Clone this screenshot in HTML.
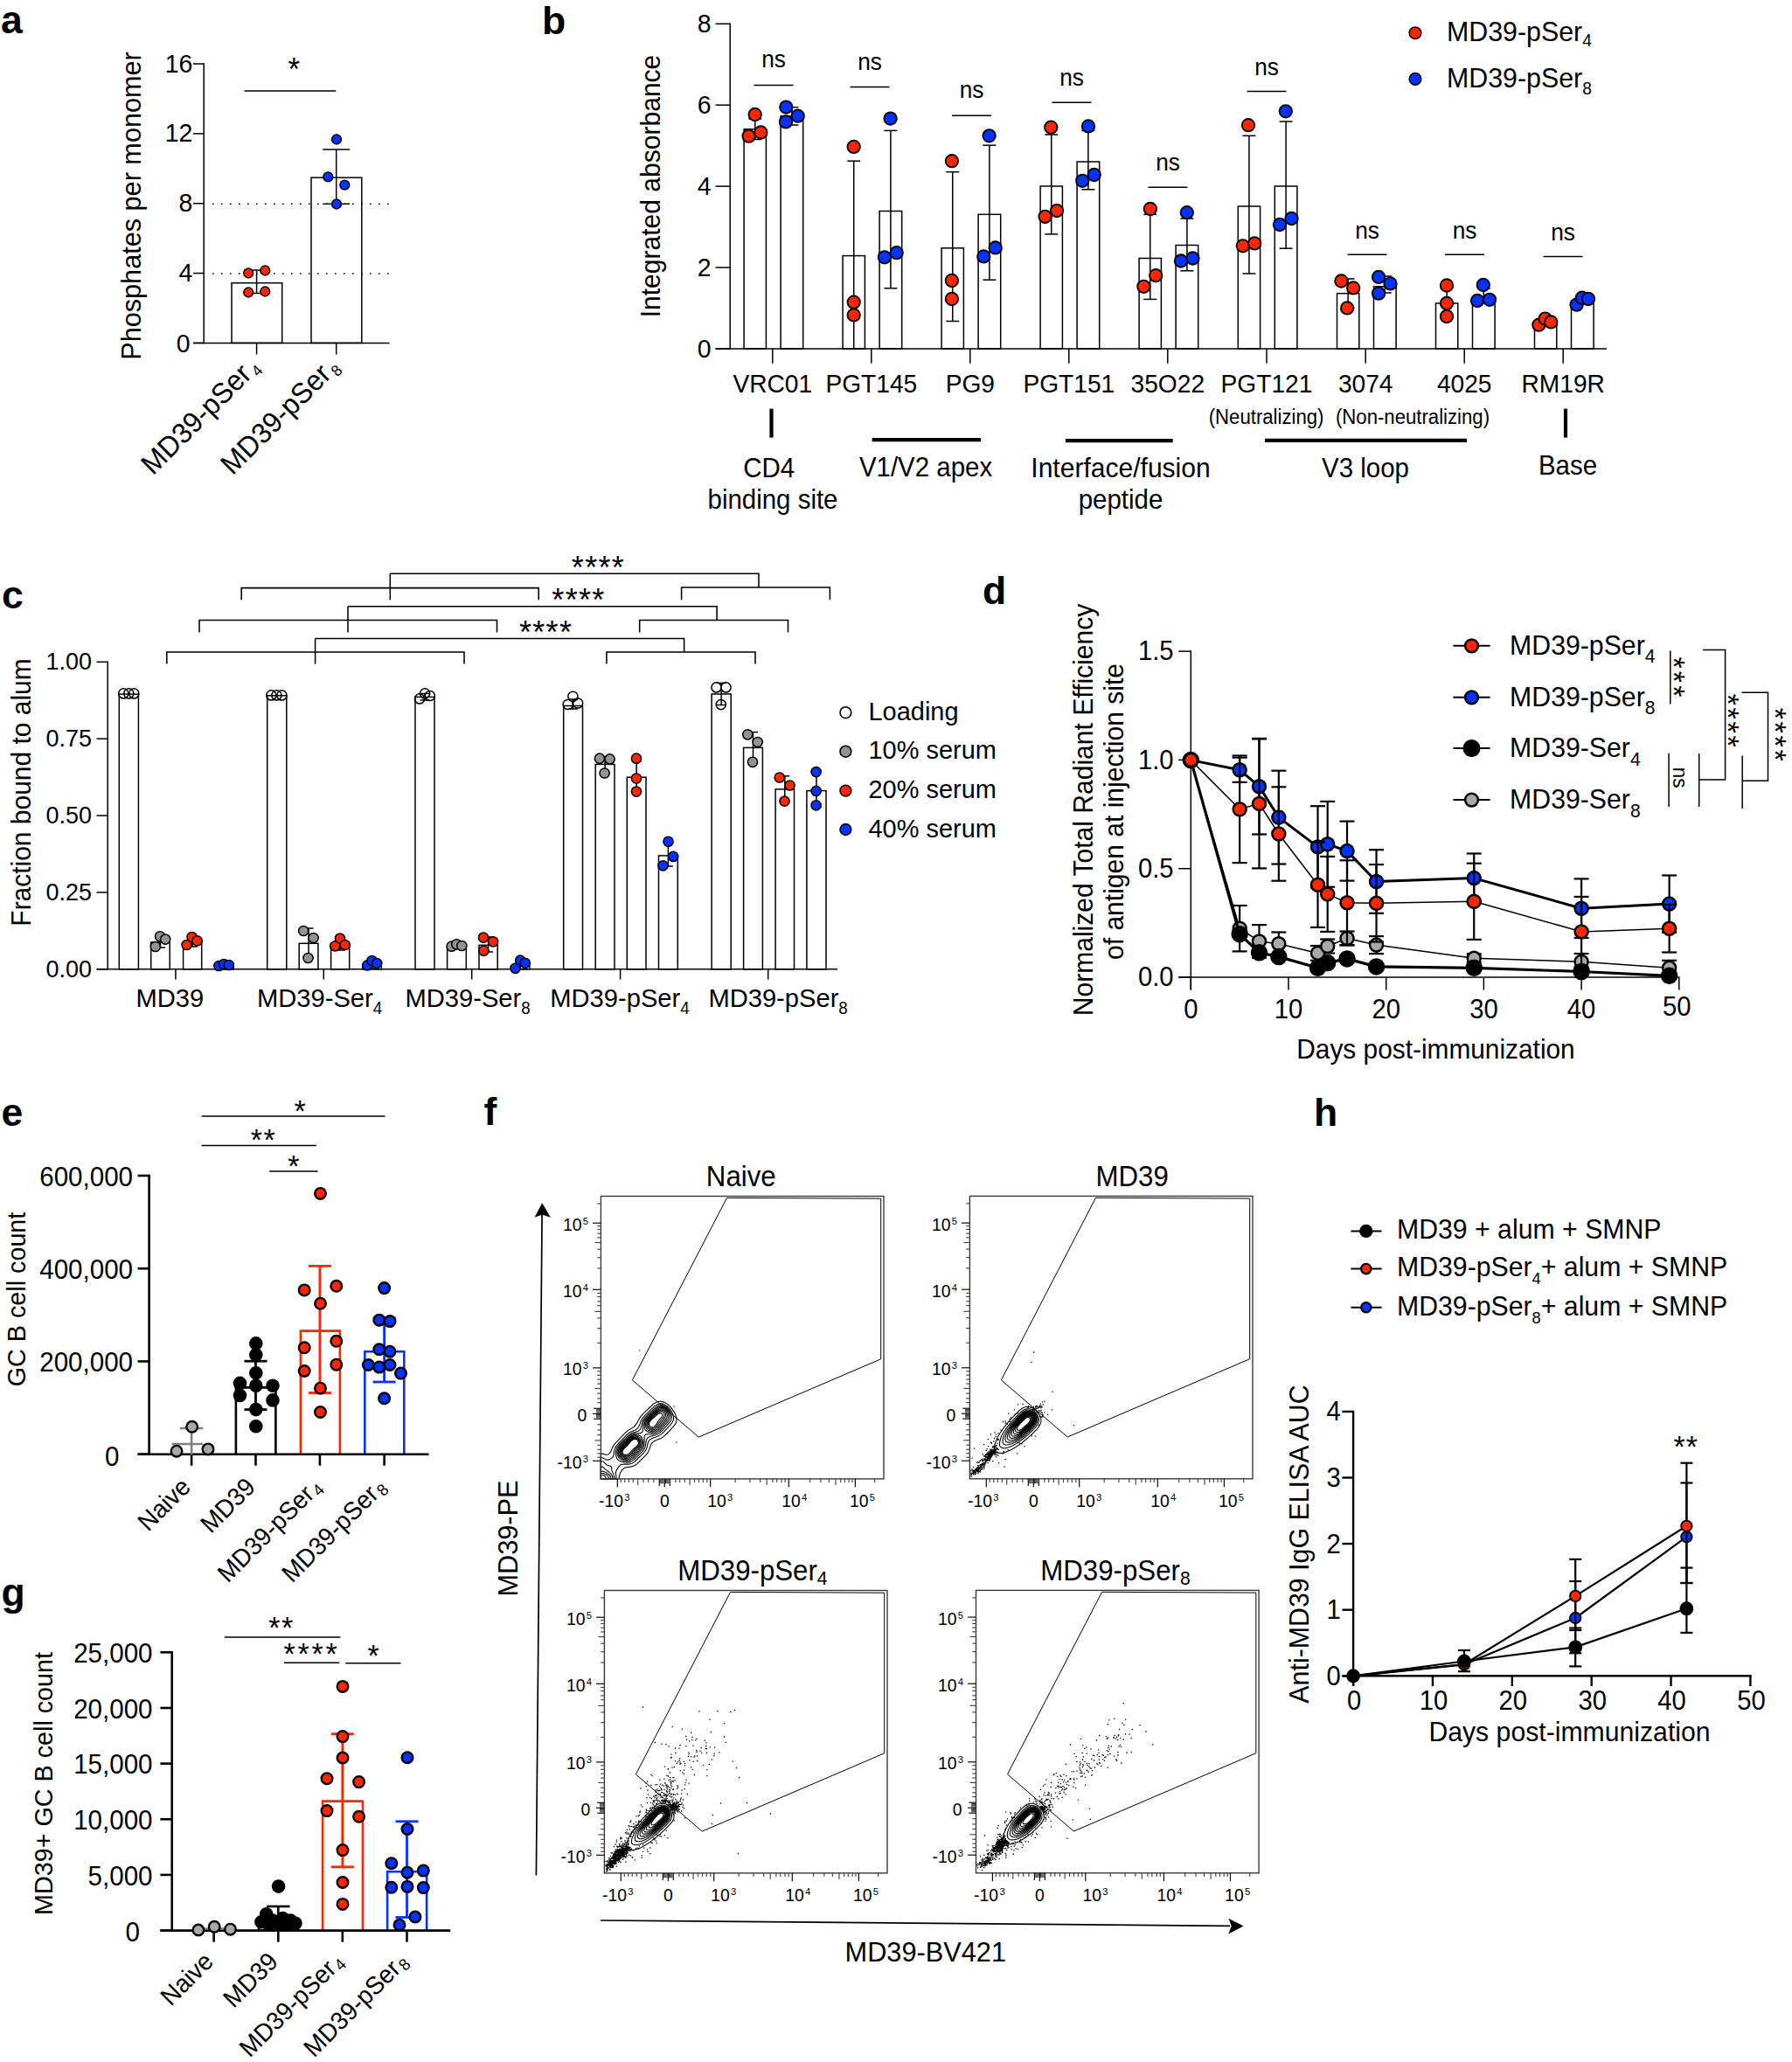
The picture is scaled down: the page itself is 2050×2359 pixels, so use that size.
<!DOCTYPE html>
<html lang="en"><head><meta charset="utf-8"><title>Figure</title>
<style>
html,body{margin:0;padding:0;background:#fff;}
body{width:2050px;height:2359px;overflow:hidden;}
svg{display:block;font-family:'Liberation Sans', Arial, Helvetica, sans-serif;fill:#000;}
svg text{stroke:none;}
</style></head><body>
<svg width="2050" height="2359" viewBox="0 0 2050 2359">
<rect x="0" y="0" width="2050" height="2359" fill="#fff" stroke="none"/>
<text transform="translate(1 38)" font-size="44.5" font-weight="bold">a</text>
<line x1="233.2" y1="72.25" x2="233.2" y2="393.15" stroke="#000" stroke-width="1.5"/>
<line x1="221" y1="392.4" x2="445.5" y2="392.4" stroke="#000" stroke-width="1.5"/>
<line x1="221" y1="392.4" x2="233.2" y2="392.4" stroke="#000" stroke-width="1.5"/>
<text transform="translate(217.6 402.6) scale(0.96 1)" font-size="29.64" text-anchor="end">0</text>
<line x1="221" y1="312.56" x2="233.2" y2="312.56" stroke="#000" stroke-width="1.5"/>
<text transform="translate(220.4 322.16) scale(0.96 1)" font-size="29.64" text-anchor="end">4</text>
<line x1="221" y1="232.72" x2="233.2" y2="232.72" stroke="#000" stroke-width="1.5"/>
<text transform="translate(220.4 242.32) scale(0.96 1)" font-size="29.64" text-anchor="end">8</text>
<line x1="221" y1="152.88" x2="233.2" y2="152.88" stroke="#000" stroke-width="1.5"/>
<text transform="translate(220.4 162.48) scale(0.96 1)" font-size="29.64" text-anchor="end">12</text>
<line x1="221" y1="73.04" x2="233.2" y2="73.04" stroke="#000" stroke-width="1.5"/>
<text transform="translate(220.4 82.64) scale(0.96 1)" font-size="29.64" text-anchor="end">16</text>
<line x1="293.6" y1="392.4" x2="293.6" y2="405.5" stroke="#000" stroke-width="1.5"/>
<line x1="384.7" y1="392.4" x2="384.7" y2="405.5" stroke="#000" stroke-width="1.5"/>
<line x1="243" y1="233.3" x2="448" y2="233.3" stroke="#000" stroke-width="1.6" stroke-dasharray="1.6 8.4"/>
<line x1="243" y1="313" x2="448" y2="313" stroke="#000" stroke-width="1.6" stroke-dasharray="1.6 8.4"/>
<rect x="265" y="323.7" width="57.7" height="68.7" fill="none" stroke="#000" stroke-width="1.5"/>
<rect x="356" y="203.2" width="57.8" height="189.2" fill="none" stroke="#000" stroke-width="1.5"/>
<line x1="293.6" y1="309" x2="293.6" y2="335.5" stroke="#000" stroke-width="1.5"/>
<line x1="279.1" y1="309" x2="308.1" y2="309" stroke="#000" stroke-width="1.5"/>
<line x1="279.1" y1="335.5" x2="308.1" y2="335.5" stroke="#000" stroke-width="1.5"/>
<line x1="384.7" y1="171" x2="384.7" y2="233.3" stroke="#000" stroke-width="1.5"/>
<line x1="369.2" y1="171" x2="400.2" y2="171" stroke="#000" stroke-width="1.5"/>
<line x1="369.2" y1="233.3" x2="400.2" y2="233.3" stroke="#000" stroke-width="1.5"/>
<circle cx="284.2" cy="312.5" r="5.4" fill="#ff2600" stroke="#000" stroke-width="1.5"/>
<circle cx="303.3" cy="309.5" r="5.4" fill="#ff2600" stroke="#000" stroke-width="1.5"/>
<circle cx="284.2" cy="334.5" r="5.4" fill="#ff2600" stroke="#000" stroke-width="1.5"/>
<circle cx="303.3" cy="333.5" r="5.4" fill="#ff2600" stroke="#000" stroke-width="1.5"/>
<circle cx="385" cy="159.5" r="5.4" fill="#0433ff" stroke="#000" stroke-width="1.5"/>
<circle cx="375.3" cy="202.3" r="5.4" fill="#0433ff" stroke="#000" stroke-width="1.5"/>
<circle cx="394.3" cy="211.7" r="5.4" fill="#0433ff" stroke="#000" stroke-width="1.5"/>
<circle cx="385" cy="233.5" r="5.4" fill="#0433ff" stroke="#000" stroke-width="1.5"/>
<line x1="279.5" y1="104" x2="384.3" y2="104" stroke="#000" stroke-width="1.5"/>
<text transform="translate(336.3 91.5) scale(0.96 1)" font-size="36.4" text-anchor="middle">*</text>
<text transform="translate(160.5 235.5) rotate(-90) scale(0.96 1)" font-size="31.93" text-anchor="middle">Phosphates per monomer</text>
<text transform="translate(298.3 421.3) rotate(-45) scale(0.96 1)" font-size="32.97" text-anchor="end">MD39-pSer<tspan dx="3" dy="5" font-size="18">4</tspan></text>
<text transform="translate(389.3 421.3) rotate(-45) scale(0.96 1)" font-size="32.97" text-anchor="end">MD39-pSer<tspan dx="3" dy="5" font-size="18">8</tspan></text>
<text transform="translate(620 39)" font-size="44.5" font-weight="bold">b</text>
<line x1="835.2" y1="26.45" x2="835.2" y2="399.75" stroke="#000" stroke-width="1.5"/>
<line x1="818.5" y1="399" x2="1838" y2="399" stroke="#000" stroke-width="1.5"/>
<line x1="818.5" y1="399" x2="835.2" y2="399" stroke="#000" stroke-width="1.5"/>
<text transform="translate(813.5 408.6) scale(0.96 1)" font-size="29.64" text-anchor="end">0</text>
<line x1="818.5" y1="306.06" x2="835.2" y2="306.06" stroke="#000" stroke-width="1.5"/>
<text transform="translate(813.5 315.66) scale(0.96 1)" font-size="29.64" text-anchor="end">2</text>
<line x1="818.5" y1="213.12" x2="835.2" y2="213.12" stroke="#000" stroke-width="1.5"/>
<text transform="translate(813.5 222.72) scale(0.96 1)" font-size="29.64" text-anchor="end">4</text>
<line x1="818.5" y1="120.18" x2="835.2" y2="120.18" stroke="#000" stroke-width="1.5"/>
<text transform="translate(813.5 129.78) scale(0.96 1)" font-size="29.64" text-anchor="end">6</text>
<line x1="818.5" y1="27.24" x2="835.2" y2="27.24" stroke="#000" stroke-width="1.5"/>
<text transform="translate(813.5 36.84) scale(0.96 1)" font-size="29.64" text-anchor="end">8</text>
<line x1="883.8" y1="399" x2="883.8" y2="415.8" stroke="#000" stroke-width="1.5"/>
<text transform="translate(883.8 448.7) scale(0.96 1)" font-size="29.33" text-anchor="middle">VRC01</text>
<line x1="996.8" y1="399" x2="996.8" y2="415.8" stroke="#000" stroke-width="1.5"/>
<text transform="translate(996.8 448.7) scale(0.96 1)" font-size="29.33" text-anchor="middle">PGT145</text>
<line x1="1109.8" y1="399" x2="1109.8" y2="415.8" stroke="#000" stroke-width="1.5"/>
<text transform="translate(1109.8 448.7) scale(0.96 1)" font-size="29.33" text-anchor="middle">PG9</text>
<line x1="1222.8" y1="399" x2="1222.8" y2="415.8" stroke="#000" stroke-width="1.5"/>
<text transform="translate(1222.8 448.7) scale(0.96 1)" font-size="29.33" text-anchor="middle">PGT151</text>
<line x1="1335.8" y1="399" x2="1335.8" y2="415.8" stroke="#000" stroke-width="1.5"/>
<text transform="translate(1335.8 448.7) scale(0.96 1)" font-size="29.33" text-anchor="middle">35O22</text>
<line x1="1449" y1="399" x2="1449" y2="415.8" stroke="#000" stroke-width="1.5"/>
<text transform="translate(1449 448.7) scale(0.96 1)" font-size="29.33" text-anchor="middle">PGT121</text>
<line x1="1562.2" y1="399" x2="1562.2" y2="415.8" stroke="#000" stroke-width="1.5"/>
<text transform="translate(1562.2 448.7) scale(0.96 1)" font-size="29.33" text-anchor="middle">3074</text>
<line x1="1675.2" y1="399" x2="1675.2" y2="415.8" stroke="#000" stroke-width="1.5"/>
<text transform="translate(1675.2 448.7) scale(0.96 1)" font-size="29.33" text-anchor="middle">4025</text>
<line x1="1788.2" y1="399" x2="1788.2" y2="415.8" stroke="#000" stroke-width="1.5"/>
<text transform="translate(1788.2 448.7) scale(0.96 1)" font-size="29.33" text-anchor="middle">RM19R</text>
<rect x="851.1" y="147.8" width="25.3" height="251.2" fill="none" stroke="#000" stroke-width="1.5"/>
<line x1="863.75" y1="136" x2="863.75" y2="159.5" stroke="#000" stroke-width="1.5"/>
<line x1="856.25" y1="136" x2="871.25" y2="136" stroke="#000" stroke-width="1.5"/>
<line x1="856.25" y1="159.5" x2="871.25" y2="159.5" stroke="#000" stroke-width="1.5"/>
<circle cx="863.7" cy="131" r="7.2" fill="#ff2600" stroke="#000" stroke-width="1.9"/>
<circle cx="856.6" cy="155.7" r="7.2" fill="#ff2600" stroke="#000" stroke-width="1.9"/>
<circle cx="870.4" cy="151.5" r="7.2" fill="#ff2600" stroke="#000" stroke-width="1.9"/>
<rect x="893.1" y="132.9" width="25.6" height="266.1" fill="none" stroke="#000" stroke-width="1.5"/>
<line x1="905.9" y1="122.7" x2="905.9" y2="143" stroke="#000" stroke-width="1.5"/>
<line x1="898.4" y1="122.7" x2="913.4" y2="122.7" stroke="#000" stroke-width="1.5"/>
<line x1="898.4" y1="143" x2="913.4" y2="143" stroke="#000" stroke-width="1.5"/>
<circle cx="899.3" cy="122.6" r="7.2" fill="#0433ff" stroke="#000" stroke-width="1.9"/>
<circle cx="912.7" cy="132.7" r="7.2" fill="#0433ff" stroke="#000" stroke-width="1.9"/>
<circle cx="898.9" cy="139.4" r="7.2" fill="#0433ff" stroke="#000" stroke-width="1.9"/>
<rect x="964.1" y="292.6" width="25.3" height="106.4" fill="none" stroke="#000" stroke-width="1.5"/>
<line x1="976.75" y1="184.2" x2="976.75" y2="399" stroke="#000" stroke-width="1.5"/>
<line x1="969.25" y1="184.2" x2="984.25" y2="184.2" stroke="#000" stroke-width="1.5"/>
<line x1="969.25" y1="399" x2="984.25" y2="399" stroke="#000" stroke-width="1.5"/>
<circle cx="976.7" cy="167.9" r="7.2" fill="#ff2600" stroke="#000" stroke-width="1.9"/>
<circle cx="976.7" cy="345.7" r="7.2" fill="#ff2600" stroke="#000" stroke-width="1.9"/>
<circle cx="976.7" cy="360.4" r="7.2" fill="#ff2600" stroke="#000" stroke-width="1.9"/>
<rect x="1006.1" y="241.5" width="25.6" height="157.5" fill="none" stroke="#000" stroke-width="1.5"/>
<line x1="1018.9" y1="149.4" x2="1018.9" y2="329.8" stroke="#000" stroke-width="1.5"/>
<line x1="1011.4" y1="149.4" x2="1026.4" y2="149.4" stroke="#000" stroke-width="1.5"/>
<line x1="1011.4" y1="329.8" x2="1026.4" y2="329.8" stroke="#000" stroke-width="1.5"/>
<circle cx="1018.6" cy="135.6" r="7.2" fill="#0433ff" stroke="#000" stroke-width="1.9"/>
<circle cx="1011.9" cy="294.3" r="7.2" fill="#0433ff" stroke="#000" stroke-width="1.9"/>
<circle cx="1025.7" cy="289.2" r="7.2" fill="#0433ff" stroke="#000" stroke-width="1.9"/>
<rect x="1077.1" y="283.8" width="25.3" height="115.2" fill="none" stroke="#000" stroke-width="1.5"/>
<line x1="1089.75" y1="196.7" x2="1089.75" y2="367.5" stroke="#000" stroke-width="1.5"/>
<line x1="1082.25" y1="196.7" x2="1097.25" y2="196.7" stroke="#000" stroke-width="1.5"/>
<line x1="1082.25" y1="367.5" x2="1097.25" y2="367.5" stroke="#000" stroke-width="1.5"/>
<circle cx="1088.9" cy="184.2" r="7.2" fill="#ff2600" stroke="#000" stroke-width="1.9"/>
<circle cx="1088.9" cy="321" r="7.2" fill="#ff2600" stroke="#000" stroke-width="1.9"/>
<circle cx="1088.9" cy="342" r="7.2" fill="#ff2600" stroke="#000" stroke-width="1.9"/>
<rect x="1119.1" y="245.3" width="25.6" height="153.7" fill="none" stroke="#000" stroke-width="1.5"/>
<line x1="1131.9" y1="166.2" x2="1131.9" y2="320.2" stroke="#000" stroke-width="1.5"/>
<line x1="1124.4" y1="166.2" x2="1139.4" y2="166.2" stroke="#000" stroke-width="1.5"/>
<line x1="1124.4" y1="320.2" x2="1139.4" y2="320.2" stroke="#000" stroke-width="1.5"/>
<circle cx="1131.6" cy="155.3" r="7.2" fill="#0433ff" stroke="#000" stroke-width="1.9"/>
<circle cx="1125.3" cy="293.4" r="7.2" fill="#0433ff" stroke="#000" stroke-width="1.9"/>
<circle cx="1138.7" cy="283.4" r="7.2" fill="#0433ff" stroke="#000" stroke-width="1.9"/>
<rect x="1190.1" y="213" width="25.3" height="186" fill="none" stroke="#000" stroke-width="1.5"/>
<line x1="1202.75" y1="154" x2="1202.75" y2="267.9" stroke="#000" stroke-width="1.5"/>
<line x1="1195.25" y1="154" x2="1210.25" y2="154" stroke="#000" stroke-width="1.5"/>
<line x1="1195.25" y1="267.9" x2="1210.25" y2="267.9" stroke="#000" stroke-width="1.5"/>
<circle cx="1202.3" cy="145.7" r="7.2" fill="#ff2600" stroke="#000" stroke-width="1.9"/>
<circle cx="1195.6" cy="247.8" r="7.2" fill="#ff2600" stroke="#000" stroke-width="1.9"/>
<circle cx="1209" cy="241.1" r="7.2" fill="#ff2600" stroke="#000" stroke-width="1.9"/>
<rect x="1232.1" y="185" width="25.6" height="214" fill="none" stroke="#000" stroke-width="1.5"/>
<line x1="1244.9" y1="149.4" x2="1244.9" y2="216.8" stroke="#000" stroke-width="1.5"/>
<line x1="1237.4" y1="149.4" x2="1252.4" y2="149.4" stroke="#000" stroke-width="1.5"/>
<line x1="1237.4" y1="216.8" x2="1252.4" y2="216.8" stroke="#000" stroke-width="1.5"/>
<circle cx="1245" cy="144.4" r="7.2" fill="#0433ff" stroke="#000" stroke-width="1.9"/>
<circle cx="1238.3" cy="206.8" r="7.2" fill="#0433ff" stroke="#000" stroke-width="1.9"/>
<circle cx="1251.7" cy="200" r="7.2" fill="#0433ff" stroke="#000" stroke-width="1.9"/>
<rect x="1303.1" y="295.5" width="25.3" height="103.5" fill="none" stroke="#000" stroke-width="1.5"/>
<line x1="1315.75" y1="245.3" x2="1315.75" y2="342.4" stroke="#000" stroke-width="1.5"/>
<line x1="1308.25" y1="245.3" x2="1323.25" y2="245.3" stroke="#000" stroke-width="1.5"/>
<line x1="1308.25" y1="342.4" x2="1323.25" y2="342.4" stroke="#000" stroke-width="1.5"/>
<circle cx="1315.9" cy="239" r="7.2" fill="#ff2600" stroke="#000" stroke-width="1.9"/>
<circle cx="1322.2" cy="315.2" r="7.2" fill="#ff2600" stroke="#000" stroke-width="1.9"/>
<circle cx="1308.4" cy="327.8" r="7.2" fill="#ff2600" stroke="#000" stroke-width="1.9"/>
<rect x="1345.1" y="280.5" width="25.6" height="118.5" fill="none" stroke="#000" stroke-width="1.5"/>
<line x1="1357.9" y1="250" x2="1357.9" y2="309.8" stroke="#000" stroke-width="1.5"/>
<line x1="1350.4" y1="250" x2="1365.4" y2="250" stroke="#000" stroke-width="1.5"/>
<line x1="1350.4" y1="309.8" x2="1365.4" y2="309.8" stroke="#000" stroke-width="1.5"/>
<circle cx="1357.8" cy="243.2" r="7.2" fill="#0433ff" stroke="#000" stroke-width="1.9"/>
<circle cx="1351" cy="298.5" r="7.2" fill="#0433ff" stroke="#000" stroke-width="1.9"/>
<circle cx="1364.5" cy="295.5" r="7.2" fill="#0433ff" stroke="#000" stroke-width="1.9"/>
<rect x="1416.3" y="236" width="25.3" height="163" fill="none" stroke="#000" stroke-width="1.5"/>
<line x1="1428.95" y1="155.3" x2="1428.95" y2="313" stroke="#000" stroke-width="1.5"/>
<line x1="1421.45" y1="155.3" x2="1436.45" y2="155.3" stroke="#000" stroke-width="1.5"/>
<line x1="1421.45" y1="313" x2="1436.45" y2="313" stroke="#000" stroke-width="1.5"/>
<circle cx="1428" cy="143.2" r="7.2" fill="#ff2600" stroke="#000" stroke-width="1.9"/>
<circle cx="1421.8" cy="281.3" r="7.2" fill="#ff2600" stroke="#000" stroke-width="1.9"/>
<circle cx="1435.2" cy="278.4" r="7.2" fill="#ff2600" stroke="#000" stroke-width="1.9"/>
<rect x="1458.3" y="213" width="25.6" height="186" fill="none" stroke="#000" stroke-width="1.5"/>
<line x1="1471.1" y1="139" x2="1471.1" y2="284.2" stroke="#000" stroke-width="1.5"/>
<line x1="1463.6" y1="139" x2="1478.6" y2="139" stroke="#000" stroke-width="1.5"/>
<line x1="1463.6" y1="284.2" x2="1478.6" y2="284.2" stroke="#000" stroke-width="1.5"/>
<circle cx="1470.8" cy="127.3" r="7.2" fill="#0433ff" stroke="#000" stroke-width="1.9"/>
<circle cx="1464" cy="257" r="7.2" fill="#0433ff" stroke="#000" stroke-width="1.9"/>
<circle cx="1477.5" cy="250" r="7.2" fill="#0433ff" stroke="#000" stroke-width="1.9"/>
<rect x="1529.5" y="335.7" width="25.3" height="63.3" fill="none" stroke="#000" stroke-width="1.5"/>
<line x1="1542.15" y1="319" x2="1542.15" y2="352" stroke="#000" stroke-width="1.5"/>
<line x1="1534.65" y1="319" x2="1549.65" y2="319" stroke="#000" stroke-width="1.5"/>
<line x1="1534.65" y1="352" x2="1549.65" y2="352" stroke="#000" stroke-width="1.5"/>
<circle cx="1534.4" cy="321.5" r="7.2" fill="#ff2600" stroke="#000" stroke-width="1.9"/>
<circle cx="1548.2" cy="329.4" r="7.2" fill="#ff2600" stroke="#000" stroke-width="1.9"/>
<circle cx="1541.1" cy="352.4" r="7.2" fill="#ff2600" stroke="#000" stroke-width="1.9"/>
<rect x="1571.5" y="327.8" width="25.6" height="71.2" fill="none" stroke="#000" stroke-width="1.5"/>
<line x1="1584.3" y1="316" x2="1584.3" y2="335" stroke="#000" stroke-width="1.5"/>
<line x1="1576.8" y1="316" x2="1591.8" y2="316" stroke="#000" stroke-width="1.5"/>
<line x1="1576.8" y1="335" x2="1591.8" y2="335" stroke="#000" stroke-width="1.5"/>
<circle cx="1577.1" cy="316.9" r="7.2" fill="#0433ff" stroke="#000" stroke-width="1.9"/>
<circle cx="1590.5" cy="324.4" r="7.2" fill="#0433ff" stroke="#000" stroke-width="1.9"/>
<circle cx="1577.1" cy="335.7" r="7.2" fill="#0433ff" stroke="#000" stroke-width="1.9"/>
<rect x="1642.5" y="347" width="25.3" height="52" fill="none" stroke="#000" stroke-width="1.5"/>
<line x1="1655.15" y1="329" x2="1655.15" y2="364" stroke="#000" stroke-width="1.5"/>
<line x1="1647.65" y1="329" x2="1662.65" y2="329" stroke="#000" stroke-width="1.5"/>
<line x1="1647.65" y1="364" x2="1662.65" y2="364" stroke="#000" stroke-width="1.5"/>
<circle cx="1655" cy="326.5" r="7.2" fill="#ff2600" stroke="#000" stroke-width="1.9"/>
<circle cx="1655" cy="347" r="7.2" fill="#ff2600" stroke="#000" stroke-width="1.9"/>
<circle cx="1655" cy="362" r="7.2" fill="#ff2600" stroke="#000" stroke-width="1.9"/>
<rect x="1684.5" y="342.4" width="25.6" height="56.6" fill="none" stroke="#000" stroke-width="1.5"/>
<line x1="1697.3" y1="330" x2="1697.3" y2="346" stroke="#000" stroke-width="1.5"/>
<line x1="1689.8" y1="330" x2="1704.8" y2="330" stroke="#000" stroke-width="1.5"/>
<line x1="1689.8" y1="346" x2="1704.8" y2="346" stroke="#000" stroke-width="1.5"/>
<circle cx="1696.8" cy="326" r="7.2" fill="#0433ff" stroke="#000" stroke-width="1.9"/>
<circle cx="1690.1" cy="344" r="7.2" fill="#0433ff" stroke="#000" stroke-width="1.9"/>
<circle cx="1704" cy="342.8" r="7.2" fill="#0433ff" stroke="#000" stroke-width="1.9"/>
<rect x="1755.5" y="368.4" width="25.3" height="30.6" fill="none" stroke="#000" stroke-width="1.5"/>
<line x1="1768.15" y1="365" x2="1768.15" y2="372" stroke="#000" stroke-width="1.5"/>
<line x1="1760.65" y1="365" x2="1775.65" y2="365" stroke="#000" stroke-width="1.5"/>
<line x1="1760.65" y1="372" x2="1775.65" y2="372" stroke="#000" stroke-width="1.5"/>
<circle cx="1760.4" cy="371.7" r="7.2" fill="#ff2600" stroke="#000" stroke-width="1.9"/>
<circle cx="1767.6" cy="364.6" r="7.2" fill="#ff2600" stroke="#000" stroke-width="1.9"/>
<circle cx="1774.3" cy="368.4" r="7.2" fill="#ff2600" stroke="#000" stroke-width="1.9"/>
<rect x="1797.5" y="344" width="25.6" height="55" fill="none" stroke="#000" stroke-width="1.5"/>
<line x1="1810.3" y1="340" x2="1810.3" y2="348" stroke="#000" stroke-width="1.5"/>
<line x1="1802.8" y1="340" x2="1817.8" y2="340" stroke="#000" stroke-width="1.5"/>
<line x1="1802.8" y1="348" x2="1817.8" y2="348" stroke="#000" stroke-width="1.5"/>
<circle cx="1803.6" cy="348.7" r="7.2" fill="#0433ff" stroke="#000" stroke-width="1.9"/>
<circle cx="1809.8" cy="340.7" r="7.2" fill="#0433ff" stroke="#000" stroke-width="1.9"/>
<circle cx="1817" cy="342" r="7.2" fill="#0433ff" stroke="#000" stroke-width="1.9"/>
<text transform="translate(885 77.4) scale(0.96 1)" font-size="27.35" text-anchor="middle">ns</text>
<line x1="862.5" y1="97.5" x2="907.5" y2="97.5" stroke="#000" stroke-width="1.5"/>
<text transform="translate(995 79.5) scale(0.96 1)" font-size="27.35" text-anchor="middle">ns</text>
<line x1="972.5" y1="99.6" x2="1017.5" y2="99.6" stroke="#000" stroke-width="1.5"/>
<text transform="translate(1111.5 112) scale(0.96 1)" font-size="27.35" text-anchor="middle">ns</text>
<line x1="1089" y1="132.2" x2="1134" y2="132.2" stroke="#000" stroke-width="1.5"/>
<text transform="translate(1226 97.5) scale(0.96 1)" font-size="27.35" text-anchor="middle">ns</text>
<line x1="1203.5" y1="117.2" x2="1248.5" y2="117.2" stroke="#000" stroke-width="1.5"/>
<text transform="translate(1336 194.6) scale(0.96 1)" font-size="27.35" text-anchor="middle">ns</text>
<line x1="1313.5" y1="214.3" x2="1358.5" y2="214.3" stroke="#000" stroke-width="1.5"/>
<text transform="translate(1449 85.8) scale(0.96 1)" font-size="27.35" text-anchor="middle">ns</text>
<line x1="1426.5" y1="104.6" x2="1471.5" y2="104.6" stroke="#000" stroke-width="1.5"/>
<text transform="translate(1564 273) scale(0.96 1)" font-size="27.35" text-anchor="middle">ns</text>
<line x1="1541.5" y1="291.3" x2="1586.5" y2="291.3" stroke="#000" stroke-width="1.5"/>
<text transform="translate(1675.5 273) scale(0.96 1)" font-size="27.35" text-anchor="middle">ns</text>
<line x1="1653" y1="291.3" x2="1698" y2="291.3" stroke="#000" stroke-width="1.5"/>
<text transform="translate(1788 274.5) scale(0.96 1)" font-size="27.35" text-anchor="middle">ns</text>
<line x1="1765.5" y1="293.4" x2="1810.5" y2="293.4" stroke="#000" stroke-width="1.5"/>
<line x1="882.5" y1="467.6" x2="882.5" y2="500.6" stroke="#000" stroke-width="4.2"/>
<text transform="translate(879.6 545.7) scale(0.96 1)" font-size="30.68" text-anchor="middle">CD4</text>
<text transform="translate(884 582.3) scale(0.96 1)" font-size="30.68" text-anchor="middle">binding site</text>
<line x1="997.7" y1="503.2" x2="1122" y2="503.2" stroke="#000" stroke-width="4.2"/>
<text transform="translate(1059 545) scale(0.96 1)" font-size="30.68" text-anchor="middle">V1/V2 apex</text>
<line x1="1219" y1="504.2" x2="1341.7" y2="504.2" stroke="#000" stroke-width="4.2"/>
<text transform="translate(1282 545.5) scale(0.96 1)" font-size="31.3" text-anchor="middle">Interface/fusion</text>
<text transform="translate(1282 582.3) scale(0.96 1)" font-size="30.68" text-anchor="middle">peptide</text>
<text transform="translate(1448.6 484.7) scale(0.96 1)" font-size="23.09" text-anchor="middle">(Neutralizing)</text>
<text transform="translate(1616 484.7) scale(0.96 1)" font-size="23.09" text-anchor="middle">(Non-neutralizing)</text>
<line x1="1447" y1="503.8" x2="1678" y2="503.8" stroke="#000" stroke-width="4.2"/>
<text transform="translate(1562 545.5) scale(0.96 1)" font-size="30.68" text-anchor="middle">V3 loop</text>
<line x1="1791" y1="467.6" x2="1791" y2="500.6" stroke="#000" stroke-width="4.2"/>
<text transform="translate(1793.5 542.5) scale(0.96 1)" font-size="30.68" text-anchor="middle">Base</text>
<text transform="translate(755 213) rotate(-90) scale(0.96 1)" font-size="31.3" text-anchor="middle">Integrated absorbance</text>
<circle cx="1619" cy="37.7" r="6.8" fill="#ff2600" stroke="#000" stroke-width="1.5"/>
<circle cx="1619" cy="90.4" r="6.8" fill="#0433ff" stroke="#000" stroke-width="1.5"/>
<text transform="translate(1655 47.3) scale(0.96 1)" font-size="31.62">MD39-pSer<tspan dy="5.5" font-size="20">4</tspan></text>
<text transform="translate(1655 99.8) scale(0.96 1)" font-size="31.62">MD39-pSer<tspan dy="8" font-size="20">8</tspan></text>
<text transform="translate(2 696.3)" font-size="44.5" font-weight="bold">c</text>
<line x1="123.2" y1="756.55" x2="123.2" y2="1109.55" stroke="#000" stroke-width="1.5"/>
<line x1="110.5" y1="1108.8" x2="958" y2="1108.8" stroke="#000" stroke-width="1.5"/>
<line x1="110.5" y1="1108.8" x2="123.2" y2="1108.8" stroke="#000" stroke-width="1.5"/>
<text transform="translate(105 1117.8) scale(0.96 1)" font-size="28.08" text-anchor="end">0.00</text>
<line x1="110.5" y1="1020.92" x2="123.2" y2="1020.92" stroke="#000" stroke-width="1.5"/>
<text transform="translate(105 1029.92) scale(0.96 1)" font-size="28.08" text-anchor="end">0.25</text>
<line x1="110.5" y1="933.05" x2="123.2" y2="933.05" stroke="#000" stroke-width="1.5"/>
<text transform="translate(105 942.05) scale(0.96 1)" font-size="28.08" text-anchor="end">0.50</text>
<line x1="110.5" y1="845.17" x2="123.2" y2="845.17" stroke="#000" stroke-width="1.5"/>
<text transform="translate(105 854.17) scale(0.96 1)" font-size="28.08" text-anchor="end">0.75</text>
<line x1="110.5" y1="757.3" x2="123.2" y2="757.3" stroke="#000" stroke-width="1.5"/>
<text transform="translate(105 766.3) scale(0.96 1)" font-size="28.08" text-anchor="end">1.00</text>
<line x1="200.9" y1="1108.8" x2="200.9" y2="1120.5" stroke="#000" stroke-width="1.5"/>
<line x1="370.3" y1="1108.8" x2="370.3" y2="1120.5" stroke="#000" stroke-width="1.5"/>
<line x1="539.7" y1="1108.8" x2="539.7" y2="1120.5" stroke="#000" stroke-width="1.5"/>
<line x1="709.6" y1="1108.8" x2="709.6" y2="1120.5" stroke="#000" stroke-width="1.5"/>
<line x1="878.7" y1="1108.8" x2="878.7" y2="1120.5" stroke="#000" stroke-width="1.5"/>
<rect x="136.3" y="794.1" width="22.1" height="314.7" fill="none" stroke="#000" stroke-width="1.5"/>
<circle cx="141.3" cy="793.4" r="5.6" fill="none" stroke="#000" stroke-width="1.5"/>
<circle cx="147.3" cy="793.4" r="5.6" fill="none" stroke="#000" stroke-width="1.5"/>
<circle cx="153.3" cy="793.4" r="5.6" fill="none" stroke="#000" stroke-width="1.5"/>
<rect x="172.7" y="1078" width="21.5" height="30.8" fill="none" stroke="#000" stroke-width="1.5"/>
<line x1="183.45" y1="1072" x2="183.45" y2="1084" stroke="#000" stroke-width="1.5"/>
<line x1="177.95" y1="1072" x2="188.95" y2="1072" stroke="#000" stroke-width="1.5"/>
<line x1="177.95" y1="1084" x2="188.95" y2="1084" stroke="#000" stroke-width="1.5"/>
<circle cx="177.8" cy="1083" r="5.6" fill="#929292" stroke="#000" stroke-width="1.5"/>
<circle cx="183.1" cy="1071.3" r="5.6" fill="#929292" stroke="#000" stroke-width="1.5"/>
<circle cx="189.2" cy="1074.6" r="5.6" fill="#929292" stroke="#000" stroke-width="1.5"/>
<rect x="209.6" y="1078" width="21.1" height="30.8" fill="none" stroke="#000" stroke-width="1.5"/>
<line x1="220.15" y1="1072.5" x2="220.15" y2="1083" stroke="#000" stroke-width="1.5"/>
<line x1="214.65" y1="1072.5" x2="225.65" y2="1072.5" stroke="#000" stroke-width="1.5"/>
<line x1="214.65" y1="1083" x2="225.65" y2="1083" stroke="#000" stroke-width="1.5"/>
<circle cx="213.6" cy="1081" r="5.6" fill="#ff2600" stroke="#000" stroke-width="1.5"/>
<circle cx="219.6" cy="1072" r="5.6" fill="#ff2600" stroke="#000" stroke-width="1.5"/>
<circle cx="225.6" cy="1076.3" r="5.6" fill="#ff2600" stroke="#000" stroke-width="1.5"/>
<rect x="246" y="1105.4" width="21.3" height="3.4" fill="none" stroke="#000" stroke-width="1.5"/>
<line x1="256.65" y1="1103" x2="256.65" y2="1107" stroke="#000" stroke-width="1.5"/>
<line x1="251.15" y1="1103" x2="262.15" y2="1103" stroke="#000" stroke-width="1.5"/>
<line x1="251.15" y1="1107" x2="262.15" y2="1107" stroke="#000" stroke-width="1.5"/>
<circle cx="250.4" cy="1105" r="5.6" fill="#0433ff" stroke="#000" stroke-width="1.5"/>
<circle cx="256.1" cy="1103" r="5.6" fill="#0433ff" stroke="#000" stroke-width="1.5"/>
<circle cx="261.8" cy="1104" r="5.6" fill="#0433ff" stroke="#000" stroke-width="1.5"/>
<rect x="305.7" y="795.8" width="22.1" height="313" fill="none" stroke="#000" stroke-width="1.5"/>
<circle cx="310.3" cy="795.4" r="5.6" fill="none" stroke="#000" stroke-width="1.5"/>
<circle cx="316.4" cy="795.4" r="5.6" fill="none" stroke="#000" stroke-width="1.5"/>
<circle cx="322.4" cy="795.4" r="5.6" fill="none" stroke="#000" stroke-width="1.5"/>
<rect x="342.2" y="1079.3" width="21.7" height="29.5" fill="none" stroke="#000" stroke-width="1.5"/>
<line x1="353.05" y1="1062" x2="353.05" y2="1096.5" stroke="#000" stroke-width="1.5"/>
<line x1="347.55" y1="1062" x2="358.55" y2="1062" stroke="#000" stroke-width="1.5"/>
<line x1="347.55" y1="1096.5" x2="358.55" y2="1096.5" stroke="#000" stroke-width="1.5"/>
<circle cx="347.2" cy="1065" r="5.6" fill="#929292" stroke="#000" stroke-width="1.5"/>
<circle cx="358.6" cy="1073" r="5.6" fill="#929292" stroke="#000" stroke-width="1.5"/>
<circle cx="352.5" cy="1096" r="5.6" fill="#929292" stroke="#000" stroke-width="1.5"/>
<rect x="378.6" y="1082" width="21.1" height="26.8" fill="none" stroke="#000" stroke-width="1.5"/>
<line x1="389.15" y1="1074" x2="389.15" y2="1087" stroke="#000" stroke-width="1.5"/>
<line x1="383.65" y1="1074" x2="394.65" y2="1074" stroke="#000" stroke-width="1.5"/>
<line x1="383.65" y1="1087" x2="394.65" y2="1087" stroke="#000" stroke-width="1.5"/>
<circle cx="383.3" cy="1082.3" r="5.6" fill="#ff2600" stroke="#000" stroke-width="1.5"/>
<circle cx="389" cy="1073.6" r="5.6" fill="#ff2600" stroke="#000" stroke-width="1.5"/>
<circle cx="394.7" cy="1081" r="5.6" fill="#ff2600" stroke="#000" stroke-width="1.5"/>
<rect x="415" y="1104.5" width="21.3" height="4.3" fill="none" stroke="#000" stroke-width="1.5"/>
<line x1="425.65" y1="1099.5" x2="425.65" y2="1108" stroke="#000" stroke-width="1.5"/>
<line x1="420.15" y1="1099.5" x2="431.15" y2="1099.5" stroke="#000" stroke-width="1.5"/>
<line x1="420.15" y1="1108" x2="431.15" y2="1108" stroke="#000" stroke-width="1.5"/>
<circle cx="420.2" cy="1104.4" r="5.6" fill="#0433ff" stroke="#000" stroke-width="1.5"/>
<circle cx="425.5" cy="1099" r="5.6" fill="#0433ff" stroke="#000" stroke-width="1.5"/>
<circle cx="431.2" cy="1102" r="5.6" fill="#0433ff" stroke="#000" stroke-width="1.5"/>
<rect x="475" y="797.4" width="22" height="311.4" fill="none" stroke="#000" stroke-width="1.5"/>
<line x1="486" y1="793.5" x2="486" y2="801" stroke="#000" stroke-width="1.5"/>
<line x1="480.5" y1="793.5" x2="491.5" y2="793.5" stroke="#000" stroke-width="1.5"/>
<line x1="480.5" y1="801" x2="491.5" y2="801" stroke="#000" stroke-width="1.5"/>
<circle cx="480" cy="799.4" r="5.6" fill="none" stroke="#000" stroke-width="1.5"/>
<circle cx="486.1" cy="793.4" r="5.6" fill="none" stroke="#000" stroke-width="1.5"/>
<circle cx="491.8" cy="796" r="5.6" fill="none" stroke="#000" stroke-width="1.5"/>
<rect x="511.6" y="1083" width="21.7" height="25.8" fill="none" stroke="#000" stroke-width="1.5"/>
<line x1="522.45" y1="1080" x2="522.45" y2="1085.5" stroke="#000" stroke-width="1.5"/>
<line x1="516.95" y1="1080" x2="527.95" y2="1080" stroke="#000" stroke-width="1.5"/>
<line x1="516.95" y1="1085.5" x2="527.95" y2="1085.5" stroke="#000" stroke-width="1.5"/>
<circle cx="516.6" cy="1082.7" r="5.6" fill="#929292" stroke="#000" stroke-width="1.5"/>
<circle cx="522.3" cy="1080.3" r="5.6" fill="#929292" stroke="#000" stroke-width="1.5"/>
<circle cx="528.3" cy="1082" r="5.6" fill="#929292" stroke="#000" stroke-width="1.5"/>
<rect x="548" y="1081.3" width="21.2" height="27.5" fill="none" stroke="#000" stroke-width="1.5"/>
<line x1="558.6" y1="1072" x2="558.6" y2="1089" stroke="#000" stroke-width="1.5"/>
<line x1="553.1" y1="1072" x2="564.1" y2="1072" stroke="#000" stroke-width="1.5"/>
<line x1="553.1" y1="1089" x2="564.1" y2="1089" stroke="#000" stroke-width="1.5"/>
<circle cx="553" cy="1072.6" r="5.6" fill="#ff2600" stroke="#000" stroke-width="1.5"/>
<circle cx="564.1" cy="1077.3" r="5.6" fill="#ff2600" stroke="#000" stroke-width="1.5"/>
<circle cx="553.4" cy="1087.7" r="5.6" fill="#ff2600" stroke="#000" stroke-width="1.5"/>
<rect x="584.5" y="1105" width="21.3" height="3.8" fill="none" stroke="#000" stroke-width="1.5"/>
<line x1="595.15" y1="1099" x2="595.15" y2="1108.5" stroke="#000" stroke-width="1.5"/>
<line x1="589.65" y1="1099" x2="600.65" y2="1099" stroke="#000" stroke-width="1.5"/>
<line x1="589.65" y1="1108.5" x2="600.65" y2="1108.5" stroke="#000" stroke-width="1.5"/>
<circle cx="589.5" cy="1107.8" r="5.6" fill="#0433ff" stroke="#000" stroke-width="1.5"/>
<circle cx="595.2" cy="1098.7" r="5.6" fill="#0433ff" stroke="#000" stroke-width="1.5"/>
<circle cx="600.8" cy="1101.8" r="5.6" fill="#0433ff" stroke="#000" stroke-width="1.5"/>
<rect x="644.7" y="807.5" width="21.8" height="301.3" fill="none" stroke="#000" stroke-width="1.5"/>
<line x1="655.6" y1="800" x2="655.6" y2="811" stroke="#000" stroke-width="1.5"/>
<line x1="650.1" y1="800" x2="661.1" y2="800" stroke="#000" stroke-width="1.5"/>
<line x1="650.1" y1="811" x2="661.1" y2="811" stroke="#000" stroke-width="1.5"/>
<circle cx="649.7" cy="806" r="5.6" fill="none" stroke="#000" stroke-width="1.5"/>
<circle cx="655.4" cy="796.8" r="5.6" fill="none" stroke="#000" stroke-width="1.5"/>
<circle cx="661.1" cy="804.5" r="5.6" fill="none" stroke="#000" stroke-width="1.5"/>
<rect x="681.2" y="874.4" width="21.8" height="234.4" fill="none" stroke="#000" stroke-width="1.5"/>
<line x1="692.1" y1="865.5" x2="692.1" y2="884" stroke="#000" stroke-width="1.5"/>
<line x1="686.6" y1="865.5" x2="697.6" y2="865.5" stroke="#000" stroke-width="1.5"/>
<line x1="686.6" y1="884" x2="697.6" y2="884" stroke="#000" stroke-width="1.5"/>
<circle cx="685.9" cy="867.7" r="5.6" fill="#929292" stroke="#000" stroke-width="1.5"/>
<circle cx="697.6" cy="868.4" r="5.6" fill="#929292" stroke="#000" stroke-width="1.5"/>
<circle cx="691.6" cy="884.5" r="5.6" fill="#929292" stroke="#000" stroke-width="1.5"/>
<rect x="717.3" y="889.2" width="21.7" height="219.6" fill="none" stroke="#000" stroke-width="1.5"/>
<line x1="728.15" y1="871" x2="728.15" y2="906.5" stroke="#000" stroke-width="1.5"/>
<line x1="722.65" y1="871" x2="733.65" y2="871" stroke="#000" stroke-width="1.5"/>
<line x1="722.65" y1="906.5" x2="733.65" y2="906.5" stroke="#000" stroke-width="1.5"/>
<circle cx="728" cy="867.7" r="5.6" fill="#ff2600" stroke="#000" stroke-width="1.5"/>
<circle cx="728" cy="890.5" r="5.6" fill="#ff2600" stroke="#000" stroke-width="1.5"/>
<circle cx="728" cy="905.6" r="5.6" fill="#ff2600" stroke="#000" stroke-width="1.5"/>
<rect x="753.5" y="978.9" width="21.8" height="129.9" fill="none" stroke="#000" stroke-width="1.5"/>
<line x1="764.4" y1="962.5" x2="764.4" y2="991" stroke="#000" stroke-width="1.5"/>
<line x1="758.9" y1="962.5" x2="769.9" y2="962.5" stroke="#000" stroke-width="1.5"/>
<line x1="758.9" y1="991" x2="769.9" y2="991" stroke="#000" stroke-width="1.5"/>
<circle cx="764.5" cy="962.8" r="5.6" fill="#0433ff" stroke="#000" stroke-width="1.5"/>
<circle cx="770.2" cy="979.9" r="5.6" fill="#0433ff" stroke="#000" stroke-width="1.5"/>
<circle cx="758.5" cy="990.3" r="5.6" fill="#0433ff" stroke="#000" stroke-width="1.5"/>
<rect x="814.1" y="794" width="22.1" height="314.8" fill="none" stroke="#000" stroke-width="1.5"/>
<line x1="825.15" y1="781.4" x2="825.15" y2="806.5" stroke="#000" stroke-width="1.5"/>
<line x1="819.65" y1="781.4" x2="830.65" y2="781.4" stroke="#000" stroke-width="1.5"/>
<line x1="819.65" y1="806.5" x2="830.65" y2="806.5" stroke="#000" stroke-width="1.5"/>
<circle cx="819.5" cy="786.4" r="5.6" fill="none" stroke="#000" stroke-width="1.5"/>
<circle cx="830.5" cy="786.4" r="5.6" fill="none" stroke="#000" stroke-width="1.5"/>
<circle cx="824.8" cy="806.1" r="5.6" fill="none" stroke="#000" stroke-width="1.5"/>
<rect x="850.6" y="855.4" width="21.8" height="253.4" fill="none" stroke="#000" stroke-width="1.5"/>
<line x1="861.5" y1="837.6" x2="861.5" y2="873" stroke="#000" stroke-width="1.5"/>
<line x1="856" y1="837.6" x2="867" y2="837.6" stroke="#000" stroke-width="1.5"/>
<line x1="856" y1="873" x2="867" y2="873" stroke="#000" stroke-width="1.5"/>
<circle cx="855.3" cy="840.3" r="5.6" fill="#929292" stroke="#000" stroke-width="1.5"/>
<circle cx="866.7" cy="849" r="5.6" fill="#929292" stroke="#000" stroke-width="1.5"/>
<circle cx="861" cy="871.8" r="5.6" fill="#929292" stroke="#000" stroke-width="1.5"/>
<rect x="887.1" y="902.9" width="21.4" height="205.9" fill="none" stroke="#000" stroke-width="1.5"/>
<line x1="897.8" y1="887.8" x2="897.8" y2="918" stroke="#000" stroke-width="1.5"/>
<line x1="892.3" y1="887.8" x2="903.3" y2="887.8" stroke="#000" stroke-width="1.5"/>
<line x1="892.3" y1="918" x2="903.3" y2="918" stroke="#000" stroke-width="1.5"/>
<circle cx="891.8" cy="889.5" r="5.6" fill="#ff2600" stroke="#000" stroke-width="1.5"/>
<circle cx="903.5" cy="898.5" r="5.6" fill="#ff2600" stroke="#000" stroke-width="1.5"/>
<circle cx="897.5" cy="916.6" r="5.6" fill="#ff2600" stroke="#000" stroke-width="1.5"/>
<rect x="922.9" y="904.6" width="22.1" height="204.2" fill="none" stroke="#000" stroke-width="1.5"/>
<line x1="933.95" y1="884" x2="933.95" y2="923" stroke="#000" stroke-width="1.5"/>
<line x1="928.45" y1="884" x2="939.45" y2="884" stroke="#000" stroke-width="1.5"/>
<line x1="928.45" y1="923" x2="939.45" y2="923" stroke="#000" stroke-width="1.5"/>
<circle cx="933.6" cy="883.1" r="5.6" fill="#0433ff" stroke="#000" stroke-width="1.5"/>
<circle cx="933.6" cy="904.9" r="5.6" fill="#0433ff" stroke="#000" stroke-width="1.5"/>
<circle cx="933.6" cy="921.3" r="5.6" fill="#0433ff" stroke="#000" stroke-width="1.5"/>
<text transform="translate(155.5 1151.6) scale(0.96 1)" font-size="30.37">MD39</text>
<text transform="translate(294 1151.6) scale(0.96 1)" font-size="30.37">MD39-Ser<tspan dy="8" font-size="19.5">4</tspan></text>
<text transform="translate(463.5 1151.6) scale(0.96 1)" font-size="30.37">MD39-Ser<tspan dy="8" font-size="19.5">8</tspan></text>
<text transform="translate(629.3 1151.6) scale(0.96 1)" font-size="30.37">MD39-pSer<tspan dy="8" font-size="19.5">4</tspan></text>
<text transform="translate(810.4 1151.6) scale(0.96 1)" font-size="30.37">MD39-pSer<tspan dy="8" font-size="19.5">8</tspan></text>
<text transform="translate(34.5 906.5) rotate(-90) scale(0.96 1)" font-size="31.2" text-anchor="middle">Fraction bound to alum</text>
<path d="M190.8 759.6 L190.8 745.9 L531 745.9 L531 759.6" fill="none" stroke="#000" stroke-width="1.55"/>
<line x1="360.6" y1="730.5" x2="360.6" y2="759.6" stroke="#000" stroke-width="1.55"/>
<path d="M360.6 730.5 L782.6 730.5 L782.6 745.9" fill="none" stroke="#000" stroke-width="1.55"/>
<path d="M693.9 759.6 L693.9 745.9 L864 745.9 L864 759.6" fill="none" stroke="#000" stroke-width="1.55"/>
<path d="M228 723.4 L228 709.4 L568.5 709.4 L568.5 723.4" fill="none" stroke="#000" stroke-width="1.55"/>
<line x1="398" y1="693.7" x2="398" y2="723.4" stroke="#000" stroke-width="1.55"/>
<path d="M398 693.7 L820.1 693.7 L820.1 709.4" fill="none" stroke="#000" stroke-width="1.55"/>
<path d="M731.7 723.4 L731.7 709.4 L901.5 709.4 L901.5 723.4" fill="none" stroke="#000" stroke-width="1.55"/>
<path d="M276.2 686.3 L276.2 672.6 L616.2 672.6 L616.2 686.3" fill="none" stroke="#000" stroke-width="1.55"/>
<line x1="446.3" y1="656.2" x2="446.3" y2="686.3" stroke="#000" stroke-width="1.55"/>
<path d="M446.3 656.2 L868 656.2 L868 671.9" fill="none" stroke="#000" stroke-width="1.55"/>
<path d="M779.6 686.3 L779.6 671.9 L949.4 671.9 L949.4 686.3" fill="none" stroke="#000" stroke-width="1.55"/>
<text transform="translate(684.5 662.3) scale(0.96 1)" font-size="37.44" text-anchor="middle" letter-spacing="1.4">****</text>
<text transform="translate(662 699.3) scale(0.96 1)" font-size="37.44" text-anchor="middle" letter-spacing="1.4">****</text>
<text transform="translate(624.6 736.1) scale(0.96 1)" font-size="37.44" text-anchor="middle" letter-spacing="1.4">****</text>
<circle cx="967.4" cy="815.2" r="6.4" fill="none" stroke="#000" stroke-width="1.6"/>
<text transform="translate(993.5 823.9) scale(0.96 1)" font-size="30.16">Loading</text>
<circle cx="967.4" cy="859.7" r="6.4" fill="#929292" stroke="#000" stroke-width="1.6"/>
<text transform="translate(993.5 868.4) scale(0.96 1)" font-size="30.16">10% serum</text>
<circle cx="967.4" cy="904.6" r="6.4" fill="#ff2600" stroke="#000" stroke-width="1.6"/>
<text transform="translate(993.5 913.3) scale(0.96 1)" font-size="30.16">20% serum</text>
<circle cx="967.4" cy="949" r="6.4" fill="#0433ff" stroke="#000" stroke-width="1.6"/>
<text transform="translate(993.5 957.7) scale(0.96 1)" font-size="30.16">40% serum</text>
<text transform="translate(1124 691.3)" font-size="44.5" font-weight="bold">d</text>
<line x1="1362.3" y1="744.25" x2="1362.3" y2="1132.6" stroke="#000" stroke-width="1.5"/>
<line x1="1348.2" y1="1118" x2="1921.5" y2="1118" stroke="#000" stroke-width="1.5"/>
<line x1="1348.2" y1="1118" x2="1362.3" y2="1118" stroke="#000" stroke-width="1.5"/>
<text transform="translate(1342.6 1128.2) scale(0.96 1)" font-size="30.47" text-anchor="end">0.0</text>
<line x1="1348.2" y1="993.7" x2="1362.3" y2="993.7" stroke="#000" stroke-width="1.5"/>
<text transform="translate(1342.6 1003.9) scale(0.96 1)" font-size="30.47" text-anchor="end">0.5</text>
<line x1="1348.2" y1="869.4" x2="1362.3" y2="869.4" stroke="#000" stroke-width="1.5"/>
<text transform="translate(1342.6 879.6) scale(0.96 1)" font-size="30.47" text-anchor="end">1.0</text>
<line x1="1348.2" y1="745.1" x2="1362.3" y2="745.1" stroke="#000" stroke-width="1.5"/>
<text transform="translate(1342.6 755.3) scale(0.96 1)" font-size="30.47" text-anchor="end">1.5</text>
<line x1="1362.3" y1="1118" x2="1362.3" y2="1132.6" stroke="#000" stroke-width="1.5"/>
<text transform="translate(1362.3 1164.5) scale(0.96 1)" font-size="30.47" text-anchor="middle">0</text>
<line x1="1474" y1="1118" x2="1474" y2="1132.6" stroke="#000" stroke-width="1.5"/>
<text transform="translate(1474 1164.5) scale(0.96 1)" font-size="30.47" text-anchor="middle">10</text>
<line x1="1585.7" y1="1118" x2="1585.7" y2="1132.6" stroke="#000" stroke-width="1.5"/>
<text transform="translate(1585.7 1164.5) scale(0.96 1)" font-size="30.47" text-anchor="middle">20</text>
<line x1="1697.4" y1="1118" x2="1697.4" y2="1132.6" stroke="#000" stroke-width="1.5"/>
<text transform="translate(1697.4 1164.5) scale(0.96 1)" font-size="30.47" text-anchor="middle">30</text>
<line x1="1809.1" y1="1118" x2="1809.1" y2="1132.6" stroke="#000" stroke-width="1.5"/>
<text transform="translate(1809.1 1164.5) scale(0.96 1)" font-size="30.47" text-anchor="middle">40</text>
<line x1="1920.8" y1="1118" x2="1920.8" y2="1132.6" stroke="#000" stroke-width="1.5"/>
<text transform="translate(1918.3 1161.7) scale(0.96 1)" font-size="30.47" text-anchor="middle">50</text>
<text transform="translate(1642.5 1211.3) scale(0.96 1)" font-size="31.1" text-anchor="middle">Days post-immunization</text>
<text transform="translate(1249.5 926.5) rotate(-90) scale(0.96 1)" font-size="31.3" text-anchor="middle">Normalized Total Radiant Efficiency</text>
<text transform="translate(1284.5 928.5) rotate(-90) scale(0.96 1)" font-size="31.3" text-anchor="middle">of antigen at injection site</text>
<path d="M1362.3 869.6 L1418.15 1062.2 L1440.49 1076.9 L1462.83 1079.7 L1507.51 1090.4 L1518.68 1082.5 L1541.02 1073.5 L1574.53 1081.1 L1686.23 1096.3 L1809.1 1100.2 L1909.63 1107.3" fill="none" stroke="#000" stroke-width="1.5" stroke-linejoin="round"/>
<line x1="1418.15" y1="1036" x2="1418.15" y2="1088.4" stroke="#000" stroke-width="2.2"/>
<line x1="1409.65" y1="1036" x2="1426.65" y2="1036" stroke="#000" stroke-width="2.2"/>
<line x1="1409.65" y1="1088.4" x2="1426.65" y2="1088.4" stroke="#000" stroke-width="2.2"/>
<line x1="1440.49" y1="1058.1" x2="1440.49" y2="1095.7" stroke="#000" stroke-width="2.2"/>
<line x1="1431.99" y1="1058.1" x2="1448.99" y2="1058.1" stroke="#000" stroke-width="2.2"/>
<line x1="1431.99" y1="1095.7" x2="1448.99" y2="1095.7" stroke="#000" stroke-width="2.2"/>
<line x1="1462.83" y1="1066.5" x2="1462.83" y2="1092.9" stroke="#000" stroke-width="2.2"/>
<line x1="1454.33" y1="1066.5" x2="1471.33" y2="1066.5" stroke="#000" stroke-width="2.2"/>
<line x1="1454.33" y1="1092.9" x2="1471.33" y2="1092.9" stroke="#000" stroke-width="2.2"/>
<line x1="1507.51" y1="1082" x2="1507.51" y2="1098.8" stroke="#000" stroke-width="2.2"/>
<line x1="1499.01" y1="1082" x2="1516.01" y2="1082" stroke="#000" stroke-width="2.2"/>
<line x1="1499.01" y1="1098.8" x2="1516.01" y2="1098.8" stroke="#000" stroke-width="2.2"/>
<line x1="1518.68" y1="1074.5" x2="1518.68" y2="1090.5" stroke="#000" stroke-width="2.2"/>
<line x1="1510.18" y1="1074.5" x2="1527.18" y2="1074.5" stroke="#000" stroke-width="2.2"/>
<line x1="1510.18" y1="1090.5" x2="1527.18" y2="1090.5" stroke="#000" stroke-width="2.2"/>
<line x1="1541.02" y1="1065.5" x2="1541.02" y2="1081.5" stroke="#000" stroke-width="2.2"/>
<line x1="1532.52" y1="1065.5" x2="1549.52" y2="1065.5" stroke="#000" stroke-width="2.2"/>
<line x1="1532.52" y1="1081.5" x2="1549.52" y2="1081.5" stroke="#000" stroke-width="2.2"/>
<line x1="1574.53" y1="1071.1" x2="1574.53" y2="1091.1" stroke="#000" stroke-width="2.2"/>
<line x1="1566.03" y1="1071.1" x2="1583.03" y2="1071.1" stroke="#000" stroke-width="2.2"/>
<line x1="1566.03" y1="1091.1" x2="1583.03" y2="1091.1" stroke="#000" stroke-width="2.2"/>
<line x1="1686.23" y1="1091.3" x2="1686.23" y2="1101.3" stroke="#000" stroke-width="2.2"/>
<line x1="1677.73" y1="1091.3" x2="1694.73" y2="1091.3" stroke="#000" stroke-width="2.2"/>
<line x1="1677.73" y1="1101.3" x2="1694.73" y2="1101.3" stroke="#000" stroke-width="2.2"/>
<line x1="1809.1" y1="1091" x2="1809.1" y2="1109.4" stroke="#000" stroke-width="2.2"/>
<line x1="1800.6" y1="1091" x2="1817.6" y2="1091" stroke="#000" stroke-width="2.2"/>
<line x1="1800.6" y1="1109.4" x2="1817.6" y2="1109.4" stroke="#000" stroke-width="2.2"/>
<line x1="1909.63" y1="1098.8" x2="1909.63" y2="1115.8" stroke="#000" stroke-width="2.2"/>
<line x1="1901.13" y1="1098.8" x2="1918.13" y2="1098.8" stroke="#000" stroke-width="2.2"/>
<line x1="1901.13" y1="1115.8" x2="1918.13" y2="1115.8" stroke="#000" stroke-width="2.2"/>
<circle cx="1362.3" cy="869.6" r="7.5" fill="#a8a8a8" stroke="#000" stroke-width="2.5"/>
<circle cx="1418.15" cy="1062.2" r="7.5" fill="#a8a8a8" stroke="#000" stroke-width="2.5"/>
<circle cx="1440.49" cy="1076.9" r="7.5" fill="#a8a8a8" stroke="#000" stroke-width="2.5"/>
<circle cx="1462.83" cy="1079.7" r="7.5" fill="#a8a8a8" stroke="#000" stroke-width="2.5"/>
<circle cx="1507.51" cy="1090.4" r="7.5" fill="#a8a8a8" stroke="#000" stroke-width="2.5"/>
<circle cx="1518.68" cy="1082.5" r="7.5" fill="#a8a8a8" stroke="#000" stroke-width="2.5"/>
<circle cx="1541.02" cy="1073.5" r="7.5" fill="#a8a8a8" stroke="#000" stroke-width="2.5"/>
<circle cx="1574.53" cy="1081.1" r="7.5" fill="#a8a8a8" stroke="#000" stroke-width="2.5"/>
<circle cx="1686.23" cy="1096.3" r="7.5" fill="#a8a8a8" stroke="#000" stroke-width="2.5"/>
<circle cx="1809.1" cy="1100.2" r="7.5" fill="#a8a8a8" stroke="#000" stroke-width="2.5"/>
<circle cx="1909.63" cy="1107.3" r="7.5" fill="#a8a8a8" stroke="#000" stroke-width="2.5"/>
<path d="M1362.3 869.6 L1418.15 1068.7 L1440.49 1089.8 L1462.83 1094.6 L1507.51 1107.3 L1518.68 1101.6 L1541.02 1096.9 L1574.53 1105.9 L1686.23 1107.3 L1809.1 1111.5 L1909.63 1116.3" fill="none" stroke="#000" stroke-width="3.2" stroke-linejoin="round"/>
<line x1="1418.15" y1="1065.7" x2="1418.15" y2="1071.7" stroke="#000" stroke-width="2.2"/>
<line x1="1409.65" y1="1065.7" x2="1426.65" y2="1065.7" stroke="#000" stroke-width="2.2"/>
<line x1="1409.65" y1="1071.7" x2="1426.65" y2="1071.7" stroke="#000" stroke-width="2.2"/>
<line x1="1440.49" y1="1086.8" x2="1440.49" y2="1092.8" stroke="#000" stroke-width="2.2"/>
<line x1="1431.99" y1="1086.8" x2="1448.99" y2="1086.8" stroke="#000" stroke-width="2.2"/>
<line x1="1431.99" y1="1092.8" x2="1448.99" y2="1092.8" stroke="#000" stroke-width="2.2"/>
<line x1="1462.83" y1="1091.6" x2="1462.83" y2="1097.6" stroke="#000" stroke-width="2.2"/>
<line x1="1454.33" y1="1091.6" x2="1471.33" y2="1091.6" stroke="#000" stroke-width="2.2"/>
<line x1="1454.33" y1="1097.6" x2="1471.33" y2="1097.6" stroke="#000" stroke-width="2.2"/>
<line x1="1507.51" y1="1104.3" x2="1507.51" y2="1110.3" stroke="#000" stroke-width="2.2"/>
<line x1="1499.01" y1="1104.3" x2="1516.01" y2="1104.3" stroke="#000" stroke-width="2.2"/>
<line x1="1499.01" y1="1110.3" x2="1516.01" y2="1110.3" stroke="#000" stroke-width="2.2"/>
<line x1="1518.68" y1="1098.6" x2="1518.68" y2="1104.6" stroke="#000" stroke-width="2.2"/>
<line x1="1510.18" y1="1098.6" x2="1527.18" y2="1098.6" stroke="#000" stroke-width="2.2"/>
<line x1="1510.18" y1="1104.6" x2="1527.18" y2="1104.6" stroke="#000" stroke-width="2.2"/>
<line x1="1541.02" y1="1093.9" x2="1541.02" y2="1099.9" stroke="#000" stroke-width="2.2"/>
<line x1="1532.52" y1="1093.9" x2="1549.52" y2="1093.9" stroke="#000" stroke-width="2.2"/>
<line x1="1532.52" y1="1099.9" x2="1549.52" y2="1099.9" stroke="#000" stroke-width="2.2"/>
<line x1="1574.53" y1="1102.9" x2="1574.53" y2="1108.9" stroke="#000" stroke-width="2.2"/>
<line x1="1566.03" y1="1102.9" x2="1583.03" y2="1102.9" stroke="#000" stroke-width="2.2"/>
<line x1="1566.03" y1="1108.9" x2="1583.03" y2="1108.9" stroke="#000" stroke-width="2.2"/>
<line x1="1686.23" y1="1104.3" x2="1686.23" y2="1110.3" stroke="#000" stroke-width="2.2"/>
<line x1="1677.73" y1="1104.3" x2="1694.73" y2="1104.3" stroke="#000" stroke-width="2.2"/>
<line x1="1677.73" y1="1110.3" x2="1694.73" y2="1110.3" stroke="#000" stroke-width="2.2"/>
<line x1="1809.1" y1="1108.5" x2="1809.1" y2="1114.5" stroke="#000" stroke-width="2.2"/>
<line x1="1800.6" y1="1108.5" x2="1817.6" y2="1108.5" stroke="#000" stroke-width="2.2"/>
<line x1="1800.6" y1="1114.5" x2="1817.6" y2="1114.5" stroke="#000" stroke-width="2.2"/>
<line x1="1909.63" y1="1113.3" x2="1909.63" y2="1119.3" stroke="#000" stroke-width="2.2"/>
<line x1="1901.13" y1="1113.3" x2="1918.13" y2="1113.3" stroke="#000" stroke-width="2.2"/>
<line x1="1901.13" y1="1119.3" x2="1918.13" y2="1119.3" stroke="#000" stroke-width="2.2"/>
<circle cx="1362.3" cy="869.6" r="8.5" fill="#000" stroke="#000" stroke-width="2.5"/>
<circle cx="1418.15" cy="1068.7" r="8.5" fill="#000" stroke="#000" stroke-width="2.5"/>
<circle cx="1440.49" cy="1089.8" r="8.5" fill="#000" stroke="#000" stroke-width="2.5"/>
<circle cx="1462.83" cy="1094.6" r="8.5" fill="#000" stroke="#000" stroke-width="2.5"/>
<circle cx="1507.51" cy="1107.3" r="8.5" fill="#000" stroke="#000" stroke-width="2.5"/>
<circle cx="1518.68" cy="1101.6" r="8.5" fill="#000" stroke="#000" stroke-width="2.5"/>
<circle cx="1541.02" cy="1096.9" r="8.5" fill="#000" stroke="#000" stroke-width="2.5"/>
<circle cx="1574.53" cy="1105.9" r="8.5" fill="#000" stroke="#000" stroke-width="2.5"/>
<circle cx="1686.23" cy="1107.3" r="8.5" fill="#000" stroke="#000" stroke-width="2.5"/>
<circle cx="1809.1" cy="1111.5" r="8.5" fill="#000" stroke="#000" stroke-width="2.5"/>
<circle cx="1909.63" cy="1116.3" r="8.5" fill="#000" stroke="#000" stroke-width="2.5"/>
<path d="M1362.3 869.6 L1418.15 880.8 L1440.49 899.7 L1462.83 935.1 L1507.51 968.9 L1518.68 965.8 L1541.02 973.6 L1574.53 1008.5 L1686.23 1004.6 L1809.1 1039.2 L1909.63 1034.1" fill="none" stroke="#000" stroke-width="3" stroke-linejoin="round"/>
<line x1="1418.15" y1="866.7" x2="1418.15" y2="894.9" stroke="#000" stroke-width="2.2"/>
<line x1="1409.65" y1="866.7" x2="1426.65" y2="866.7" stroke="#000" stroke-width="2.2"/>
<line x1="1409.65" y1="894.9" x2="1426.65" y2="894.9" stroke="#000" stroke-width="2.2"/>
<line x1="1440.49" y1="844.9" x2="1440.49" y2="954.5" stroke="#000" stroke-width="2.2"/>
<line x1="1431.99" y1="844.9" x2="1448.99" y2="844.9" stroke="#000" stroke-width="2.2"/>
<line x1="1431.99" y1="954.5" x2="1448.99" y2="954.5" stroke="#000" stroke-width="2.2"/>
<line x1="1462.83" y1="881.7" x2="1462.83" y2="988.5" stroke="#000" stroke-width="2.2"/>
<line x1="1454.33" y1="881.7" x2="1471.33" y2="881.7" stroke="#000" stroke-width="2.2"/>
<line x1="1454.33" y1="988.5" x2="1471.33" y2="988.5" stroke="#000" stroke-width="2.2"/>
<line x1="1507.51" y1="922.2" x2="1507.51" y2="1015.6" stroke="#000" stroke-width="2.2"/>
<line x1="1499.01" y1="922.2" x2="1516.01" y2="922.2" stroke="#000" stroke-width="2.2"/>
<line x1="1499.01" y1="1015.6" x2="1516.01" y2="1015.6" stroke="#000" stroke-width="2.2"/>
<line x1="1518.68" y1="916.9" x2="1518.68" y2="1014.7" stroke="#000" stroke-width="2.2"/>
<line x1="1510.18" y1="916.9" x2="1527.18" y2="916.9" stroke="#000" stroke-width="2.2"/>
<line x1="1510.18" y1="1014.7" x2="1527.18" y2="1014.7" stroke="#000" stroke-width="2.2"/>
<line x1="1541.02" y1="939.6" x2="1541.02" y2="1007.6" stroke="#000" stroke-width="2.2"/>
<line x1="1532.52" y1="939.6" x2="1549.52" y2="939.6" stroke="#000" stroke-width="2.2"/>
<line x1="1532.52" y1="1007.6" x2="1549.52" y2="1007.6" stroke="#000" stroke-width="2.2"/>
<line x1="1574.53" y1="972.2" x2="1574.53" y2="1044.8" stroke="#000" stroke-width="2.2"/>
<line x1="1566.03" y1="972.2" x2="1583.03" y2="972.2" stroke="#000" stroke-width="2.2"/>
<line x1="1566.03" y1="1044.8" x2="1583.03" y2="1044.8" stroke="#000" stroke-width="2.2"/>
<line x1="1686.23" y1="976.5" x2="1686.23" y2="1032.7" stroke="#000" stroke-width="2.2"/>
<line x1="1677.73" y1="976.5" x2="1694.73" y2="976.5" stroke="#000" stroke-width="2.2"/>
<line x1="1677.73" y1="1032.7" x2="1694.73" y2="1032.7" stroke="#000" stroke-width="2.2"/>
<line x1="1809.1" y1="1005.4" x2="1809.1" y2="1073" stroke="#000" stroke-width="2.2"/>
<line x1="1800.6" y1="1005.4" x2="1817.6" y2="1005.4" stroke="#000" stroke-width="2.2"/>
<line x1="1800.6" y1="1073" x2="1817.6" y2="1073" stroke="#000" stroke-width="2.2"/>
<line x1="1909.63" y1="1001.5" x2="1909.63" y2="1066.7" stroke="#000" stroke-width="2.2"/>
<line x1="1901.13" y1="1001.5" x2="1918.13" y2="1001.5" stroke="#000" stroke-width="2.2"/>
<line x1="1901.13" y1="1066.7" x2="1918.13" y2="1066.7" stroke="#000" stroke-width="2.2"/>
<circle cx="1362.3" cy="869.6" r="7.5" fill="#0433ff" stroke="#000" stroke-width="2.5"/>
<circle cx="1418.15" cy="880.8" r="7.5" fill="#0433ff" stroke="#000" stroke-width="2.5"/>
<circle cx="1440.49" cy="899.7" r="7.5" fill="#0433ff" stroke="#000" stroke-width="2.5"/>
<circle cx="1462.83" cy="935.1" r="7.5" fill="#0433ff" stroke="#000" stroke-width="2.5"/>
<circle cx="1507.51" cy="968.9" r="7.5" fill="#0433ff" stroke="#000" stroke-width="2.5"/>
<circle cx="1518.68" cy="965.8" r="7.5" fill="#0433ff" stroke="#000" stroke-width="2.5"/>
<circle cx="1541.02" cy="973.6" r="7.5" fill="#0433ff" stroke="#000" stroke-width="2.5"/>
<circle cx="1574.53" cy="1008.5" r="7.5" fill="#0433ff" stroke="#000" stroke-width="2.5"/>
<circle cx="1686.23" cy="1004.6" r="7.5" fill="#0433ff" stroke="#000" stroke-width="2.5"/>
<circle cx="1809.1" cy="1039.2" r="7.5" fill="#0433ff" stroke="#000" stroke-width="2.5"/>
<circle cx="1909.63" cy="1034.1" r="7.5" fill="#0433ff" stroke="#000" stroke-width="2.5"/>
<path d="M1362.3 869.6 L1418.15 925.8 L1440.49 919.4 L1462.83 954 L1507.51 1012.2 L1518.68 1022.9 L1541.02 1032.7 L1574.53 1033.3 L1686.23 1031.3 L1809.1 1065.9 L1909.63 1062.2" fill="none" stroke="#000" stroke-width="1.5" stroke-linejoin="round"/>
<line x1="1418.15" y1="864.5" x2="1418.15" y2="987.1" stroke="#000" stroke-width="2.2"/>
<line x1="1409.65" y1="864.5" x2="1426.65" y2="864.5" stroke="#000" stroke-width="2.2"/>
<line x1="1409.65" y1="987.1" x2="1426.65" y2="987.1" stroke="#000" stroke-width="2.2"/>
<line x1="1440.49" y1="845.4" x2="1440.49" y2="993.4" stroke="#000" stroke-width="2.2"/>
<line x1="1431.99" y1="845.4" x2="1448.99" y2="845.4" stroke="#000" stroke-width="2.2"/>
<line x1="1431.99" y1="993.4" x2="1448.99" y2="993.4" stroke="#000" stroke-width="2.2"/>
<line x1="1462.83" y1="900.3" x2="1462.83" y2="1007.7" stroke="#000" stroke-width="2.2"/>
<line x1="1454.33" y1="900.3" x2="1471.33" y2="900.3" stroke="#000" stroke-width="2.2"/>
<line x1="1454.33" y1="1007.7" x2="1471.33" y2="1007.7" stroke="#000" stroke-width="2.2"/>
<line x1="1507.51" y1="963.5" x2="1507.51" y2="1060.9" stroke="#000" stroke-width="2.2"/>
<line x1="1499.01" y1="963.5" x2="1516.01" y2="963.5" stroke="#000" stroke-width="2.2"/>
<line x1="1499.01" y1="1060.9" x2="1516.01" y2="1060.9" stroke="#000" stroke-width="2.2"/>
<line x1="1518.68" y1="979.9" x2="1518.68" y2="1065.9" stroke="#000" stroke-width="2.2"/>
<line x1="1510.18" y1="979.9" x2="1527.18" y2="979.9" stroke="#000" stroke-width="2.2"/>
<line x1="1510.18" y1="1065.9" x2="1527.18" y2="1065.9" stroke="#000" stroke-width="2.2"/>
<line x1="1541.02" y1="984.3" x2="1541.02" y2="1081.1" stroke="#000" stroke-width="2.2"/>
<line x1="1532.52" y1="984.3" x2="1549.52" y2="984.3" stroke="#000" stroke-width="2.2"/>
<line x1="1532.52" y1="1081.1" x2="1549.52" y2="1081.1" stroke="#000" stroke-width="2.2"/>
<line x1="1574.53" y1="989.1" x2="1574.53" y2="1077.5" stroke="#000" stroke-width="2.2"/>
<line x1="1566.03" y1="989.1" x2="1583.03" y2="989.1" stroke="#000" stroke-width="2.2"/>
<line x1="1566.03" y1="1077.5" x2="1583.03" y2="1077.5" stroke="#000" stroke-width="2.2"/>
<line x1="1686.23" y1="987.7" x2="1686.23" y2="1074.9" stroke="#000" stroke-width="2.2"/>
<line x1="1677.73" y1="987.7" x2="1694.73" y2="987.7" stroke="#000" stroke-width="2.2"/>
<line x1="1677.73" y1="1074.9" x2="1694.73" y2="1074.9" stroke="#000" stroke-width="2.2"/>
<line x1="1809.1" y1="1025.9" x2="1809.1" y2="1105.9" stroke="#000" stroke-width="2.2"/>
<line x1="1800.6" y1="1025.9" x2="1817.6" y2="1025.9" stroke="#000" stroke-width="2.2"/>
<line x1="1800.6" y1="1105.9" x2="1817.6" y2="1105.9" stroke="#000" stroke-width="2.2"/>
<line x1="1909.63" y1="1034.9" x2="1909.63" y2="1089.5" stroke="#000" stroke-width="2.2"/>
<line x1="1901.13" y1="1034.9" x2="1918.13" y2="1034.9" stroke="#000" stroke-width="2.2"/>
<line x1="1901.13" y1="1089.5" x2="1918.13" y2="1089.5" stroke="#000" stroke-width="2.2"/>
<circle cx="1362.3" cy="869.6" r="7.5" fill="#ff2600" stroke="#000" stroke-width="2.5"/>
<circle cx="1418.15" cy="925.8" r="7.5" fill="#ff2600" stroke="#000" stroke-width="2.5"/>
<circle cx="1440.49" cy="919.4" r="7.5" fill="#ff2600" stroke="#000" stroke-width="2.5"/>
<circle cx="1462.83" cy="954" r="7.5" fill="#ff2600" stroke="#000" stroke-width="2.5"/>
<circle cx="1507.51" cy="1012.2" r="7.5" fill="#ff2600" stroke="#000" stroke-width="2.5"/>
<circle cx="1518.68" cy="1022.9" r="7.5" fill="#ff2600" stroke="#000" stroke-width="2.5"/>
<circle cx="1541.02" cy="1032.7" r="7.5" fill="#ff2600" stroke="#000" stroke-width="2.5"/>
<circle cx="1574.53" cy="1033.3" r="7.5" fill="#ff2600" stroke="#000" stroke-width="2.5"/>
<circle cx="1686.23" cy="1031.3" r="7.5" fill="#ff2600" stroke="#000" stroke-width="2.5"/>
<circle cx="1809.1" cy="1065.9" r="7.5" fill="#ff2600" stroke="#000" stroke-width="2.5"/>
<circle cx="1909.63" cy="1062.2" r="7.5" fill="#ff2600" stroke="#000" stroke-width="2.5"/>
<circle cx="1362.3" cy="869.6" r="7.5" fill="#ff2600" stroke="#000" stroke-width="2.5"/>
<line x1="1662.4" y1="738.8" x2="1704.6" y2="738.8" stroke="#000" stroke-width="2"/>
<circle cx="1683.5" cy="738.8" r="7.4" fill="#ff2600" stroke="#000" stroke-width="2.5"/>
<line x1="1662.4" y1="797.8" x2="1704.6" y2="797.8" stroke="#000" stroke-width="2"/>
<circle cx="1683.5" cy="797.8" r="7.4" fill="#0433ff" stroke="#000" stroke-width="2.5"/>
<line x1="1662.4" y1="856.1" x2="1704.6" y2="856.1" stroke="#000" stroke-width="2"/>
<circle cx="1683.5" cy="856.1" r="8.8" fill="#000" stroke="#000" stroke-width="2.5"/>
<line x1="1662.4" y1="915.1" x2="1704.6" y2="915.1" stroke="#000" stroke-width="2"/>
<circle cx="1683.5" cy="915.1" r="7.4" fill="#a8a8a8" stroke="#000" stroke-width="2.5"/>
<text transform="translate(1727.1 748.6) scale(0.96 1)" font-size="31.51">MD39-pSer<tspan dy="9.5" font-size="22">4</tspan></text>
<text transform="translate(1727.1 807.7) scale(0.96 1)" font-size="31.51">MD39-pSer<tspan dy="9.5" font-size="22">8</tspan></text>
<text transform="translate(1727.1 866.2) scale(0.96 1)" font-size="31.51">MD39-Ser<tspan dy="9.5" font-size="22">4</tspan></text>
<text transform="translate(1727.1 925.3) scale(0.96 1)" font-size="31.51">MD39-Ser<tspan dy="9.5" font-size="22">8</tspan></text>
<line x1="1910.8" y1="744.4" x2="1910.8" y2="805.4" stroke="#000" stroke-width="1.5"/>
<text transform="translate(1903 776) rotate(90) scale(0.96 1)" font-size="35.36" text-anchor="middle" letter-spacing="3.2">***</text>
<line x1="1909.1" y1="861.7" x2="1909.1" y2="923" stroke="#000" stroke-width="1.5"/>
<text transform="translate(1913.5 889.5) rotate(90) scale(0.96 1)" font-size="23.4" text-anchor="middle">ns</text>
<path d="M1948 743.5 L1973.6 743.5 L1973.6 892 L1943.7 892" fill="none" stroke="#000" stroke-width="1.5"/>
<line x1="1943.7" y1="862" x2="1943.7" y2="923" stroke="#000" stroke-width="1.5"/>
<text transform="translate(1965 825.5) rotate(90) scale(0.96 1)" font-size="35.36" text-anchor="middle" letter-spacing="2.8">****</text>
<path d="M1992.4 792.2 L2022.5 792.2 L2022.5 893.2 L1993.2 893.2" fill="none" stroke="#000" stroke-width="1.5"/>
<line x1="1993.2" y1="864.5" x2="1993.2" y2="925" stroke="#000" stroke-width="1.5"/>
<text transform="translate(2019 841.5) rotate(90) scale(0.96 1)" font-size="35.36" text-anchor="middle" letter-spacing="2.8">****</text>
<text transform="translate(1.5 1287.9)" font-size="44.5" font-weight="bold">e</text>
<line x1="157.6" y1="1663.7" x2="170.6" y2="1663.7" stroke="#000" stroke-width="2.6"/>
<text transform="translate(136.5 1676.5) scale(0.96 1)" font-size="30.78" text-anchor="end">0</text>
<line x1="157.6" y1="1557.47" x2="170.6" y2="1557.47" stroke="#000" stroke-width="2.6"/>
<text transform="translate(152 1569.07) scale(0.96 1)" font-size="30.78" text-anchor="end">200,000</text>
<line x1="157.6" y1="1451.24" x2="170.6" y2="1451.24" stroke="#000" stroke-width="2.6"/>
<text transform="translate(152 1462.84) scale(0.96 1)" font-size="30.78" text-anchor="end">400,000</text>
<line x1="157.6" y1="1345.01" x2="170.6" y2="1345.01" stroke="#000" stroke-width="2.6"/>
<text transform="translate(152 1356.61) scale(0.96 1)" font-size="30.78" text-anchor="end">600,000</text>
<line x1="219.1" y1="1663.7" x2="219.1" y2="1676.7" stroke="#000" stroke-width="2.6"/>
<line x1="292.5" y1="1663.7" x2="292.5" y2="1676.7" stroke="#000" stroke-width="2.6"/>
<line x1="365.9" y1="1663.7" x2="365.9" y2="1676.7" stroke="#000" stroke-width="2.6"/>
<line x1="439.6" y1="1663.7" x2="439.6" y2="1676.7" stroke="#000" stroke-width="2.6"/>
<text transform="translate(29 1486.5) rotate(-90) scale(0.96 1)" font-size="29.95" text-anchor="middle">GC B cell count</text>
<path d="M269.9 1663.7 L269.9 1587.4 L315.4 1587.4 L315.4 1663.7" fill="none" stroke="#000" stroke-width="2.6"/>
<path d="M343.9 1663.7 L343.9 1522.6 L388.9 1522.6 L388.9 1663.7" fill="none" stroke="#ff2600" stroke-width="2.6"/>
<path d="M417.3 1663.7 L417.3 1546.2 L462.3 1546.2 L462.3 1663.7" fill="none" stroke="#0433ff" stroke-width="2.6"/>
<line x1="170.6" y1="1343.7" x2="170.6" y2="1665" stroke="#000" stroke-width="2.6"/>
<line x1="157.6" y1="1663.7" x2="490.5" y2="1663.7" stroke="#000" stroke-width="2.6"/>
<line x1="196.5" y1="1652" x2="232.2" y2="1652" stroke="#808080" stroke-width="2.6"/>
<line x1="219.1" y1="1634" x2="219.1" y2="1664.5" stroke="#808080" stroke-width="2.6"/>
<line x1="205.85" y1="1634" x2="232.35" y2="1634" stroke="#808080" stroke-width="2.6"/>
<circle cx="219.7" cy="1632.3" r="6.3" fill="#a8a8a8" stroke="#000" stroke-width="2.4"/>
<circle cx="202" cy="1660.2" r="6.3" fill="#a8a8a8" stroke="#000" stroke-width="2.4"/>
<circle cx="238" cy="1657.9" r="6.3" fill="#a8a8a8" stroke="#000" stroke-width="2.4"/>
<line x1="292.5" y1="1557.2" x2="292.5" y2="1612.6" stroke="#000" stroke-width="2.8"/>
<line x1="279.5" y1="1557.2" x2="305.5" y2="1557.2" stroke="#000" stroke-width="2.8"/>
<line x1="279.5" y1="1612.6" x2="305.5" y2="1612.6" stroke="#000" stroke-width="2.8"/>
<circle cx="292.8" cy="1536.9" r="6.6" fill="#000" stroke="#000" stroke-width="2.4"/>
<circle cx="292.8" cy="1549.9" r="6.6" fill="#000" stroke="#000" stroke-width="2.4"/>
<circle cx="292.8" cy="1570.8" r="6.6" fill="#000" stroke="#000" stroke-width="2.4"/>
<circle cx="274.5" cy="1582.4" r="6.6" fill="#000" stroke="#000" stroke-width="2.4"/>
<circle cx="292.8" cy="1585.3" r="6.6" fill="#000" stroke="#000" stroke-width="2.4"/>
<circle cx="312" cy="1585.3" r="6.6" fill="#000" stroke="#000" stroke-width="2.4"/>
<circle cx="274.5" cy="1596.4" r="6.6" fill="#000" stroke="#000" stroke-width="2.4"/>
<circle cx="312" cy="1601.9" r="6.6" fill="#000" stroke="#000" stroke-width="2.4"/>
<circle cx="292.8" cy="1612.6" r="6.6" fill="#000" stroke="#000" stroke-width="2.4"/>
<circle cx="292.8" cy="1631.8" r="6.6" fill="#000" stroke="#000" stroke-width="2.4"/>
<line x1="365.9" y1="1448.4" x2="365.9" y2="1593.5" stroke="#ff2600" stroke-width="2.8"/>
<line x1="352.9" y1="1448.4" x2="378.9" y2="1448.4" stroke="#ff2600" stroke-width="2.8"/>
<line x1="352.9" y1="1593.5" x2="378.9" y2="1593.5" stroke="#ff2600" stroke-width="2.8"/>
<circle cx="366.5" cy="1365.4" r="6.3" fill="#ff2600" stroke="#000" stroke-width="2.4"/>
<circle cx="348.2" cy="1475.9" r="6.3" fill="#ff2600" stroke="#000" stroke-width="2.4"/>
<circle cx="384.8" cy="1471.3" r="6.3" fill="#ff2600" stroke="#000" stroke-width="2.4"/>
<circle cx="366.5" cy="1491.3" r="6.3" fill="#ff2600" stroke="#000" stroke-width="2.4"/>
<circle cx="348.2" cy="1541.8" r="6.3" fill="#ff2600" stroke="#000" stroke-width="2.4"/>
<circle cx="384.8" cy="1534.3" r="6.3" fill="#ff2600" stroke="#000" stroke-width="2.4"/>
<circle cx="348.2" cy="1568.5" r="6.3" fill="#ff2600" stroke="#000" stroke-width="2.4"/>
<circle cx="384.8" cy="1561.2" r="6.3" fill="#ff2600" stroke="#000" stroke-width="2.4"/>
<circle cx="366.5" cy="1588.2" r="6.3" fill="#ff2600" stroke="#000" stroke-width="2.4"/>
<circle cx="366.5" cy="1615.5" r="6.3" fill="#ff2600" stroke="#000" stroke-width="2.4"/>
<line x1="439.6" y1="1507.6" x2="439.6" y2="1581" stroke="#0433ff" stroke-width="2.8"/>
<line x1="426.6" y1="1507.6" x2="452.6" y2="1507.6" stroke="#0433ff" stroke-width="2.8"/>
<line x1="426.6" y1="1581" x2="452.6" y2="1581" stroke="#0433ff" stroke-width="2.8"/>
<circle cx="439.6" cy="1473.6" r="6.3" fill="#0433ff" stroke="#000" stroke-width="2.4"/>
<circle cx="433.8" cy="1510.2" r="6.3" fill="#0433ff" stroke="#000" stroke-width="2.4"/>
<circle cx="446" cy="1511.6" r="6.3" fill="#0433ff" stroke="#000" stroke-width="2.4"/>
<circle cx="433.8" cy="1543.8" r="6.3" fill="#0433ff" stroke="#000" stroke-width="2.4"/>
<circle cx="446" cy="1546.2" r="6.3" fill="#0433ff" stroke="#000" stroke-width="2.4"/>
<circle cx="421.4" cy="1561.5" r="6.3" fill="#0433ff" stroke="#000" stroke-width="2.4"/>
<circle cx="433.8" cy="1564.1" r="6.3" fill="#0433ff" stroke="#000" stroke-width="2.4"/>
<circle cx="446" cy="1561.5" r="6.3" fill="#0433ff" stroke="#000" stroke-width="2.4"/>
<circle cx="458.5" cy="1571.1" r="6.3" fill="#0433ff" stroke="#000" stroke-width="2.4"/>
<circle cx="439.6" cy="1599.8" r="6.3" fill="#0433ff" stroke="#000" stroke-width="2.4"/>
<line x1="230.7" y1="1276.9" x2="440.5" y2="1276.9" stroke="#000" stroke-width="1.5"/>
<text transform="translate(343 1283.2) scale(0.96 1)" font-size="35.36" text-anchor="middle">*</text>
<line x1="230.7" y1="1310.5" x2="361.9" y2="1310.5" stroke="#000" stroke-width="1.5"/>
<text transform="translate(301.5 1316) scale(0.96 1)" font-size="35.36" text-anchor="middle" letter-spacing="1.5">**</text>
<line x1="308.2" y1="1340.1" x2="363.6" y2="1340.1" stroke="#000" stroke-width="1.5"/>
<text transform="translate(335.8 1346) scale(0.96 1)" font-size="35.36" text-anchor="middle">*</text>
<text transform="translate(219.7 1702.8) rotate(-45) scale(0.96 1)" font-size="28.91" text-anchor="end">Naive</text>
<text transform="translate(293.7 1702.8) rotate(-45) scale(0.96 1)" font-size="28.91" text-anchor="end">MD39</text>
<text transform="translate(369.5 1702.8) rotate(-45) scale(0.96 1)" font-size="28.91" text-anchor="end">MD39-pSer<tspan dx="2" dy="4" font-size="19">4</tspan></text>
<text transform="translate(443 1702.8) rotate(-45) scale(0.96 1)" font-size="28.91" text-anchor="end">MD39-pSer<tspan dx="2" dy="4" font-size="19">8</tspan></text>
<text transform="translate(1.5 1836.6)" font-size="44.5" font-weight="bold">g</text>
<line x1="183.4" y1="2208.6" x2="196.7" y2="2208.6" stroke="#000" stroke-width="2.6"/>
<text transform="translate(160 2221.4) scale(0.96 1)" font-size="30.78" text-anchor="end">0</text>
<line x1="183.4" y1="2144.94" x2="196.7" y2="2144.94" stroke="#000" stroke-width="2.6"/>
<text transform="translate(174.5 2156.54) scale(0.96 1)" font-size="30.78" text-anchor="end">5,000</text>
<line x1="183.4" y1="2081.28" x2="196.7" y2="2081.28" stroke="#000" stroke-width="2.6"/>
<text transform="translate(174.5 2092.88) scale(0.96 1)" font-size="30.78" text-anchor="end">10,000</text>
<line x1="183.4" y1="2017.62" x2="196.7" y2="2017.62" stroke="#000" stroke-width="2.6"/>
<text transform="translate(174.5 2029.22) scale(0.96 1)" font-size="30.78" text-anchor="end">15,000</text>
<line x1="183.4" y1="1953.96" x2="196.7" y2="1953.96" stroke="#000" stroke-width="2.6"/>
<text transform="translate(174.5 1965.56) scale(0.96 1)" font-size="30.78" text-anchor="end">20,000</text>
<line x1="183.4" y1="1890.3" x2="196.7" y2="1890.3" stroke="#000" stroke-width="2.6"/>
<text transform="translate(174.5 1901.9) scale(0.96 1)" font-size="30.78" text-anchor="end">25,000</text>
<line x1="244.6" y1="2208.6" x2="244.6" y2="2221.7" stroke="#000" stroke-width="2.6"/>
<line x1="318.3" y1="2208.6" x2="318.3" y2="2221.7" stroke="#000" stroke-width="2.6"/>
<line x1="391.8" y1="2208.6" x2="391.8" y2="2221.7" stroke="#000" stroke-width="2.6"/>
<line x1="465.5" y1="2208.6" x2="465.5" y2="2221.7" stroke="#000" stroke-width="2.6"/>
<text transform="translate(60.4 2040.5) rotate(-90) scale(0.96 1)" font-size="29.95" text-anchor="middle">MD39+ GC B cell count</text>
<rect x="296" y="2197.9" width="45" height="10.7" fill="none" stroke="#000" stroke-width="2.6"/>
<path d="M369.1 2208.6 L369.1 2060.6 L415 2060.6 L415 2208.6" fill="none" stroke="#ff2600" stroke-width="2.6"/>
<path d="M443.1 2208.6 L443.1 2141.3 L488.1 2141.3 L488.1 2208.6" fill="none" stroke="#0433ff" stroke-width="2.6"/>
<line x1="196.7" y1="1889" x2="196.7" y2="2209.9" stroke="#000" stroke-width="2.6"/>
<line x1="183.4" y1="2208.6" x2="515.2" y2="2208.6" stroke="#000" stroke-width="2.6"/>
<line x1="228" y1="2206.5" x2="262" y2="2206.5" stroke="#808080" stroke-width="2.6"/>
<circle cx="226.9" cy="2208" r="6.3" fill="#a8a8a8" stroke="#000" stroke-width="2.4"/>
<circle cx="245.2" cy="2204.3" r="6.3" fill="#a8a8a8" stroke="#000" stroke-width="2.4"/>
<circle cx="263.5" cy="2207.2" r="6.3" fill="#a8a8a8" stroke="#000" stroke-width="2.4"/>
<line x1="318.3" y1="2181" x2="318.3" y2="2200" stroke="#000" stroke-width="2.6"/>
<line x1="305.05" y1="2181" x2="331.55" y2="2181" stroke="#000" stroke-width="2.6"/>
<circle cx="318.6" cy="2158.1" r="6.6" fill="#000" stroke="#000" stroke-width="2.4"/>
<circle cx="304.7" cy="2189.7" r="6.6" fill="#000" stroke="#000" stroke-width="2.4"/>
<circle cx="298.9" cy="2198.7" r="6.6" fill="#000" stroke="#000" stroke-width="2.4"/>
<circle cx="312" cy="2197" r="6.6" fill="#000" stroke="#000" stroke-width="2.4"/>
<circle cx="323.5" cy="2194.5" r="6.6" fill="#000" stroke="#000" stroke-width="2.4"/>
<circle cx="332.3" cy="2197" r="6.6" fill="#000" stroke="#000" stroke-width="2.4"/>
<circle cx="338" cy="2200.2" r="6.6" fill="#000" stroke="#000" stroke-width="2.4"/>
<circle cx="319.2" cy="2200.8" r="6.6" fill="#000" stroke="#000" stroke-width="2.4"/>
<circle cx="307.6" cy="2202.2" r="6.6" fill="#000" stroke="#000" stroke-width="2.4"/>
<circle cx="328" cy="2202.2" r="6.6" fill="#000" stroke="#000" stroke-width="2.4"/>
<line x1="391.8" y1="1983.7" x2="391.8" y2="2135.8" stroke="#ff2600" stroke-width="2.8"/>
<line x1="378.8" y1="1983.7" x2="404.8" y2="1983.7" stroke="#ff2600" stroke-width="2.8"/>
<line x1="378.8" y1="2135.8" x2="404.8" y2="2135.8" stroke="#ff2600" stroke-width="2.8"/>
<circle cx="392" cy="1929.4" r="6.3" fill="#ff2600" stroke="#000" stroke-width="2.4"/>
<circle cx="392" cy="1986.6" r="6.3" fill="#ff2600" stroke="#000" stroke-width="2.4"/>
<circle cx="392" cy="2011" r="6.3" fill="#ff2600" stroke="#000" stroke-width="2.4"/>
<circle cx="374" cy="2034.8" r="6.3" fill="#ff2600" stroke="#000" stroke-width="2.4"/>
<circle cx="410.6" cy="2038.6" r="6.3" fill="#ff2600" stroke="#000" stroke-width="2.4"/>
<circle cx="374" cy="2071.6" r="6.3" fill="#ff2600" stroke="#000" stroke-width="2.4"/>
<circle cx="410.6" cy="2078.3" r="6.3" fill="#ff2600" stroke="#000" stroke-width="2.4"/>
<circle cx="392" cy="2116.6" r="6.3" fill="#ff2600" stroke="#000" stroke-width="2.4"/>
<circle cx="392" cy="2153.5" r="6.3" fill="#ff2600" stroke="#000" stroke-width="2.4"/>
<circle cx="392" cy="2178.4" r="6.3" fill="#ff2600" stroke="#000" stroke-width="2.4"/>
<line x1="465.5" y1="2083.8" x2="465.5" y2="2193.5" stroke="#0433ff" stroke-width="2.8"/>
<line x1="452.5" y1="2083.8" x2="478.5" y2="2083.8" stroke="#0433ff" stroke-width="2.8"/>
<line x1="452.5" y1="2193.5" x2="478.5" y2="2193.5" stroke="#0433ff" stroke-width="2.8"/>
<circle cx="466" cy="2010.7" r="6.3" fill="#0433ff" stroke="#000" stroke-width="2.4"/>
<circle cx="466" cy="2092.5" r="6.3" fill="#0433ff" stroke="#000" stroke-width="2.4"/>
<circle cx="447.8" cy="2131.7" r="6.3" fill="#0433ff" stroke="#000" stroke-width="2.4"/>
<circle cx="466" cy="2142.2" r="6.3" fill="#0433ff" stroke="#000" stroke-width="2.4"/>
<circle cx="484.3" cy="2140.1" r="6.3" fill="#0433ff" stroke="#000" stroke-width="2.4"/>
<circle cx="447.8" cy="2159.3" r="6.3" fill="#0433ff" stroke="#000" stroke-width="2.4"/>
<circle cx="466" cy="2158.4" r="6.3" fill="#0433ff" stroke="#000" stroke-width="2.4"/>
<circle cx="484.3" cy="2159.6" r="6.3" fill="#0433ff" stroke="#000" stroke-width="2.4"/>
<circle cx="475" cy="2193" r="6.3" fill="#0433ff" stroke="#000" stroke-width="2.4"/>
<circle cx="457" cy="2202.2" r="6.3" fill="#0433ff" stroke="#000" stroke-width="2.4"/>
<line x1="256.8" y1="1872.9" x2="389.4" y2="1872.9" stroke="#000" stroke-width="1.5"/>
<text transform="translate(322 1874) scale(0.96 1)" font-size="35.36" text-anchor="middle" letter-spacing="1.5">**</text>
<line x1="325" y1="1902.2" x2="388.3" y2="1902.2" stroke="#000" stroke-width="1.5"/>
<text transform="translate(356.5 1903.7) scale(0.96 1)" font-size="35.36" text-anchor="middle" letter-spacing="2.9">****</text>
<line x1="395.2" y1="1902.8" x2="458.5" y2="1902.8" stroke="#000" stroke-width="1.5"/>
<text transform="translate(427.2 1906) scale(0.96 1)" font-size="35.36" text-anchor="middle">*</text>
<text transform="translate(245.7 2245.8) rotate(-45) scale(0.96 1)" font-size="28.91" text-anchor="end">Naive</text>
<text transform="translate(319.7 2245.8) rotate(-45) scale(0.96 1)" font-size="28.91" text-anchor="end">MD39</text>
<text transform="translate(394.7 2245.8) rotate(-45) scale(0.96 1)" font-size="28.91" text-anchor="end">MD39-pSer<tspan dx="2" dy="4" font-size="19">4</tspan></text>
<text transform="translate(468.2 2245.8) rotate(-45) scale(0.96 1)" font-size="28.91" text-anchor="end">MD39-pSer<tspan dx="2" dy="4" font-size="19">8</tspan></text>
<text transform="translate(1503 1287.5)" font-size="44.5" font-weight="bold">h</text>
<line x1="1545.4" y1="1408.4" x2="1580.6" y2="1408.4" stroke="#000" stroke-width="2"/>
<circle cx="1562.8" cy="1408.4" r="6.6" fill="#000" stroke="#000" stroke-width="2.2"/>
<line x1="1545.4" y1="1451.6" x2="1580.6" y2="1451.6" stroke="#000" stroke-width="2"/>
<circle cx="1562.8" cy="1451.6" r="5.7" fill="#ff2600" stroke="#000" stroke-width="2.2"/>
<line x1="1545.4" y1="1495.8" x2="1580.6" y2="1495.8" stroke="#000" stroke-width="2"/>
<circle cx="1562.8" cy="1495.8" r="5.7" fill="#0433ff" stroke="#000" stroke-width="2.2"/>
<text transform="translate(1598 1416.8) scale(0.96 1)" font-size="31.51">MD39 + alum + SMNP</text>
<text transform="translate(1598 1460.3) scale(0.96 1)" font-size="31.51">MD39-pSer<tspan dy="9" font-size="19">4</tspan><tspan dy="-9">+ alum + SMNP</tspan></text>
<text transform="translate(1598 1504.5) scale(0.96 1)" font-size="31.51">MD39-pSer<tspan dy="9" font-size="19">8</tspan><tspan dy="-9">+ alum + SMNP</tspan></text>
<line x1="1548.1" y1="1613.7" x2="1548.1" y2="1929" stroke="#000" stroke-width="2.4"/>
<line x1="1535.4" y1="1917.3" x2="2003.6" y2="1917.3" stroke="#000" stroke-width="2.6"/>
<line x1="1535.4" y1="1917.3" x2="1548.1" y2="1917.3" stroke="#000" stroke-width="2.4"/>
<text transform="translate(1533.8 1927.7) scale(0.96 1)" font-size="30.47" text-anchor="end">0</text>
<line x1="1535.4" y1="1841.7" x2="1548.1" y2="1841.7" stroke="#000" stroke-width="2.4"/>
<text transform="translate(1533.8 1852.1) scale(0.96 1)" font-size="30.47" text-anchor="end">1</text>
<line x1="1535.4" y1="1766.1" x2="1548.1" y2="1766.1" stroke="#000" stroke-width="2.4"/>
<text transform="translate(1533.8 1776.5) scale(0.96 1)" font-size="30.47" text-anchor="end">2</text>
<line x1="1535.4" y1="1690.5" x2="1548.1" y2="1690.5" stroke="#000" stroke-width="2.4"/>
<text transform="translate(1533.8 1700.9) scale(0.96 1)" font-size="30.47" text-anchor="end">3</text>
<line x1="1535.4" y1="1614.9" x2="1548.1" y2="1614.9" stroke="#000" stroke-width="2.4"/>
<text transform="translate(1533.8 1625.3) scale(0.96 1)" font-size="30.47" text-anchor="end">4</text>
<line x1="1548.1" y1="1917.3" x2="1548.1" y2="1929" stroke="#000" stroke-width="2.4"/>
<text transform="translate(1549.1 1956) scale(0.96 1)" font-size="30.47" text-anchor="middle">0</text>
<line x1="1638.96" y1="1917.3" x2="1638.96" y2="1929" stroke="#000" stroke-width="2.4"/>
<text transform="translate(1639.96 1956) scale(0.96 1)" font-size="30.47" text-anchor="middle">10</text>
<line x1="1729.82" y1="1917.3" x2="1729.82" y2="1929" stroke="#000" stroke-width="2.4"/>
<text transform="translate(1730.82 1956) scale(0.96 1)" font-size="30.47" text-anchor="middle">20</text>
<line x1="1820.68" y1="1917.3" x2="1820.68" y2="1929" stroke="#000" stroke-width="2.4"/>
<text transform="translate(1821.68 1956) scale(0.96 1)" font-size="30.47" text-anchor="middle">30</text>
<line x1="1911.54" y1="1917.3" x2="1911.54" y2="1929" stroke="#000" stroke-width="2.4"/>
<text transform="translate(1912.54 1956) scale(0.96 1)" font-size="30.47" text-anchor="middle">40</text>
<line x1="2002.4" y1="1917.3" x2="2002.4" y2="1929" stroke="#000" stroke-width="2.4"/>
<text transform="translate(2003.4 1956) scale(0.96 1)" font-size="30.47" text-anchor="middle">50</text>
<text transform="translate(1795.5 1991.8) scale(0.96 1)" font-size="31.46" text-anchor="middle">Days post-immunization</text>
<text transform="translate(1496.8 1766.5) rotate(-90) scale(0.96 1)" font-size="31.62" text-anchor="middle">Anti-MD39 IgG ELISA AUC</text>
<path d="M1548.1 1917.3 L1675 1904.3 L1802.2 1851 L1929.4 1758.2" fill="none" stroke="#000" stroke-width="2.2" stroke-linejoin="round"/>
<line x1="1802.2" y1="1809" x2="1802.2" y2="1891.3" stroke="#000" stroke-width="2.2"/>
<line x1="1795.2" y1="1809" x2="1809.2" y2="1809" stroke="#000" stroke-width="2.2"/>
<line x1="1795.2" y1="1891.3" x2="1809.2" y2="1891.3" stroke="#000" stroke-width="2.2"/>
<line x1="1929.4" y1="1696.5" x2="1929.4" y2="1811" stroke="#000" stroke-width="2.2"/>
<line x1="1922.4" y1="1696.5" x2="1936.4" y2="1696.5" stroke="#000" stroke-width="2.2"/>
<line x1="1922.4" y1="1811" x2="1936.4" y2="1811" stroke="#000" stroke-width="2.2"/>
<circle cx="1548.1" cy="1917.3" r="6.2" fill="#0433ff" stroke="#000" stroke-width="1.9"/>
<circle cx="1675" cy="1904.3" r="6.2" fill="#0433ff" stroke="#000" stroke-width="1.9"/>
<circle cx="1802.2" cy="1851" r="6.2" fill="#0433ff" stroke="#000" stroke-width="1.9"/>
<circle cx="1929.4" cy="1758.2" r="6.2" fill="#0433ff" stroke="#000" stroke-width="1.9"/>
<path d="M1548.1 1917.3 L1675 1904 L1802.2 1825.9 L1929.4 1745.8" fill="none" stroke="#000" stroke-width="2.2" stroke-linejoin="round"/>
<line x1="1802.2" y1="1783.9" x2="1802.2" y2="1865" stroke="#000" stroke-width="2.2"/>
<line x1="1795.2" y1="1783.9" x2="1809.2" y2="1783.9" stroke="#000" stroke-width="2.2"/>
<line x1="1795.2" y1="1865" x2="1809.2" y2="1865" stroke="#000" stroke-width="2.2"/>
<line x1="1929.4" y1="1673.7" x2="1929.4" y2="1811" stroke="#000" stroke-width="2.2"/>
<line x1="1922.4" y1="1673.7" x2="1936.4" y2="1673.7" stroke="#000" stroke-width="2.2"/>
<line x1="1922.4" y1="1811" x2="1936.4" y2="1811" stroke="#000" stroke-width="2.2"/>
<circle cx="1548.1" cy="1917.3" r="6.2" fill="#ff2600" stroke="#000" stroke-width="1.9"/>
<circle cx="1675" cy="1904" r="6.2" fill="#ff2600" stroke="#000" stroke-width="1.9"/>
<circle cx="1802.2" cy="1825.9" r="6.2" fill="#ff2600" stroke="#000" stroke-width="1.9"/>
<circle cx="1929.4" cy="1745.8" r="6.2" fill="#ff2600" stroke="#000" stroke-width="1.9"/>
<path d="M1548.1 1917.3 L1675 1900.5 L1802.2 1884.4 L1929.4 1840.3" fill="none" stroke="#000" stroke-width="2.2" stroke-linejoin="round"/>
<line x1="1675" y1="1888" x2="1675" y2="1912.2" stroke="#000" stroke-width="2.2"/>
<line x1="1668" y1="1888" x2="1682" y2="1888" stroke="#000" stroke-width="2.2"/>
<line x1="1668" y1="1912.2" x2="1682" y2="1912.2" stroke="#000" stroke-width="2.2"/>
<line x1="1802.2" y1="1862.5" x2="1802.2" y2="1906.4" stroke="#000" stroke-width="2.2"/>
<line x1="1795.2" y1="1862.5" x2="1809.2" y2="1862.5" stroke="#000" stroke-width="2.2"/>
<line x1="1795.2" y1="1906.4" x2="1809.2" y2="1906.4" stroke="#000" stroke-width="2.2"/>
<line x1="1929.4" y1="1793.6" x2="1929.4" y2="1867.9" stroke="#000" stroke-width="2.2"/>
<line x1="1922.4" y1="1793.6" x2="1936.4" y2="1793.6" stroke="#000" stroke-width="2.2"/>
<line x1="1922.4" y1="1867.9" x2="1936.4" y2="1867.9" stroke="#000" stroke-width="2.2"/>
<circle cx="1548.1" cy="1917.3" r="7" fill="#000" stroke="#000" stroke-width="1.9"/>
<circle cx="1675" cy="1900.5" r="7" fill="#000" stroke="#000" stroke-width="1.9"/>
<circle cx="1802.2" cy="1884.4" r="7" fill="#000" stroke="#000" stroke-width="1.9"/>
<circle cx="1929.4" cy="1840.3" r="7" fill="#000" stroke="#000" stroke-width="1.9"/>
<text transform="translate(1928.7 1667) scale(0.96 1)" font-size="35.36" text-anchor="middle" letter-spacing="1">**</text>
<text transform="translate(553.5 1287.4)" font-size="44.5" font-weight="bold">f</text>
<line x1="620.1" y1="1388" x2="613.4" y2="2145.5" stroke="#000" stroke-width="1.7"/>
<path d="M620.2 1376.5 L629.6 1392.6 L620.2 1389.4 L611.8 1392.4 Z" fill="#000" stroke="#000" stroke-width="0.3"/>
<line x1="687" y1="2197" x2="1407" y2="2203.4" stroke="#000" stroke-width="1.7"/>
<path d="M1422.2 2203.6 L1405.6 2212.3 L1408.8 2203.4 L1405.8 2195 Z" fill="#000" stroke="#000" stroke-width="0.3"/>
<text transform="translate(1058.8 2244.1) scale(0.96 1)" font-size="32.03" text-anchor="middle">MD39-BV421</text>
<text transform="translate(592.3 1760) rotate(-90) scale(0.96 1)" font-size="32.03" text-anchor="middle">MD39-PE</text>
<path d="M753.5 1603.4 754.4 1603.3 755.4 1603.3 756.4 1603.3 756.9 1603.4 757.9 1603.6 758.8 1603.9 759.4 1604.1 760.1 1604.4 760.9 1604.8 761.4 1605.1 761.9 1605.4 762.7 1605.9 763.4 1606.4 763.9 1606.8 764.4 1607.2 764.9 1607.7 765.4 1608.1 765.9 1608.6 766.4 1609.1 766.9 1609.7 767.4 1610.2 767.9 1610.8 768.4 1611.4 768.8 1611.9 769.2 1612.4 769.6 1612.9 769.9 1613.4 770.4 1614.1 770.9 1614.9 771.2 1615.4 771.5 1615.9 771.9 1616.6 772.3 1617.4 772.5 1617.9 772.9 1618.8 773.1 1619.4 773.4 1620.2 773.6 1620.9 773.8 1621.9 773.9 1622.6 774 1623.4 774 1624.4 773.9 1625 773.8 1625.9 773.5 1626.9 773.3 1627.4 772.9 1628.4 772.6 1628.9 772.3 1629.4 771.9 1630.1 771.4 1630.7 770.9 1631.4 770.4 1631.9 770 1632.4 769.5 1632.9 769.1 1633.4 768.6 1633.9 768.1 1634.4 767.7 1634.9 767.2 1635.4 766.8 1635.9 766.3 1636.4 765.8 1636.9 765.4 1637.4 764.9 1637.9 764.4 1638.5 763.9 1639 763.4 1639.5 762.9 1640 762.4 1640.5 761.9 1641 761.4 1641.4 760.9 1641.9 760.3 1642.4 759.8 1642.9 759.2 1643.4 758.5 1643.9 757.9 1644.3 757.4 1644.6 756.9 1644.9 756 1645.4 755.4 1645.7 754.9 1645.9 753.9 1646.4 753.4 1646.6 752.5 1646.9 751.9 1647.1 751.2 1647.4 750.4 1647.7 749.9 1647.9 748.9 1648.4 748.4 1648.7 747.9 1649 747.4 1649.4 746.8 1649.9 746.3 1650.4 745.8 1650.9 745.4 1651.4 744.9 1652.2 744.5 1652.9 744.3 1653.4 743.9 1654.4 743.8 1654.9 743.5 1655.9 743.3 1656.4 743.1 1657.4 742.9 1657.9 742.5 1658.9 742.3 1659.4 741.9 1660.4 741.6 1660.9 741.3 1661.4 740.9 1662.1 740.4 1662.8 739.9 1663.4 739.5 1663.9 739.1 1664.4 738.6 1664.9 738.1 1665.4 737.7 1665.9 737.2 1666.4 736.7 1666.9 736.2 1667.4 735.7 1667.9 735.2 1668.4 734.7 1668.9 734.2 1669.4 733.7 1669.9 733.2 1670.4 732.6 1670.9 732.1 1671.4 731.6 1671.9 731.1 1672.4 730.6 1672.9 730.1 1673.4 729.5 1673.9 729 1674.4 728.4 1674.9 727.9 1675.3 727.4 1675.7 726.9 1676 726.2 1676.4 725.4 1676.8 724.9 1677.1 724 1677.4 723.4 1677.6 722.4 1677.9 721.9 1678 720.9 1678.1 719.9 1678.3 718.9 1678.3 718.3 1678.4 717.4 1678.5 716.4 1678.7 715.6 1678.9 714.9 1679.2 714.4 1679.4 713.6 1679.9 713.1 1680.4 712.5 1680.9 712.1 1681.4 711.7 1681.9 711.3 1682.4 710.9 1682.9 710.4 1683.7 709.9 1684.4 709.7 1684.9 709.4 1685.4 709 1686.4 708.8 1686.9 708.6 1687.9 708.4 1688.9 708.3 1689.4 708.2 1690.4 708 1691.4 707.9 1691.9 706.9 1692 705.9 1692.1 704.9 1692.2 703.9 1692.2 702.9 1692.3 701.9 1692.3 700.9 1692.3 699.9 1692.3 698.9 1692.3 697.9 1692.3 696.9 1692.3 695.9 1692.3 694.9 1692.3 693.9 1692.3 692.9 1692.3 691.9 1692.3 690.9 1692.3 689.9 1692.3 688.9 1692.3 687.9 1692.3 687 1691.9 687 1690.9 687 1689.9 687 1688.9 687 1687.9 687 1686.9 687 1685.9 687 1684.9 687 1683.9 687 1682.9 687 1681.9 687 1680.9 687 1679.9 687 1678.9 687 1677.9 687 1676.9 687 1675.9 687 1674.9 687 1673.9 687 1672.9 687 1671.9 687 1670.9 687.1 1669.9 687.1 1668.9 687.1 1667.9 687.1 1666.9 687.2 1665.9 687.2 1664.9 687.3 1663.9 687.4 1663.1 688.4 1663 689.4 1663.1 690.4 1663.4 690.9 1663.5 691.9 1663.9 692.4 1664 693.4 1664.2 694.4 1664.2 695.4 1664 695.9 1663.8 696.5 1663.4 697.1 1662.9 697.6 1662.4 698 1661.9 698.4 1661.3 698.9 1660.4 699.1 1659.9 699.4 1659 699.6 1658.4 699.9 1657.7 700.2 1656.9 700.4 1656.4 700.9 1655.4 701.2 1654.9 701.5 1654.4 701.9 1653.7 702.4 1653 702.9 1652.4 703.3 1651.9 703.7 1651.4 704.1 1650.9 704.6 1650.4 705 1649.9 705.5 1649.4 706 1648.9 706.5 1648.4 707 1647.9 707.5 1647.4 708 1646.9 708.5 1646.4 709 1645.9 709.5 1645.4 710 1644.9 710.4 1644.4 710.9 1643.9 711.4 1643.4 711.9 1642.8 712.4 1642.3 712.9 1641.7 713.4 1641.2 713.9 1640.7 714.4 1640.1 714.9 1639.6 715.4 1639.1 715.9 1638.7 716.4 1638.2 716.9 1637.8 717.4 1637.3 718 1636.9 718.6 1636.4 719.4 1635.9 719.9 1635.5 720.4 1635.2 721 1634.9 721.9 1634.4 722.4 1634.1 722.9 1633.8 723.5 1633.4 724.3 1632.9 724.9 1632.4 725.4 1632 725.9 1631.5 726.4 1631 726.9 1630.5 727.4 1629.9 727.8 1629.4 728.1 1628.9 728.4 1628.4 728.9 1627.6 729.3 1626.9 729.6 1626.4 729.9 1625.7 730.3 1624.9 730.6 1624.4 730.9 1623.8 731.4 1622.9 731.7 1622.4 732 1621.9 732.4 1621.3 732.9 1620.6 733.4 1620 733.9 1619.4 734.3 1618.9 734.8 1618.4 735.2 1617.9 735.7 1617.4 736.2 1616.9 736.7 1616.4 737.3 1615.9 737.8 1615.4 738.3 1614.9 738.8 1614.4 739.4 1613.9 739.9 1613.4 740.4 1612.9 740.9 1612.4 741.4 1611.9 741.9 1611.5 742.4 1611 742.9 1610.5 743.4 1610 743.9 1609.5 744.4 1609.1 744.9 1608.6 745.4 1608.1 745.9 1607.7 746.4 1607.2 746.9 1606.8 747.4 1606.4 748 1605.9 748.7 1605.4 749.4 1605 749.9 1604.7 750.4 1604.4 751.4 1604 751.9 1603.8 752.9 1603.5 753.5 1603.4 M755.5 1605.9 756.4 1605.9 756.9 1605.9 757.9 1606.1 758.9 1606.4 759.4 1606.5 760.2 1606.9 760.9 1607.3 761.4 1607.5 761.9 1607.9 762.6 1608.4 763.2 1608.9 763.8 1609.4 764.3 1609.9 764.8 1610.4 765.3 1610.9 765.7 1611.4 766.1 1611.9 766.5 1612.4 766.9 1612.9 767.4 1613.6 767.9 1614.4 768.2 1614.9 768.5 1615.4 768.9 1616.1 769.3 1616.9 769.5 1617.4 769.9 1618.4 770.1 1618.9 770.4 1619.9 770.5 1620.4 770.6 1621.4 770.6 1622.4 770.5 1623.4 770.4 1624 770.2 1624.9 769.9 1625.6 769.5 1626.4 769.2 1626.9 768.9 1627.5 768.4 1628.2 767.9 1628.8 767.4 1629.4 767 1629.9 766.5 1630.4 766.1 1630.9 765.6 1631.4 765.2 1631.9 764.7 1632.4 764.3 1632.9 763.8 1633.4 763.4 1633.9 762.9 1634.4 762.4 1635 761.9 1635.5 761.4 1636.1 760.9 1636.6 760.4 1637.1 759.9 1637.6 759.4 1638.1 758.9 1638.6 758.4 1639.1 757.9 1639.5 757.4 1639.9 756.8 1640.4 756.2 1640.9 755.5 1641.4 754.9 1641.8 754.4 1642.1 753.9 1642.4 752.9 1642.9 752.4 1643.1 751.7 1643.4 750.9 1643.7 750.4 1643.9 749.4 1644.3 748.9 1644.4 747.9 1644.8 747.4 1644.9 746.4 1645.3 745.9 1645.5 745.2 1645.9 744.4 1646.4 743.9 1646.8 743.4 1647.2 742.9 1647.7 742.4 1648.4 742 1648.9 741.8 1649.4 741.4 1650.3 741.2 1650.9 740.9 1651.9 740.8 1652.4 740.6 1653.4 740.4 1654.4 740.3 1654.9 740 1655.9 739.9 1656.4 739.5 1657.4 739.3 1657.9 738.9 1658.6 738.4 1659.4 738.1 1659.9 737.8 1660.4 737.4 1660.9 736.9 1661.5 736.4 1662.1 735.9 1662.6 735.4 1663.1 734.9 1663.6 734.4 1664.1 733.9 1664.6 733.4 1665.1 732.9 1665.6 732.4 1666 731.9 1666.5 731.4 1667 730.9 1667.5 730.4 1668 729.9 1668.5 729.4 1669 728.9 1669.5 728.4 1670 727.9 1670.5 727.4 1671 726.9 1671.5 726.4 1671.9 725.8 1672.4 725.1 1672.9 724.4 1673.4 723.9 1673.6 723.4 1673.9 722.4 1674.3 721.9 1674.5 720.9 1674.7 720.1 1674.9 719.4 1675 718.4 1675.1 717.4 1675.1 716.4 1675.1 715.4 1675.1 714.4 1675.1 713.4 1675.1 712.4 1675.2 711.4 1675.3 710.9 1675.4 709.9 1675.9 709.4 1676.2 708.9 1676.7 708.4 1677.3 707.9 1677.9 707.6 1678.4 707.2 1678.9 706.9 1679.4 706.4 1680.1 705.9 1680.9 705.6 1681.4 705.3 1681.9 704.9 1682.9 704.7 1683.4 704.5 1684.4 704.5 1685.4 704.5 1686.4 704.6 1687.4 704.8 1688.4 704.9 1689.4 704.9 1690.4 704.8 1691.4 704.4 1691.9 703.4 1692 702.4 1692.1 701.4 1692.1 700.4 1692.2 699.4 1692.2 698.4 1692.2 697.4 1692.2 696.4 1692.2 695.4 1692.3 694.4 1692.3 693.4 1692.3 692.4 1692.3 691.4 1692.3 690.4 1692.3 689.4 1692.3 688.4 1692.3 687.4 1692.3 687 1691.4 687 1690.4 687 1689.4 687 1688.4 687 1687.4 687 1686.4 687.1 1685.4 687.1 1684.4 687.1 1683.4 687.1 1682.4 687.1 1681.4 687.1 1680.4 687.1 1679.4 687.1 1678.4 687.1 1677.4 687.1 1676.4 687.2 1675.4 687.2 1674.4 687.2 1673.4 687.2 1672.4 687.2 1671.4 687.3 1670.4 687.3 1669.4 687.4 1668.4 687.4 1667.8 688.4 1667.7 689.4 1667.9 689.9 1668.1 690.6 1668.4 691.4 1668.8 691.9 1669.1 692.4 1669.4 693.4 1669.9 693.9 1670 694.9 1670.2 695.9 1670.1 696.6 1669.9 697.4 1669.5 697.9 1669.3 698.5 1668.9 699.2 1668.4 699.9 1667.9 700.4 1667.5 700.9 1666.9 701.3 1666.4 701.6 1665.9 701.9 1664.9 702 1664.4 702.2 1663.4 702.3 1662.4 702.4 1661.5 702.5 1660.9 702.6 1659.9 702.9 1658.9 703 1658.4 703.3 1657.4 703.6 1656.9 703.9 1656.2 704.3 1655.4 704.6 1654.9 705 1654.4 705.4 1653.8 705.9 1653.2 706.4 1652.6 706.9 1652 707.4 1651.5 707.9 1651 708.4 1650.5 708.9 1650 709.4 1649.5 709.9 1649 710.4 1648.5 710.9 1648 711.4 1647.5 711.9 1647 712.4 1646.5 712.9 1646 713.4 1645.4 713.9 1644.9 714.3 1644.4 714.8 1643.9 715.2 1643.4 715.7 1642.9 716.2 1642.4 716.6 1641.9 717.1 1641.4 717.7 1640.9 718.2 1640.4 718.8 1639.9 719.4 1639.5 719.9 1639.1 720.4 1638.8 721.1 1638.4 721.9 1638 722.4 1637.7 723.2 1637.4 723.9 1637.1 724.4 1636.9 725.4 1636.5 725.9 1636.3 726.7 1635.9 727.4 1635.5 727.9 1635.2 728.4 1634.8 728.9 1634.3 729.4 1633.8 729.9 1633.2 730.4 1632.5 730.8 1631.9 731.1 1631.4 731.4 1630.7 731.7 1629.9 731.9 1629.4 732.3 1628.4 732.4 1627.9 732.8 1626.9 733 1626.4 733.4 1625.5 733.7 1624.9 733.9 1624.4 734.4 1623.6 734.8 1622.9 735.2 1622.4 735.5 1621.9 735.9 1621.4 736.4 1620.8 736.9 1620.3 737.4 1619.7 737.9 1619.2 738.4 1618.7 738.9 1618.2 739.4 1617.7 739.9 1617.3 740.4 1616.8 740.9 1616.3 741.4 1615.8 741.9 1615.3 742.4 1614.9 742.9 1614.4 743.4 1613.9 743.9 1613.4 744.5 1612.9 745 1612.4 745.5 1611.9 746 1611.4 746.6 1610.9 747.1 1610.4 747.6 1609.9 748.2 1609.4 748.8 1608.9 749.4 1608.4 749.9 1608.1 750.4 1607.7 750.9 1607.4 751.8 1606.9 752.4 1606.6 752.9 1606.4 753.9 1606.1 754.9 1605.9 755.5 1605.9 M754.2 1607.9 754.9 1607.7 755.9 1607.6 756.9 1607.6 757.9 1607.8 758.5 1607.9 759.4 1608.2 759.9 1608.4 760.9 1608.9 761.4 1609.2 761.9 1609.6 762.4 1610 762.9 1610.5 763.4 1611 763.9 1611.5 764.4 1612.1 764.9 1612.7 765.4 1613.3 765.8 1613.9 766.1 1614.4 766.4 1614.9 766.9 1615.8 767.2 1616.4 767.4 1616.9 767.8 1617.9 768 1618.4 768.2 1619.4 768.4 1620.4 768.4 1621.4 768.3 1622.4 768 1623.4 767.9 1623.9 767.4 1624.9 767.2 1625.4 766.9 1625.9 766.4 1626.6 765.9 1627.3 765.4 1627.9 765 1628.4 764.6 1628.9 764.2 1629.4 763.7 1629.9 763.3 1630.4 762.8 1630.9 762.4 1631.4 761.9 1631.9 761.4 1632.5 760.9 1633 760.4 1633.6 759.9 1634.2 759.4 1634.7 758.9 1635.3 758.4 1635.8 757.9 1636.4 757.4 1636.8 756.9 1637.3 756.4 1637.8 755.9 1638.2 755.4 1638.6 754.9 1639 754.4 1639.4 753.7 1639.9 752.9 1640.4 752.4 1640.6 751.9 1640.9 750.9 1641.3 750.4 1641.5 749.4 1641.8 748.9 1642 747.9 1642.3 747.3 1642.4 746.4 1642.6 745.4 1642.8 744.9 1643 743.9 1643.3 743.4 1643.4 742.4 1643.9 741.9 1644.2 741.4 1644.6 740.9 1645 740.4 1645.6 739.9 1646.4 739.7 1646.9 739.4 1647.6 739.2 1648.4 739 1649.4 738.9 1650 738.8 1650.9 738.7 1651.9 738.5 1652.9 738.4 1653.6 738.2 1654.4 738 1655.4 737.8 1655.9 737.4 1656.8 737.1 1657.4 736.8 1657.9 736.4 1658.5 735.9 1659.2 735.4 1659.8 734.9 1660.4 734.5 1660.9 734 1661.4 733.5 1661.9 733 1662.4 732.5 1662.9 731.9 1663.4 731.4 1663.9 730.9 1664.3 730.4 1664.8 729.9 1665.3 729.4 1665.8 728.9 1666.3 728.4 1666.8 727.9 1667.3 727.4 1667.8 726.9 1668.3 726.4 1668.8 725.9 1669.3 725.4 1669.7 724.9 1670.2 724.4 1670.6 723.9 1670.9 723.2 1671.4 722.4 1671.8 721.9 1672.1 721.1 1672.4 720.4 1672.6 719.4 1672.9 718.9 1673 717.9 1673.1 716.9 1673.1 715.9 1673 714.9 1672.9 714.4 1672.8 713.4 1672.7 712.4 1672.4 711.9 1672.3 710.9 1672 710.4 1671.8 709.4 1671.4 708.9 1671.2 708.3 1670.9 707.4 1670.4 706.9 1670 706.4 1669.4 706 1668.9 705.7 1668.4 705.4 1667.7 705.1 1666.9 704.9 1666.1 704.8 1665.4 704.6 1664.4 704.5 1663.4 704.4 1662.4 704.4 1661.4 704.5 1660.4 704.7 1659.4 704.9 1658.7 705.2 1657.9 705.4 1657.3 705.8 1656.4 706.1 1655.9 706.4 1655.4 706.9 1654.7 707.4 1654.1 707.9 1653.5 708.4 1653 708.9 1652.5 709.4 1652 709.9 1651.5 710.4 1651 710.9 1650.5 711.4 1650 711.9 1649.5 712.4 1649 712.9 1648.5 713.4 1648 713.9 1647.5 714.4 1647 714.9 1646.4 715.4 1645.9 715.8 1645.4 716.3 1644.9 716.7 1644.4 717.2 1643.9 717.7 1643.4 718.2 1642.9 718.7 1642.4 719.2 1641.9 719.9 1641.4 720.4 1641 720.9 1640.7 721.4 1640.4 722.3 1639.9 722.9 1639.6 723.4 1639.4 724.4 1639 724.9 1638.9 725.9 1638.6 726.7 1638.4 727.4 1638.2 728.4 1637.9 728.9 1637.8 729.7 1637.4 730.4 1637 730.9 1636.7 731.4 1636.2 731.9 1635.7 732.4 1635.1 732.8 1634.4 733 1633.9 733.4 1632.9 733.5 1632.4 733.7 1631.4 733.9 1630.7 734.1 1629.9 734.3 1628.9 734.4 1628.4 734.7 1627.4 734.9 1626.8 735.2 1625.9 735.5 1625.4 735.9 1624.6 736.4 1623.9 736.7 1623.4 737.1 1622.9 737.4 1622.4 737.9 1621.8 738.4 1621.3 738.9 1620.7 739.4 1620.2 739.9 1619.7 740.4 1619.2 740.9 1618.7 741.4 1618.2 741.9 1617.7 742.4 1617.3 742.9 1616.8 743.4 1616.3 743.9 1615.9 744.4 1615.4 744.9 1614.9 745.5 1614.4 746 1613.9 746.5 1613.4 747 1612.9 747.6 1612.4 748.1 1611.9 748.7 1611.4 749.2 1610.9 749.8 1610.4 750.4 1610 750.9 1609.6 751.4 1609.2 751.9 1608.9 752.9 1608.4 753.4 1608.2 754.2 1607.9 M687.4 1671.9 687.9 1671.7 688.9 1671.7 689.5 1671.9 690.3 1672.4 690.9 1672.8 691.4 1673.3 691.9 1673.8 692.4 1674.3 692.9 1674.8 693.4 1675.2 693.9 1675.6 694.4 1675.9 695.4 1676.4 695.9 1676.5 696.9 1676.8 697.5 1676.9 698.4 1677.2 698.9 1677.5 699.4 1678.4 699.5 1678.9 699.6 1679.9 699.7 1680.9 699.9 1681.9 700 1682.4 700.4 1683.4 700.6 1683.9 700.9 1684.7 701.2 1685.4 701.4 1685.9 701.9 1686.9 702 1687.4 702.4 1688.4 702.5 1688.9 702.7 1689.9 702.7 1690.9 702.6 1691.9 701.9 1692 700.9 1692 699.9 1692.1 698.9 1692.1 697.9 1692.1 696.9 1692.1 695.9 1692.2 694.9 1692.2 693.9 1692.2 692.9 1692.2 691.9 1692.2 690.9 1692.2 689.9 1692.2 688.9 1692.2 687.9 1692.2 687.1 1691.9 687.1 1690.9 687.1 1689.9 687.1 1688.9 687.1 1687.9 687.1 1686.9 687.1 1685.9 687.2 1684.9 687.2 1683.9 687.2 1682.9 687.2 1681.9 687.2 1680.9 687.3 1679.9 687.3 1678.9 687.3 1677.9 687.3 1676.9 687.3 1675.9 687.3 1674.9 687.3 1673.9 687.4 1672.9 687.4 1671.9 M754.4 1609.4 754.9 1609.2 755.9 1609.1 756.9 1609 757.9 1609.1 758.9 1609.4 759.4 1609.6 760.1 1609.9 760.9 1610.4 761.4 1610.7 761.9 1611.2 762.4 1611.6 762.9 1612.2 763.4 1612.8 763.9 1613.4 764.2 1613.9 764.6 1614.4 764.9 1614.9 765.4 1615.8 765.7 1616.4 765.9 1617 766.2 1617.9 766.4 1618.6 766.5 1619.4 766.6 1620.4 766.5 1621.4 766.4 1621.9 766 1622.9 765.8 1623.4 765.4 1624.2 765 1624.9 764.7 1625.4 764.4 1625.9 763.9 1626.6 763.4 1627.2 762.9 1627.8 762.4 1628.4 762 1628.9 761.6 1629.4 761.1 1629.9 760.6 1630.4 760.2 1630.9 759.8 1631.4 759.3 1631.9 758.9 1632.4 758.4 1633 757.9 1633.6 757.4 1634.2 756.9 1634.7 756.4 1635.3 755.9 1635.8 755.4 1636.3 754.9 1636.7 754.4 1637.1 753.9 1637.5 753.4 1637.9 752.7 1638.4 751.9 1638.9 751.4 1639.2 750.9 1639.4 749.9 1639.8 749.4 1640 748.4 1640.2 747.6 1640.4 746.9 1640.5 745.9 1640.6 744.9 1640.7 743.9 1640.8 742.9 1640.8 741.9 1640.8 740.9 1640.8 739.9 1640.9 739.4 1641 738.4 1641.3 737.9 1641.7 737.5 1642.4 737.3 1642.9 737.1 1643.9 737.1 1644.9 737.1 1645.9 737.1 1646.9 737.1 1647.9 737.1 1648.9 737.1 1649.9 737 1650.9 736.9 1651.9 736.9 1652.4 736.7 1653.4 736.5 1654.4 736.3 1654.9 735.9 1655.9 735.7 1656.4 735.4 1656.9 734.9 1657.6 734.4 1658.2 733.9 1658.8 733.4 1659.4 732.9 1659.9 732.4 1660.4 731.9 1660.9 731.4 1661.4 730.9 1661.9 730.4 1662.3 729.9 1662.8 729.4 1663.3 728.9 1663.8 728.4 1664.3 727.9 1664.8 727.4 1665.3 726.9 1665.8 726.4 1666.3 725.9 1666.8 725.4 1667.3 724.9 1667.8 724.4 1668.2 723.9 1668.6 723.4 1669 722.8 1669.4 722 1669.9 721.4 1670.3 720.9 1670.5 720 1670.9 719.4 1671.1 718.4 1671.3 717.5 1671.4 716.9 1671.4 716.2 1671.4 715.4 1671.3 714.4 1671.1 713.5 1670.9 712.9 1670.7 712.1 1670.4 711.4 1670.1 710.9 1669.8 710.2 1669.4 709.5 1668.9 708.9 1668.4 708.4 1668 707.9 1667.4 707.5 1666.9 707.2 1666.4 706.9 1665.9 706.5 1664.9 706.3 1664.4 706.1 1663.4 706 1662.4 706 1661.4 706 1660.4 706.2 1659.4 706.4 1658.8 706.7 1657.9 706.9 1657.4 707.4 1656.5 707.8 1655.9 708.2 1655.4 708.5 1654.9 709 1654.4 709.4 1653.9 709.9 1653.4 710.4 1652.9 710.9 1652.4 711.5 1651.9 712 1651.4 712.5 1650.9 713 1650.4 713.5 1649.9 714 1649.4 714.5 1648.9 714.9 1648.4 715.4 1647.9 715.9 1647.4 716.4 1646.8 716.9 1646.3 717.4 1645.7 717.9 1645.2 718.4 1644.6 718.9 1644.1 719.4 1643.6 719.9 1643.2 720.4 1642.8 720.9 1642.4 721.6 1641.9 722.4 1641.5 722.9 1641.2 723.6 1640.9 724.4 1640.6 725.3 1640.4 725.9 1640.3 726.9 1640.1 727.9 1640 728.9 1640 729.9 1639.9 730.4 1639.9 731.4 1639.7 732.4 1639.6 733.1 1639.4 733.9 1639.1 734.4 1638.7 734.9 1638.1 735.2 1637.4 735.4 1636.6 735.5 1635.9 735.5 1634.9 735.6 1633.9 735.6 1632.9 735.6 1631.9 735.7 1630.9 735.8 1629.9 735.9 1629.1 736 1628.4 736.3 1627.4 736.5 1626.9 736.9 1625.9 737.1 1625.4 737.4 1624.9 737.9 1624.2 738.4 1623.5 738.9 1622.9 739.3 1622.4 739.7 1621.9 740.2 1621.4 740.7 1620.9 741.1 1620.4 741.6 1619.9 742.2 1619.4 742.7 1618.9 743.2 1618.4 743.7 1617.9 744.3 1617.4 744.8 1616.9 745.3 1616.4 745.9 1615.9 746.4 1615.4 746.9 1615 747.4 1614.5 747.9 1614 748.4 1613.6 748.9 1613.1 749.4 1612.7 749.9 1612.2 750.4 1611.8 750.9 1611.4 751.6 1610.9 752.3 1610.4 752.9 1610.1 753.4 1609.8 754.4 1609.4 M687.9 1678.4 688.4 1678 689.4 1678.1 689.9 1678.5 690.4 1678.9 690.9 1679.4 691.4 1679.9 691.9 1680.4 692.5 1680.9 693.1 1681.4 693.8 1681.9 694.4 1682.3 694.9 1682.7 695.4 1683.1 695.9 1683.5 696.4 1683.9 696.9 1684.4 697.5 1684.9 698 1685.4 698.4 1685.9 698.9 1686.4 699.4 1687 699.9 1687.8 700.2 1688.4 700.5 1688.9 700.7 1689.9 700.8 1690.9 700.7 1691.9 699.9 1691.9 698.9 1692 697.9 1692 696.9 1692.1 695.9 1692.1 694.9 1692.1 693.9 1692.1 692.9 1692.1 691.9 1692.1 690.9 1692.1 689.9 1692.1 688.9 1692.1 687.9 1692.1 687.2 1691.9 687.2 1690.9 687.2 1689.9 687.2 1688.9 687.2 1687.9 687.2 1686.9 687.2 1685.9 687.3 1684.9 687.3 1683.9 687.3 1682.9 687.3 1681.9 687.4 1680.9 687.4 1679.9 687.4 1679 687.9 1678.4 M756.1 1610.4 756.9 1610.3 757.7 1610.4 758.4 1610.5 759.4 1610.9 759.9 1611.1 760.4 1611.4 761 1611.9 761.5 1612.4 762 1612.9 762.4 1613.4 762.9 1614.1 763.4 1614.8 763.7 1615.4 764 1615.9 764.4 1616.9 764.6 1617.4 764.8 1618.4 764.9 1619.4 764.9 1619.8 764.9 1620.4 764.6 1621.4 764.4 1622.1 764 1622.9 763.8 1623.4 763.4 1624.1 762.9 1624.8 762.5 1625.4 762.2 1625.9 761.8 1626.4 761.4 1626.9 760.9 1627.5 760.4 1628.1 759.9 1628.7 759.4 1629.2 758.9 1629.8 758.4 1630.4 758 1630.9 757.5 1631.4 757.1 1631.9 756.7 1632.4 756.3 1632.9 755.9 1633.4 755.4 1633.9 754.9 1634.5 754.4 1635 753.9 1635.4 753.4 1635.9 752.8 1636.4 752.1 1636.9 751.4 1637.3 750.9 1637.6 750.4 1637.9 749.4 1638.3 748.9 1638.5 747.9 1638.7 746.9 1638.8 746.2 1638.9 745.4 1638.9 744.9 1638.9 743.9 1638.8 742.9 1638.6 742.1 1638.4 741.4 1638.1 740.8 1637.9 739.9 1637.4 739.4 1637 738.9 1636.5 738.4 1635.9 738.1 1635.4 737.9 1634.9 737.6 1633.9 737.4 1633 737.3 1632.4 737.2 1631.4 737.2 1630.4 737.3 1629.4 737.4 1628.6 737.6 1627.9 737.9 1626.9 738.1 1626.4 738.4 1625.8 738.9 1624.9 739.3 1624.4 739.6 1623.9 740 1623.4 740.5 1622.9 740.9 1622.4 741.4 1621.9 741.9 1621.3 742.4 1620.8 742.9 1620.3 743.4 1619.8 743.9 1619.4 744.4 1618.9 744.9 1618.4 745.5 1617.9 746 1617.4 746.6 1616.9 747.1 1616.4 747.7 1615.9 748.2 1615.4 748.8 1614.9 749.3 1614.4 749.9 1613.9 750.4 1613.5 750.9 1613 751.4 1612.6 751.9 1612.3 752.4 1611.9 753.2 1611.4 753.9 1611 754.4 1610.8 755.4 1610.5 756.1 1610.4 M724.8 1641.9 725.4 1641.8 726.4 1641.6 727.4 1641.6 728.4 1641.6 729.4 1641.8 730.1 1641.9 730.9 1642.1 731.6 1642.4 732.4 1642.8 732.9 1643.2 733.4 1643.7 733.9 1644.3 734.3 1644.9 734.6 1645.4 734.9 1646.2 735.1 1646.9 735.4 1647.9 735.5 1648.4 735.6 1649.4 735.6 1650.4 735.5 1651.4 735.4 1652.3 735.3 1652.9 735 1653.9 734.9 1654.4 734.4 1655.4 734.1 1655.9 733.8 1656.4 733.4 1656.9 732.9 1657.5 732.4 1658.1 731.9 1658.6 731.4 1659.1 730.9 1659.6 730.4 1660.1 729.9 1660.5 729.4 1661 728.9 1661.5 728.4 1662 727.9 1662.6 727.4 1663.1 726.9 1663.6 726.4 1664.2 725.9 1664.7 725.4 1665.2 724.9 1665.7 724.4 1666.1 723.9 1666.6 723.4 1667 722.8 1667.4 722.1 1667.9 721.4 1668.4 720.9 1668.7 720.4 1669 719.4 1669.4 718.9 1669.6 717.9 1669.8 717.3 1669.9 716.4 1669.9 715.8 1669.9 714.9 1669.8 713.9 1669.5 713.4 1669.4 712.4 1669 711.9 1668.7 711.3 1668.4 710.6 1667.9 710 1667.4 709.4 1666.9 709 1666.4 708.6 1665.9 708.3 1665.4 707.9 1664.6 707.6 1663.9 707.4 1663 707.3 1662.4 707.3 1661.4 707.3 1660.4 707.4 1659.9 707.7 1658.9 707.9 1658.3 708.3 1657.4 708.6 1656.9 709 1656.4 709.4 1655.8 709.9 1655.2 710.4 1654.6 710.9 1654.1 711.4 1653.6 711.9 1653.2 712.4 1652.7 712.9 1652.2 713.4 1651.7 713.9 1651.2 714.4 1650.7 714.9 1650.2 715.4 1649.7 715.9 1649.1 716.4 1648.6 716.9 1648 717.4 1647.5 717.9 1646.9 718.4 1646.4 718.9 1645.9 719.3 1645.4 719.8 1644.9 720.4 1644.4 720.9 1644 721.4 1643.6 721.9 1643.2 722.4 1642.9 723.4 1642.4 723.9 1642.2 724.8 1641.9 M687.7 1683.4 688.4 1683.2 689.4 1683.1 690.4 1683.3 690.9 1683.5 691.9 1683.9 692.4 1684.2 692.9 1684.4 693.7 1684.9 694.4 1685.3 694.9 1685.7 695.4 1686.1 695.9 1686.5 696.4 1686.9 697 1687.4 697.4 1687.9 697.9 1688.5 698.4 1689.3 698.6 1689.9 698.8 1690.9 698.5 1691.9 697.9 1691.9 696.9 1692 695.9 1692 694.9 1692 693.9 1692 692.9 1692 691.9 1692.1 690.9 1692.1 689.9 1692.1 688.9 1692.1 687.9 1692 687.3 1691.9 687.2 1690.9 687.2 1689.9 687.2 1688.9 687.3 1687.9 687.3 1686.9 687.3 1685.9 687.3 1684.9 687.4 1683.9 687.7 1683.4 M755.3 1611.9 755.9 1611.8 756.9 1611.7 757.9 1611.7 758.6 1611.9 759.4 1612.2 759.9 1612.6 760.4 1612.9 760.9 1613.4 761.4 1614 761.9 1614.8 762.3 1615.4 762.5 1615.9 762.9 1616.9 763.1 1617.4 763.2 1618.4 763.3 1619.4 763.1 1620.4 762.9 1621.2 762.6 1621.9 762.4 1622.4 761.9 1623.2 761.5 1623.9 761.1 1624.4 760.8 1624.9 760.4 1625.4 759.9 1626 759.4 1626.6 758.9 1627.2 758.4 1627.9 758 1628.4 757.5 1628.9 757.1 1629.4 756.7 1629.9 756.3 1630.4 755.9 1630.9 755.4 1631.5 754.9 1632.1 754.4 1632.7 753.9 1633.2 753.4 1633.8 752.9 1634.2 752.4 1634.7 751.9 1635.1 751.4 1635.5 750.8 1635.9 749.9 1636.4 749.4 1636.6 748.7 1636.9 747.9 1637.1 746.9 1637.3 745.9 1637.4 744.9 1637.3 743.9 1637.1 743.1 1636.9 742.4 1636.6 741.9 1636.4 741.2 1635.9 740.6 1635.4 740.1 1634.9 739.7 1634.4 739.4 1633.9 739 1632.9 738.9 1632.4 738.7 1631.4 738.6 1630.4 738.6 1629.4 738.8 1628.4 738.9 1627.8 739.2 1626.9 739.4 1626.4 739.9 1625.6 740.3 1624.9 740.7 1624.4 741.1 1623.9 741.5 1623.4 741.9 1622.9 742.4 1622.4 742.9 1621.9 743.4 1621.4 743.9 1620.9 744.4 1620.4 745 1619.9 745.5 1619.4 746 1618.9 746.6 1618.4 747.1 1617.9 747.7 1617.4 748.2 1616.9 748.8 1616.4 749.4 1615.9 749.9 1615.4 750.4 1615 750.9 1614.6 751.4 1614.2 751.9 1613.8 752.4 1613.4 753.2 1612.9 753.9 1612.5 754.4 1612.2 755.3 1611.9 M726.9 1642.9 726.9 1642.9 727.9 1643 728.9 1643.2 729.6 1643.4 730.4 1643.8 730.9 1644.1 731.4 1644.4 732 1644.9 732.4 1645.4 732.9 1646 733.4 1646.8 733.7 1647.4 733.9 1648.1 734.1 1648.9 734.2 1649.9 734.2 1650.9 734.1 1651.9 733.9 1652.7 733.7 1653.4 733.4 1654.1 733 1654.9 732.7 1655.4 732.3 1655.9 731.9 1656.4 731.4 1657 730.9 1657.5 730.4 1658 729.9 1658.4 729.4 1658.9 728.9 1659.4 728.4 1659.9 727.9 1660.4 727.4 1660.9 726.9 1661.5 726.4 1662 725.9 1662.6 725.4 1663.2 724.9 1663.7 724.4 1664.2 723.9 1664.7 723.4 1665.1 722.9 1665.5 722.4 1665.9 721.7 1666.4 720.9 1666.9 720.4 1667.2 719.9 1667.5 719.1 1667.9 718.4 1668.2 717.5 1668.4 716.9 1668.5 715.9 1668.5 714.9 1668.4 714.4 1668.3 713.4 1668 712.9 1667.8 712.2 1667.4 711.4 1666.9 710.9 1666.5 710.4 1666 709.9 1665.5 709.5 1664.9 709.2 1664.4 708.9 1663.7 708.7 1662.9 708.5 1661.9 708.5 1660.9 708.7 1659.9 708.9 1659 709.2 1658.4 709.4 1657.9 709.9 1657.1 710.4 1656.4 710.8 1655.9 711.3 1655.4 711.8 1654.9 712.3 1654.4 712.8 1653.9 713.3 1653.4 713.8 1652.9 714.4 1652.4 714.9 1651.9 715.3 1651.4 715.8 1650.9 716.3 1650.4 716.7 1649.9 717.2 1649.4 717.6 1648.9 718.1 1648.4 718.5 1647.9 719 1647.4 719.4 1646.9 719.9 1646.4 720.4 1645.9 721 1645.4 721.6 1644.9 722.2 1644.4 722.9 1644 723.4 1643.7 724.2 1643.4 724.9 1643.2 725.9 1643 726.9 1642.9 M687.4 1685.9 687.9 1685.7 688.9 1685.5 689.9 1685.6 690.9 1685.8 691.4 1686 692.4 1686.4 692.9 1686.7 693.4 1687 694 1687.4 694.6 1687.9 695.1 1688.4 695.5 1688.9 695.9 1689.4 696.3 1690.4 696.2 1691.4 695.9 1691.9 694.9 1691.9 693.9 1691.9 692.9 1692 691.9 1692 690.9 1692 689.9 1692 688.9 1692 687.9 1692 687.3 1691.9 687.3 1690.9 687.3 1689.9 687.3 1688.9 687.3 1687.9 687.4 1686.9 687.4 1685.9 M755.2 1613.4 755.9 1613.2 756.9 1613.1 757.9 1613.2 758.6 1613.4 759.4 1613.9 759.9 1614.4 760.3 1614.9 760.7 1615.4 760.9 1615.9 761.3 1616.9 761.5 1617.4 761.6 1618.4 761.5 1619.4 761.4 1620.1 761.1 1620.9 760.9 1621.4 760.4 1622.3 760 1622.9 759.7 1623.4 759.3 1623.9 758.9 1624.4 758.4 1625 757.9 1625.6 757.4 1626.2 756.9 1626.9 756.5 1627.4 756.1 1627.9 755.8 1628.4 755.4 1628.9 754.9 1629.5 754.4 1630.2 753.9 1630.8 753.4 1631.4 753 1631.9 752.5 1632.4 752 1632.9 751.5 1633.4 750.9 1633.9 750.4 1634.3 749.9 1634.6 749.4 1634.9 748.4 1635.4 747.9 1635.6 746.9 1635.8 745.9 1635.9 744.9 1635.8 743.9 1635.5 743.4 1635.3 742.6 1634.9 741.9 1634.4 741.4 1633.9 741 1633.4 740.7 1632.9 740.4 1632.3 740.1 1631.4 740 1630.4 740 1629.4 740.1 1628.4 740.4 1627.4 740.6 1626.9 740.9 1626.2 741.4 1625.4 741.7 1624.9 742.1 1624.4 742.5 1623.9 743 1623.4 743.4 1622.9 743.9 1622.4 744.4 1621.9 745 1621.4 745.5 1620.9 746.1 1620.4 746.6 1619.9 747.2 1619.4 747.7 1618.9 748.3 1618.4 748.8 1617.9 749.4 1617.4 749.9 1616.9 750.4 1616.5 750.9 1616.1 751.4 1615.7 751.9 1615.3 752.4 1614.9 753.2 1614.4 753.9 1614 754.4 1613.7 755.2 1613.4 M724.9 1644.4 725.9 1644.2 726.9 1644.2 727.9 1644.3 728.4 1644.4 729.4 1644.8 729.9 1645.1 730.4 1645.5 730.9 1645.9 731.4 1646.4 731.9 1647.1 732.4 1647.9 732.6 1648.4 732.8 1649.4 732.9 1650.4 732.8 1651.4 732.6 1652.4 732.4 1652.9 732 1653.9 731.7 1654.4 731.3 1654.9 730.9 1655.4 730.4 1656 729.9 1656.5 729.4 1656.9 728.9 1657.4 728.3 1657.9 727.8 1658.4 727.2 1658.9 726.8 1659.4 726.3 1659.9 725.9 1660.4 725.4 1660.9 724.9 1661.6 724.4 1662.2 723.9 1662.7 723.4 1663.2 722.9 1663.7 722.4 1664.1 721.9 1664.5 721.3 1664.9 720.6 1665.4 719.9 1665.8 719.4 1666.1 718.8 1666.4 717.9 1666.8 717.4 1666.9 716.4 1667.1 715.4 1667.1 714.4 1666.9 713.9 1666.8 713 1666.4 712.4 1666 711.9 1665.6 711.4 1665.2 710.9 1664.7 710.4 1663.9 710.1 1663.4 709.9 1662.7 709.8 1661.9 709.7 1660.9 709.9 1659.9 710 1659.4 710.4 1658.5 710.8 1657.9 711.1 1657.4 711.5 1656.9 711.9 1656.4 712.4 1655.9 712.9 1655.4 713.4 1654.9 713.9 1654.4 714.4 1653.9 715 1653.4 715.5 1652.9 716 1652.4 716.4 1651.9 716.9 1651.4 717.4 1650.8 717.9 1650.2 718.4 1649.7 718.9 1649.1 719.4 1648.6 719.9 1648 720.4 1647.5 720.9 1647 721.4 1646.5 721.9 1646.1 722.4 1645.7 722.9 1645.3 723.7 1644.9 724.4 1644.6 724.9 1644.4 M688.3 1687.9 688.9 1687.8 689.9 1687.8 690.4 1687.9 691.4 1688.3 691.9 1688.6 692.4 1689 692.9 1689.7 693.2 1690.4 692.9 1691.2 692.4 1691.7 691.9 1691.9 690.9 1691.9 689.9 1691.9 688.9 1691.9 688 1691.9 687.4 1691.5 687.4 1690.9 687.4 1689.9 687.4 1688.9 687.4 1688.3 688.3 1687.9 M755.2 1614.9 755.9 1614.7 756.9 1614.6 757.9 1614.9 758.4 1615.2 758.9 1615.7 759.4 1616.4 759.6 1616.9 759.9 1617.9 759.9 1618.9 759.7 1619.9 759.4 1620.6 759 1621.4 758.6 1621.9 758.2 1622.4 757.8 1622.9 757.4 1623.4 756.9 1624 756.4 1624.6 755.9 1625.2 755.4 1625.9 755 1626.4 754.7 1626.9 754.3 1627.4 753.9 1628 753.4 1628.7 752.9 1629.4 752.6 1629.9 752.2 1630.4 751.8 1630.9 751.4 1631.4 750.9 1631.9 750.4 1632.4 749.8 1632.9 749.1 1633.4 748.4 1633.8 747.9 1634 746.9 1634.3 746.4 1634.4 745.4 1634.4 744.9 1634.3 743.9 1634 743.4 1633.7 742.9 1633.3 742.4 1632.8 741.9 1632.1 741.6 1631.4 741.4 1630.9 741.3 1629.9 741.3 1628.9 741.4 1628.2 741.6 1627.4 741.9 1626.8 742.4 1625.9 742.7 1625.4 743.1 1624.9 743.5 1624.4 743.9 1623.9 744.4 1623.4 744.9 1622.9 745.5 1622.4 746 1621.9 746.6 1621.4 747.2 1620.9 747.7 1620.4 748.3 1619.9 748.8 1619.4 749.4 1618.9 749.9 1618.4 750.4 1618 750.9 1617.6 751.4 1617.2 751.9 1616.8 752.4 1616.4 753.1 1615.9 753.9 1615.5 754.4 1615.2 755.2 1614.9 M725.5 1645.4 726.4 1645.3 727.4 1645.4 727.9 1645.5 728.9 1645.9 729.4 1646.2 729.9 1646.7 730.4 1647.2 730.9 1647.9 731.2 1648.4 731.4 1649 731.6 1649.9 731.6 1650.9 731.4 1651.9 731.3 1652.4 730.9 1653.2 730.5 1653.9 730.1 1654.4 729.7 1654.9 729.2 1655.4 728.6 1655.9 728 1656.4 727.5 1656.9 726.9 1657.4 726.4 1657.8 725.9 1658.3 725.4 1658.8 724.9 1659.4 724.4 1659.9 724 1660.4 723.6 1660.9 723.2 1661.4 722.8 1661.9 722.3 1662.4 721.7 1662.9 721.1 1663.4 720.4 1663.9 719.9 1664.3 719.4 1664.6 718.8 1664.9 717.9 1665.3 717.4 1665.5 716.4 1665.8 715.4 1665.8 714.4 1665.6 713.9 1665.4 713 1664.9 712.4 1664.4 711.9 1663.9 711.5 1663.4 711.3 1662.9 711 1661.9 710.9 1660.9 711.1 1659.9 711.4 1659 711.7 1658.4 712.1 1657.9 712.5 1657.4 712.9 1656.9 713.4 1656.4 713.9 1655.9 714.4 1655.4 714.9 1654.9 715.5 1654.4 716 1653.9 716.5 1653.4 717 1652.9 717.4 1652.4 717.9 1651.8 718.4 1651.3 718.9 1650.7 719.4 1650.1 719.9 1649.5 720.4 1649 720.9 1648.4 721.4 1647.9 721.9 1647.4 722.4 1647 722.9 1646.6 723.4 1646.2 724 1645.9 724.9 1645.5 725.5 1645.4 M754.4 1616.9 755.4 1616.6 756.4 1616.7 756.9 1616.9 757.4 1617.4 757.8 1618.4 757.7 1619.4 757.4 1620.2 757 1620.9 756.7 1621.4 756.3 1621.9 755.8 1622.4 755.4 1622.9 754.9 1623.5 754.4 1624.1 753.9 1624.8 753.5 1625.4 753.2 1625.9 752.8 1626.4 752.4 1627.1 751.9 1627.9 751.6 1628.4 751.3 1628.9 750.9 1629.4 750.4 1630.1 749.9 1630.7 749.4 1631.3 748.9 1631.7 748.4 1632.1 747.9 1632.4 746.9 1632.8 746.4 1632.9 745.6 1632.9 744.9 1632.8 744.2 1632.4 743.6 1631.9 743.2 1631.4 742.9 1630.9 742.6 1629.9 742.6 1628.9 742.7 1627.9 742.9 1627.4 743.4 1626.4 743.7 1625.9 744.1 1625.4 744.5 1624.9 744.9 1624.4 745.4 1623.9 746 1623.4 746.6 1622.9 747.2 1622.4 747.8 1621.9 748.4 1621.4 748.9 1621 749.4 1620.5 749.9 1620.1 750.4 1619.6 750.9 1619.2 751.4 1618.8 751.9 1618.4 752.6 1617.9 753.4 1617.4 753.9 1617.1 754.4 1616.9 M726.3 1646.4 726.5 1646.4 727.4 1646.5 728.3 1646.9 728.9 1647.3 729.4 1647.8 729.8 1648.4 730.1 1648.9 730.3 1649.9 730.4 1650.9 730.1 1651.9 729.9 1652.5 729.4 1653.3 728.9 1653.9 728.5 1654.4 727.9 1654.9 727.4 1655.3 726.9 1655.7 726.4 1656.1 725.9 1656.5 725.4 1657 724.9 1657.4 724.4 1657.9 723.9 1658.4 723.4 1658.9 722.9 1659.5 722.4 1660.1 721.9 1660.7 721.4 1661.3 720.9 1661.8 720.4 1662.2 719.9 1662.6 719.4 1663 718.8 1663.4 718 1663.9 717.4 1664.1 716.4 1664.4 715.9 1664.4 715.2 1664.4 714.4 1664.2 713.8 1663.9 713.2 1663.4 712.7 1662.9 712.4 1662.4 712.1 1661.4 712.1 1660.4 712.4 1659.5 712.7 1658.9 713 1658.4 713.4 1657.9 713.9 1657.4 714.4 1656.9 714.9 1656.4 715.4 1655.9 716 1655.4 716.5 1654.9 717.1 1654.4 717.5 1653.9 718 1653.4 718.4 1652.9 718.9 1652.3 719.4 1651.7 719.9 1651 720.4 1650.5 720.9 1649.9 721.3 1649.4 721.8 1648.9 722.3 1648.4 722.8 1647.9 723.4 1647.5 723.9 1647.1 724.4 1646.9 725.4 1646.5 726.3 1646.4" fill="none" stroke="#000" stroke-width="1.1" stroke-linejoin="round"/>
<path d="M731.2 1545h1.3M770.5 1609h1.3M773.2 1650h1.3" fill="none" stroke="#444" stroke-width="1.3"/>
<path d="M831.5 1370.4 L1007.7 1371.2 L1007.7 1554.8 L799.2 1644.1 L723.4 1578.9 Z" fill="none" stroke="#000" stroke-width="1"/>
<rect x="687.4" y="1368.5" width="323.6" height="323.4" fill="none" stroke="#333" stroke-width="1.35"/>
<line x1="706.3" y1="1691.9" x2="706.3" y2="1701.3" stroke="#000" stroke-width="1.15"/>
<line x1="678" y1="1671.3" x2="687.4" y2="1671.3" stroke="#000" stroke-width="1.15"/>
<line x1="710.3" y1="1691.9" x2="710.3" y2="1696.1" stroke="#444" stroke-width="1.15"/>
<line x1="683.2" y1="1667.3" x2="687.4" y2="1667.3" stroke="#444" stroke-width="1.15"/>
<line x1="714.8" y1="1691.9" x2="714.8" y2="1696.1" stroke="#444" stroke-width="1.15"/>
<line x1="683.2" y1="1662.8" x2="687.4" y2="1662.8" stroke="#444" stroke-width="1.15"/>
<line x1="719.3" y1="1691.9" x2="719.3" y2="1696.1" stroke="#444" stroke-width="1.15"/>
<line x1="683.2" y1="1658.3" x2="687.4" y2="1658.3" stroke="#444" stroke-width="1.15"/>
<line x1="724.3" y1="1691.9" x2="724.3" y2="1696.1" stroke="#444" stroke-width="1.15"/>
<line x1="683.2" y1="1653.3" x2="687.4" y2="1653.3" stroke="#444" stroke-width="1.15"/>
<line x1="729.7" y1="1691.9" x2="729.7" y2="1698.9" stroke="#444" stroke-width="1.15"/>
<line x1="680.4" y1="1647.9" x2="687.4" y2="1647.9" stroke="#444" stroke-width="1.15"/>
<line x1="736" y1="1691.9" x2="736" y2="1696.1" stroke="#444" stroke-width="1.15"/>
<line x1="683.2" y1="1641.6" x2="687.4" y2="1641.6" stroke="#444" stroke-width="1.15"/>
<line x1="741.6" y1="1691.9" x2="741.6" y2="1696.1" stroke="#444" stroke-width="1.15"/>
<line x1="683.2" y1="1636" x2="687.4" y2="1636" stroke="#444" stroke-width="1.15"/>
<line x1="747.8" y1="1691.9" x2="747.8" y2="1696.1" stroke="#444" stroke-width="1.15"/>
<line x1="683.2" y1="1629.8" x2="687.4" y2="1629.8" stroke="#444" stroke-width="1.15"/>
<line x1="754.3" y1="1691.9" x2="754.3" y2="1700.1" stroke="#000" stroke-width="1.15"/>
<line x1="679.2" y1="1623.3" x2="687.4" y2="1623.3" stroke="#000" stroke-width="1.15"/>
<line x1="760.3" y1="1691.9" x2="760.3" y2="1701.3" stroke="#000" stroke-width="1.15"/>
<line x1="678" y1="1617.3" x2="687.4" y2="1617.3" stroke="#000" stroke-width="1.15"/>
<line x1="766.3" y1="1691.9" x2="766.3" y2="1700.1" stroke="#000" stroke-width="1.15"/>
<line x1="679.2" y1="1611.3" x2="687.4" y2="1611.3" stroke="#000" stroke-width="1.15"/>
<line x1="772.9" y1="1691.9" x2="772.9" y2="1696.1" stroke="#444" stroke-width="1.15"/>
<line x1="683.2" y1="1604.7" x2="687.4" y2="1604.7" stroke="#444" stroke-width="1.15"/>
<line x1="777.7" y1="1691.9" x2="777.7" y2="1696.1" stroke="#444" stroke-width="1.15"/>
<line x1="683.2" y1="1599.9" x2="687.4" y2="1599.9" stroke="#444" stroke-width="1.15"/>
<line x1="783.4" y1="1691.9" x2="783.4" y2="1696.1" stroke="#444" stroke-width="1.15"/>
<line x1="683.2" y1="1594.2" x2="687.4" y2="1594.2" stroke="#444" stroke-width="1.15"/>
<line x1="789.1" y1="1691.9" x2="789.1" y2="1698.9" stroke="#444" stroke-width="1.15"/>
<line x1="680.4" y1="1588.5" x2="687.4" y2="1588.5" stroke="#444" stroke-width="1.15"/>
<line x1="794.5" y1="1691.9" x2="794.5" y2="1696.1" stroke="#444" stroke-width="1.15"/>
<line x1="683.2" y1="1583.1" x2="687.4" y2="1583.1" stroke="#444" stroke-width="1.15"/>
<line x1="799.5" y1="1691.9" x2="799.5" y2="1696.1" stroke="#444" stroke-width="1.15"/>
<line x1="683.2" y1="1578.1" x2="687.4" y2="1578.1" stroke="#444" stroke-width="1.15"/>
<line x1="804.3" y1="1691.9" x2="804.3" y2="1696.1" stroke="#444" stroke-width="1.15"/>
<line x1="683.2" y1="1573.3" x2="687.4" y2="1573.3" stroke="#444" stroke-width="1.15"/>
<line x1="808.8" y1="1691.9" x2="808.8" y2="1696.1" stroke="#444" stroke-width="1.15"/>
<line x1="683.2" y1="1568.8" x2="687.4" y2="1568.8" stroke="#444" stroke-width="1.15"/>
<line x1="812.7" y1="1691.9" x2="812.7" y2="1701.3" stroke="#000" stroke-width="1.15"/>
<line x1="678" y1="1564.9" x2="687.4" y2="1564.9" stroke="#000" stroke-width="1.15"/>
<line x1="841.2" y1="1691.9" x2="841.2" y2="1696.1" stroke="#444" stroke-width="1.15"/>
<line x1="683.2" y1="1536.4" x2="687.4" y2="1536.4" stroke="#444" stroke-width="1.15"/>
<line x1="857.9" y1="1691.9" x2="857.9" y2="1696.1" stroke="#444" stroke-width="1.15"/>
<line x1="683.2" y1="1519.7" x2="687.4" y2="1519.7" stroke="#444" stroke-width="1.15"/>
<line x1="869.7" y1="1691.9" x2="869.7" y2="1696.1" stroke="#444" stroke-width="1.15"/>
<line x1="683.2" y1="1507.9" x2="687.4" y2="1507.9" stroke="#444" stroke-width="1.15"/>
<line x1="877.2" y1="1691.9" x2="877.2" y2="1698.9" stroke="#444" stroke-width="1.15"/>
<line x1="680.4" y1="1500.4" x2="687.4" y2="1500.4" stroke="#444" stroke-width="1.15"/>
<line x1="883.9" y1="1691.9" x2="883.9" y2="1696.1" stroke="#444" stroke-width="1.15"/>
<line x1="683.2" y1="1493.7" x2="687.4" y2="1493.7" stroke="#444" stroke-width="1.15"/>
<line x1="888.7" y1="1691.9" x2="888.7" y2="1696.1" stroke="#444" stroke-width="1.15"/>
<line x1="683.2" y1="1488.9" x2="687.4" y2="1488.9" stroke="#444" stroke-width="1.15"/>
<line x1="894.1" y1="1691.9" x2="894.1" y2="1696.1" stroke="#444" stroke-width="1.15"/>
<line x1="683.2" y1="1483.5" x2="687.4" y2="1483.5" stroke="#444" stroke-width="1.15"/>
<line x1="898.2" y1="1691.9" x2="898.2" y2="1696.1" stroke="#444" stroke-width="1.15"/>
<line x1="683.2" y1="1479.4" x2="687.4" y2="1479.4" stroke="#444" stroke-width="1.15"/>
<line x1="902.3" y1="1691.9" x2="902.3" y2="1701.3" stroke="#000" stroke-width="1.15"/>
<line x1="678" y1="1475.3" x2="687.4" y2="1475.3" stroke="#000" stroke-width="1.15"/>
<line x1="926.6" y1="1691.9" x2="926.6" y2="1696.1" stroke="#444" stroke-width="1.15"/>
<line x1="683.2" y1="1451" x2="687.4" y2="1451" stroke="#444" stroke-width="1.15"/>
<line x1="938.9" y1="1691.9" x2="938.9" y2="1696.1" stroke="#444" stroke-width="1.15"/>
<line x1="683.2" y1="1438.7" x2="687.4" y2="1438.7" stroke="#444" stroke-width="1.15"/>
<line x1="948.4" y1="1691.9" x2="948.4" y2="1696.1" stroke="#444" stroke-width="1.15"/>
<line x1="683.2" y1="1429.2" x2="687.4" y2="1429.2" stroke="#444" stroke-width="1.15"/>
<line x1="956" y1="1691.9" x2="956" y2="1698.9" stroke="#444" stroke-width="1.15"/>
<line x1="680.4" y1="1421.6" x2="687.4" y2="1421.6" stroke="#444" stroke-width="1.15"/>
<line x1="961.7" y1="1691.9" x2="961.7" y2="1696.1" stroke="#444" stroke-width="1.15"/>
<line x1="683.2" y1="1415.9" x2="687.4" y2="1415.9" stroke="#444" stroke-width="1.15"/>
<line x1="966.4" y1="1691.9" x2="966.4" y2="1696.1" stroke="#444" stroke-width="1.15"/>
<line x1="683.2" y1="1411.2" x2="687.4" y2="1411.2" stroke="#444" stroke-width="1.15"/>
<line x1="971.1" y1="1691.9" x2="971.1" y2="1696.1" stroke="#444" stroke-width="1.15"/>
<line x1="683.2" y1="1406.5" x2="687.4" y2="1406.5" stroke="#444" stroke-width="1.15"/>
<line x1="975" y1="1691.9" x2="975" y2="1696.1" stroke="#444" stroke-width="1.15"/>
<line x1="683.2" y1="1402.6" x2="687.4" y2="1402.6" stroke="#444" stroke-width="1.15"/>
<line x1="978.4" y1="1691.9" x2="978.4" y2="1701.3" stroke="#000" stroke-width="1.15"/>
<line x1="678" y1="1399.2" x2="687.4" y2="1399.2" stroke="#000" stroke-width="1.15"/>
<line x1="1000.6" y1="1691.9" x2="1000.6" y2="1696.1" stroke="#444" stroke-width="1.15"/>
<line x1="683.2" y1="1377" x2="687.4" y2="1377" stroke="#444" stroke-width="1.15"/>
<line x1="755.7" y1="1691.9" x2="755.7" y2="1697.3" stroke="#222" stroke-width="0.9"/>
<line x1="682" y1="1621.9" x2="687.4" y2="1621.9" stroke="#222" stroke-width="0.9"/>
<line x1="756.8" y1="1691.9" x2="756.8" y2="1697.3" stroke="#222" stroke-width="0.9"/>
<line x1="682" y1="1620.8" x2="687.4" y2="1620.8" stroke="#222" stroke-width="0.9"/>
<line x1="757.9" y1="1691.9" x2="757.9" y2="1697.3" stroke="#222" stroke-width="0.9"/>
<line x1="682" y1="1619.7" x2="687.4" y2="1619.7" stroke="#222" stroke-width="0.9"/>
<line x1="759.1" y1="1691.9" x2="759.1" y2="1697.3" stroke="#222" stroke-width="0.9"/>
<line x1="682" y1="1618.5" x2="687.4" y2="1618.5" stroke="#222" stroke-width="0.9"/>
<line x1="761.5" y1="1691.9" x2="761.5" y2="1697.3" stroke="#222" stroke-width="0.9"/>
<line x1="682" y1="1616.1" x2="687.4" y2="1616.1" stroke="#222" stroke-width="0.9"/>
<line x1="762.7" y1="1691.9" x2="762.7" y2="1697.3" stroke="#222" stroke-width="0.9"/>
<line x1="682" y1="1614.9" x2="687.4" y2="1614.9" stroke="#222" stroke-width="0.9"/>
<line x1="763.8" y1="1691.9" x2="763.8" y2="1697.3" stroke="#222" stroke-width="0.9"/>
<line x1="682" y1="1613.8" x2="687.4" y2="1613.8" stroke="#222" stroke-width="0.9"/>
<line x1="764.9" y1="1691.9" x2="764.9" y2="1697.3" stroke="#222" stroke-width="0.9"/>
<line x1="682" y1="1612.7" x2="687.4" y2="1612.7" stroke="#222" stroke-width="0.9"/>
<text transform="translate(685 1724.2) scale(0.97 1)" font-size="20">-10<tspan dx="1.3" dy="-7.0" font-size="11.6">3</tspan></text>
<text transform="translate(760.3 1724.2) scale(0.97 1)" font-size="20" text-anchor="middle">0</text>
<text transform="translate(809.3 1724.2) scale(0.97 1)" font-size="20">10<tspan dx="1.3" dy="-7.0" font-size="11.6">3</tspan></text>
<text transform="translate(894.3 1724.2) scale(0.97 1)" font-size="20">10<tspan dx="1.3" dy="-7.0" font-size="11.6">4</tspan></text>
<text transform="translate(972 1724.2) scale(0.97 1)" font-size="20">10<tspan dx="1.3" dy="-7.0" font-size="11.6">5</tspan></text>
<text transform="translate(673 1679.7) scale(0.97 1)" font-size="20" text-anchor="end">-10<tspan dx="1.3" dy="-7.0" font-size="11.6">3</tspan></text>
<text transform="translate(671.4 1625.7) scale(0.97 1)" font-size="20" text-anchor="end">0</text>
<text transform="translate(673 1573.3) scale(0.97 1)" font-size="20" text-anchor="end">10<tspan dx="1.3" dy="-7.0" font-size="11.6">3</tspan></text>
<text transform="translate(673 1483.7) scale(0.97 1)" font-size="20" text-anchor="end">10<tspan dx="1.3" dy="-7.0" font-size="11.6">4</tspan></text>
<text transform="translate(673 1407.6) scale(0.97 1)" font-size="20" text-anchor="end">10<tspan dx="1.3" dy="-7.0" font-size="11.6">5</tspan></text>
<text transform="translate(847.8 1356.7) scale(0.96 1)" font-size="32.55" text-anchor="middle">Naive</text>
<path d="M1138.7 1658.5h1.3M1133.8 1659.6h1.3M1139.4 1653.5h1.3M1134 1658.4h1.3M1128.9 1664.1h1.3M1139 1657.8h1.3M1126.1 1669.2h1.3M1131.1 1665.6h1.3M1132.4 1667.1h1.3M1132.4 1660h1.3M1129.2 1664.4h1.3M1135.8 1662.3h1.3M1130.9 1661.8h1.3M1136.3 1660.7h1.3M1123.4 1669.1h1.3M1126.3 1670.1h1.3M1124.9 1665.9h1.3M1123.3 1670.9h1.3M1126.9 1664.2h1.3M1136 1662.6h1.3M1132.7 1664h1.3M1138.4 1658.4h1.3M1127.4 1670.4h1.3M1136.2 1663.6h1.3M1126.2 1673.8h1.3M1133.3 1664.6h1.3M1133.9 1663.1h1.3M1125.1 1669.5h1.3M1134.8 1656.1h1.3M1131.5 1671h1.3M1132.7 1661.8h1.3M1140.9 1662.2h1.3M1138.5 1662.7h1.3M1132.7 1663.6h1.3M1127.1 1670.4h1.3M1124.4 1671.1h1.3M1131.1 1661.7h1.3M1129.8 1662.8h1.3M1136.6 1659.7h1.3M1132.2 1662.4h1.3M1127.2 1669.8h1.3M1128.8 1671.2h1.3M1133.4 1665.9h1.3M1130.8 1662.5h1.3M1137.5 1661h1.3M1136.8 1656.6h1.3M1131.4 1662.4h1.3M1133.7 1665.8h1.3M1129.7 1666.9h1.3M1134.2 1661.8h1.3M1130 1666.2h1.3M1133.9 1659.7h1.3M1136.3 1660.8h1.3M1131.9 1664.6h1.3M1133.2 1664.8h1.3M1128.5 1668.5h1.3M1135.2 1658.7h1.3M1132.8 1662.3h1.3M1134.3 1664.8h1.3M1132.7 1664.7h1.3M1130.2 1668.9h1.3M1140.3 1657.9h1.3M1128.8 1670.9h1.3M1131.4 1660.1h1.3M1131.1 1664h1.3M1130.5 1664.9h1.3M1133 1661.9h1.3M1136.1 1660.8h1.3M1132.4 1667.8h1.3M1136.3 1660.7h1.3M1139.8 1661.1h1.3M1133.1 1658.9h1.3M1134.3 1659.3h1.3M1132.1 1662.4h1.3M1128.1 1666.7h1.3M1134 1665.9h1.3M1129.1 1667h1.3M1135.7 1661.2h1.3M1132.1 1668.9h1.3M1127.8 1670.3h1.3M1134.3 1658.9h1.3M1131.2 1662.5h1.3M1129 1670.7h1.3M1131.8 1662.3h1.3M1125.6 1669.1h1.3M1134.9 1664.6h1.3M1118 1676.7h1.3M1130 1668.6h1.3M1132.1 1664h1.3M1136.2 1660.9h1.3M1131.4 1663.3h1.3M1127.3 1665.5h1.3M1122.9 1671.6h1.3M1133.5 1663.6h1.3M1139.5 1657.7h1.3M1132.6 1662.5h1.3M1131.9 1665.9h1.3M1133.1 1667h1.3M1128.7 1662.7h1.3M1132.9 1662.5h1.3M1132.6 1664.7h1.3M1132.7 1664.4h1.3M1130.4 1667.1h1.3M1134.3 1660.4h1.3M1132.1 1666.5h1.3M1134.6 1664.2h1.3M1136.5 1656.9h1.3M1137.1 1662.2h1.3M1135.8 1660.1h1.3M1134 1663.2h1.3M1122.9 1678.6h1.3M1137.8 1659.3h1.3M1133.1 1661.6h1.3M1133.2 1662.3h1.3M1132.9 1665.9h1.3M1130.3 1668.2h1.3M1135.3 1661.8h1.3M1129.2 1670.3h1.3M1127.9 1666.8h1.3M1129.8 1666.7h1.3M1135.2 1661.5h1.3M1130.1 1669.6h1.3M1120.9 1670.7h1.3M1133.6 1661.5h1.3M1136.7 1662.8h1.3M1129.6 1661.3h1.3M1134.1 1661.7h1.3M1131 1668.3h1.3M1133.5 1664.4h1.3M1131.9 1662.8h1.3M1129.6 1665.9h1.3M1131 1664.4h1.3M1131.2 1667h1.3M1124.6 1675.9h1.3M1132.4 1666.4h1.3M1124.3 1671.4h1.3M1139.5 1664.7h1.3M1136.2 1658.7h1.3M1129.5 1665.8h1.3M1128.8 1669.4h1.3M1129.9 1664.1h1.3M1130.5 1663.1h1.3M1125.8 1666.2h1.3M1136.8 1660.8h1.3M1125.5 1665.3h1.3M1133.7 1659.6h1.3M1126.6 1671.9h1.3M1131.5 1664.1h1.3M1133.5 1661.9h1.3M1132.2 1658.2h1.3M1136.5 1655.3h1.3M1133.2 1665.7h1.3M1135.7 1655.2h1.3M1130 1663h1.3M1133.1 1661.2h1.3M1128.8 1668.6h1.3M1127.6 1667.1h1.3M1126.3 1669.3h1.3M1133.7 1662.6h1.3M1140.6 1657.2h1.3M1130.3 1666.2h1.3M1131.4 1671.1h1.3M1127.4 1664.8h1.3M1127 1670.4h1.3M1135 1661.7h1.3M1127.7 1663.3h1.3M1139.5 1656.1h1.3M1137.6 1664.1h1.3M1137.9 1661.8h1.3M1126.4 1668.6h1.3M1134.5 1662.7h1.3M1138.3 1655.3h1.3M1131.1 1661.2h1.3M1129.6 1666.1h1.3M1133.4 1665.1h1.3M1134.8 1662.1h1.3M1135 1662.1h1.3M1130.3 1665.6h1.3M1131.7 1665.1h1.3M1136.3 1663.3h1.3M1129.1 1666.8h1.3M1126.8 1666.2h1.3M1126.3 1670.5h1.3M1131.7 1664.8h1.3M1138.3 1659.9h1.3M1141.7 1658.4h1.3M1122.4 1678.5h1.3M1121.3 1675.9h1.3M1120.7 1682.4h1.3M1121.2 1678.7h1.3M1114 1683.9h1.3M1124.8 1678.2h1.3M1112.8 1684.4h1.3M1113.4 1684.6h1.3M1110.1 1687.3h1.3M1125.2 1675.1h1.3M1122.2 1675.8h1.3M1121.4 1681.5h1.3M1132 1666.6h1.3M1116 1681.6h1.3M1125.9 1675.1h1.3M1110.3 1685.1h1.3M1121.7 1676h1.3M1127.1 1672.5h1.3M1116.2 1683.1h1.3M1117.4 1680.8h1.3M1115.6 1680.6h1.3M1114.1 1683.5h1.3M1109.9 1682.6h1.3M1118.8 1677.2h1.3M1120.8 1684h1.3M1125.3 1680.2h1.3M1121.3 1676h1.3M1121.6 1676.7h1.3M1115.9 1685.9h1.3M1120.1 1680.5h1.3M1113.9 1683.3h1.3M1125.1 1673.4h1.3M1118.2 1678.6h1.3M1128.1 1671.5h1.3M1118 1679h1.3M1120 1679.5h1.3M1114.9 1681.7h1.3M1117.1 1673h1.3M1113.3 1687h1.3M1114.1 1685h1.3M1111.2 1681h1.3M1122.2 1678.7h1.3M1110.8 1687.3h1.3M1126.9 1667h1.3M1115.8 1685h1.3M1119.9 1683.3h1.3M1115.7 1684.3h1.3M1123.3 1675.3h1.3M1112.9 1686h1.3M1122.1 1680.3h1.3M1111.4 1681.8h1.3M1113.4 1682.8h1.3M1123.1 1674.8h1.3M1110.8 1685.5h1.3M1117 1681.5h1.3M1118.4 1685.5h1.3M1110.9 1686.2h1.3M1120.7 1679.2h1.3M1131.8 1670.1h1.3M1122.4 1669.9h1.3M1119.9 1679.6h1.3M1126.5 1674.8h1.3M1119.4 1673.3h1.3M1117.4 1679.3h1.3M1112.2 1683.1h1.3M1130.8 1671.1h1.3M1122.8 1676.5h1.3M1119.5 1679h1.3M1114.2 1682.3h1.3M1121.8 1680.7h1.3M1116.9 1680h1.3M1123.5 1680.5h1.3M1110.9 1689.3h1.3M1114.3 1685h1.3M1118.4 1684.4h1.3M1119.6 1678.9h1.3M1124.4 1676.1h1.3M1118.2 1683.5h1.3M1114.7 1683.1h1.3M1127.2 1673.2h1.3M1120.5 1676.9h1.3M1117.8 1678.9h1.3M1117.2 1679.2h1.3M1123.8 1675.2h1.3M1118.9 1683.2h1.3M1120.6 1675.6h1.3M1115.5 1680.4h1.3M1124.2 1678.2h1.3M1116.7 1683.1h1.3M1112.1 1685.4h1.3M1125.5 1677.9h1.3M1121.6 1676.8h1.3M1115 1686.6h1.3M1112.8 1678.3h1.3M1122.6 1674.7h1.3M1117.3 1683.2h1.3M1116.6 1681.8h1.3M1120.3 1671.6h1.3M1129.7 1673.7h1.3M1126 1673.6h1.3M1112.8 1685.3h1.3M1113.5 1682.2h1.3M1120.8 1677.7h1.3M1113.3 1684.9h1.3M1123.7 1674.1h1.3M1122.4 1676h1.3M1114.2 1684.1h1.3M1117.7 1682.2h1.3M1118.8 1680.5h1.3M1124.7 1673.6h1.3M1125.4 1676.6h1.3M1121.1 1677.3h1.3M1118.8 1681.8h1.3M1118.6 1672.9h1.3M1113.1 1682.1h1.3M1133.1 1663.5h1.3M1140.2 1651.2h1.3M1191.3 1621.1h1.3M1146.3 1662.9h1.3M1125 1652.7h1.3M1141.7 1646.5h1.3M1129.9 1654.7h1.3M1152.5 1658.6h1.3M1190.3 1613.5h1.3M1169.4 1606.3h1.3M1154.6 1626.5h1.3M1138.4 1653.9h1.3M1141.9 1673.7h1.3M1155.9 1621.8h1.3M1140.8 1646.7h1.3M1146.8 1626.5h1.3M1137.4 1638.8h1.3M1149.7 1628h1.3M1141.2 1639.9h1.3M1137.1 1655.2h1.3M1147.5 1662.6h1.3M1129.7 1646.7h1.3M1184.2 1609.8h1.3M1137.6 1657.4h1.3M1164 1615.7h1.3M1124.8 1675.4h1.3M1123.7 1663.7h1.3M1188.3 1614.4h1.3M1159.7 1612.8h1.3M1163.1 1616.9h1.3M1187.8 1630.3h1.3M1153 1617.2h1.3M1135.3 1654.6h1.3M1183.7 1643.1h1.3M1148.5 1678.1h1.3M1137.5 1659.8h1.3M1127.5 1659.3h1.3M1128.5 1657.6h1.3M1185.9 1609.1h1.3M1203.2 1592.2h1.3M1134.1 1663.7h1.3M1144.3 1636.2h1.3M1189.7 1606.1h1.3M1135.1 1671.7h1.3M1141.1 1647.9h1.3M1140.7 1661.3h1.3M1163 1662.8h1.3M1138.7 1666.5h1.3M1163.9 1606.8h1.3M1197.9 1618.4h1.3M1171.4 1654.9h1.3M1138.8 1641.1h1.3M1168.4 1651.9h1.3M1138.5 1643.7h1.3M1136.9 1645.5h1.3M1138.6 1663h1.3M1179.6 1642.5h1.3M1132.7 1640.9h1.3M1141.2 1665h1.3M1132.7 1650.5h1.3M1147.5 1660.4h1.3M1133.8 1651h1.3M1160.3 1618.2h1.3M1151.7 1629.2h1.3M1149.5 1625.8h1.3M1165.5 1651h1.3M1149.6 1669.7h1.3M1136.1 1648.8h1.3M1182.5 1612.9h1.3M1111.5 1668.2h1.3M1185.3 1608.3h1.3M1154.6 1623.3h1.3M1114 1657.2h1.3M1185.1 1611.5h1.3M1191.5 1616.4h1.3M1184.1 1609h1.3M1186.6 1611.1h1.3M1181.2 1612.3h1.3M1192.3 1620.7h1.3M1191.3 1620.6h1.3M1191.5 1618.1h1.3M1186.9 1615.9h1.3M1182.8 1613.1h1.3M1192.5 1619h1.3M1186.4 1615.7h1.3M1190.1 1610.7h1.3M1190.6 1608.9h1.3M1190.3 1615.4h1.3M1189.9 1621.3h1.3M1202.8 1612.8h1.3M1191.4 1609.5h1.3M1181.7 1611.3h1.3M1192.5 1606.9h1.3M1184.6 1611.1h1.3M1191.9 1618.6h1.3M1188.3 1608.4h1.3M1187.2 1609.9h1.3M1181.7 1609.5h1.3M1189.4 1620.9h1.3M1191.9 1603.8h1.3M1175.9 1608.6h1.3M1188.9 1609.1h1.3M1194.4 1603.2h1.3M1188.4 1610.3h1.3M1183.1 1612.3h1.3M1188.1 1613.6h1.3M1194 1615.9h1.3M1182.9 1611.4h1.3M1175.4 1610.6h1.3M1185.6 1608.3h1.3M1185.6 1614.8h1.3M1189.9 1608.5h1.3M1178.5 1609.8h1.3M1186 1615.6h1.3M1182 1547h1.3M1179.2 1558.4h1.3M1227.8 1630.7h1.3" fill="none" stroke="#000" stroke-width="1.3"/>
<path d="M1172.7 1609.8 1173.4 1609.6 1174.4 1609.5 1175.4 1609.4 1176.4 1609.4 1177.4 1609.5 1178.4 1609.8 1178.9 1609.9 1179.9 1610.3 1180.4 1610.4 1181.2 1610.8 1181.9 1611.2 1182.4 1611.5 1182.9 1611.8 1183.6 1612.3 1184.2 1612.8 1184.8 1613.3 1185.3 1613.8 1185.8 1614.3 1186.3 1614.8 1186.7 1615.3 1187.1 1615.8 1187.5 1616.3 1187.9 1616.8 1188.4 1617.5 1188.9 1618.3 1189.2 1618.8 1189.4 1619.3 1189.9 1620.3 1190.1 1620.8 1190.4 1621.8 1190.5 1622.3 1190.8 1623.3 1190.9 1624.3 1190.9 1624.8 1190.9 1625.8 1190.9 1626.3 1190.7 1627.3 1190.4 1628.3 1190.2 1628.8 1189.9 1629.5 1189.5 1630.3 1189.2 1630.8 1188.9 1631.3 1188.4 1632.1 1187.9 1632.7 1187.5 1633.3 1187 1633.8 1186.6 1634.3 1186.2 1634.8 1185.7 1635.3 1185.2 1635.8 1184.8 1636.3 1184.3 1636.8 1183.8 1637.3 1183.3 1637.8 1182.8 1638.3 1182.3 1638.8 1181.8 1639.3 1181.3 1639.8 1180.8 1640.3 1180.3 1640.8 1179.8 1641.3 1179.3 1641.8 1178.8 1642.3 1178.2 1642.8 1177.7 1643.3 1177.1 1643.8 1176.5 1644.3 1176 1644.8 1175.4 1645.3 1174.9 1645.8 1174.4 1646.3 1173.9 1646.7 1173.4 1647.1 1172.9 1647.5 1172.4 1647.9 1171.9 1648.3 1171.3 1648.8 1170.6 1649.3 1170 1649.8 1169.4 1650.3 1168.9 1650.7 1168.4 1651 1167.9 1651.4 1167.4 1651.8 1166.7 1652.3 1166 1652.8 1165.4 1653.2 1164.9 1653.6 1164.4 1653.9 1163.8 1654.3 1163.1 1654.8 1162.4 1655.2 1161.9 1655.6 1161.4 1655.9 1160.7 1656.3 1159.9 1656.8 1159.4 1657.1 1158.9 1657.3 1158.1 1657.8 1157.4 1658.2 1156.9 1658.4 1156.2 1658.8 1155.4 1659.2 1154.9 1659.4 1154.1 1659.8 1153.4 1660.1 1152.9 1660.3 1151.9 1660.7 1151.4 1660.9 1150.4 1661.2 1149.9 1661.4 1148.9 1661.7 1148.4 1661.8 1147.4 1662.1 1146.4 1662.3 1145.9 1662.3 1144.9 1662.4 1143.9 1662.5 1142.9 1662.4 1142.3 1662.3 1141.4 1662 1140.9 1661.8 1140.1 1661.3 1139.5 1660.8 1139 1660.3 1138.7 1659.8 1138.4 1659.3 1138 1658.3 1137.8 1657.8 1137.6 1656.8 1137.6 1655.8 1137.6 1654.8 1137.8 1653.8 1137.9 1653.2 1138.1 1652.3 1138.4 1651.4 1138.6 1650.8 1138.9 1649.9 1139.1 1649.3 1139.4 1648.6 1139.7 1647.8 1139.9 1647.3 1140.4 1646.3 1140.6 1645.8 1140.9 1645.1 1141.3 1644.3 1141.5 1643.8 1141.9 1643.1 1142.4 1642.3 1142.7 1641.8 1143 1641.3 1143.4 1640.6 1143.9 1639.8 1144.2 1639.3 1144.5 1638.8 1144.9 1638.2 1145.4 1637.5 1145.9 1636.8 1146.2 1636.3 1146.6 1635.8 1146.9 1635.3 1147.4 1634.7 1147.9 1634 1148.4 1633.3 1148.7 1632.8 1149.1 1632.3 1149.5 1631.8 1149.9 1631.2 1150.4 1630.6 1150.9 1630 1151.4 1629.4 1151.9 1628.8 1152.3 1628.3 1152.7 1627.8 1153.1 1627.3 1153.5 1626.8 1153.9 1626.3 1154.4 1625.7 1154.9 1625.1 1155.4 1624.6 1155.9 1624 1156.4 1623.5 1156.9 1623 1157.4 1622.4 1157.9 1621.9 1158.4 1621.4 1158.9 1620.9 1159.4 1620.4 1159.9 1619.9 1160.4 1619.4 1160.9 1618.9 1161.4 1618.4 1161.9 1617.8 1162.4 1617.3 1162.9 1616.8 1163.4 1616.3 1163.9 1615.8 1164.4 1615.4 1164.9 1614.9 1165.4 1614.4 1165.9 1613.9 1166.4 1613.5 1166.9 1613.1 1167.4 1612.6 1167.9 1612.3 1168.5 1611.8 1169.2 1611.3 1169.9 1610.9 1170.4 1610.6 1171.2 1610.3 1171.9 1610 1172.7 1609.8 M1175.1 1611.8 1175.9 1611.7 1176.9 1611.8 1177.4 1611.8 1178.4 1612 1179.4 1612.3 1179.9 1612.5 1180.7 1612.8 1181.4 1613.2 1181.9 1613.4 1182.4 1613.8 1183.1 1614.3 1183.7 1614.8 1184.2 1615.3 1184.7 1615.8 1185.1 1616.3 1185.5 1616.8 1185.9 1617.3 1186.4 1618 1186.9 1618.8 1187.2 1619.3 1187.4 1619.8 1187.8 1620.8 1188 1621.3 1188.2 1622.3 1188.4 1623.2 1188.5 1623.8 1188.5 1624.8 1188.4 1625.8 1188.3 1626.3 1188.1 1627.3 1187.9 1627.8 1187.4 1628.8 1187.1 1629.3 1186.8 1629.8 1186.4 1630.4 1185.9 1631 1185.4 1631.7 1184.9 1632.3 1184.4 1632.8 1184 1633.3 1183.5 1633.8 1183.1 1634.3 1182.6 1634.8 1182.1 1635.3 1181.7 1635.8 1181.2 1636.3 1180.7 1636.8 1180.2 1637.3 1179.7 1637.8 1179.2 1638.3 1178.7 1638.8 1178.2 1639.3 1177.7 1639.8 1177.1 1640.3 1176.6 1640.8 1176 1641.3 1175.5 1641.8 1174.9 1642.3 1174.4 1642.8 1173.9 1643.2 1173.4 1643.7 1172.9 1644.1 1172.4 1644.5 1171.9 1644.9 1171.4 1645.3 1170.7 1645.8 1170 1646.3 1169.4 1646.8 1168.9 1647.1 1168.4 1647.5 1167.9 1647.9 1167.3 1648.3 1166.6 1648.8 1165.9 1649.3 1165.4 1649.6 1164.9 1650 1164.4 1650.3 1163.7 1650.8 1162.9 1651.3 1162.4 1651.6 1161.9 1651.9 1161.2 1652.3 1160.4 1652.7 1159.9 1653 1159.3 1653.3 1158.4 1653.8 1157.9 1654 1157.3 1654.3 1156.4 1654.7 1155.9 1654.9 1155 1655.3 1154.4 1655.6 1153.7 1655.8 1152.9 1656.1 1152 1656.3 1151.4 1656.4 1150.4 1656.6 1149.4 1656.7 1148.4 1656.7 1147.4 1656.6 1146.4 1656.4 1145.9 1656.2 1145.1 1655.8 1144.5 1655.3 1144.1 1654.8 1143.8 1654.3 1143.5 1653.3 1143.4 1652.3 1143.5 1651.3 1143.6 1650.3 1143.8 1649.3 1143.9 1648.7 1144.1 1647.8 1144.4 1646.8 1144.5 1646.3 1144.8 1645.3 1145 1644.8 1145.4 1643.8 1145.6 1643.3 1145.9 1642.6 1146.3 1641.8 1146.6 1641.3 1146.9 1640.7 1147.4 1639.8 1147.7 1639.3 1148 1638.8 1148.4 1638.2 1148.9 1637.4 1149.3 1636.8 1149.6 1636.3 1150 1635.8 1150.4 1635.2 1150.9 1634.4 1151.3 1633.8 1151.7 1633.3 1152 1632.8 1152.4 1632.3 1152.9 1631.6 1153.4 1631 1153.9 1630.4 1154.4 1629.8 1154.8 1629.3 1155.2 1628.8 1155.6 1628.3 1156 1627.8 1156.4 1627.3 1156.9 1626.7 1157.4 1626.1 1157.9 1625.5 1158.4 1625 1158.9 1624.4 1159.4 1623.9 1159.9 1623.3 1160.4 1622.8 1160.9 1622.3 1161.4 1621.8 1161.9 1621.3 1162.4 1620.8 1162.9 1620.3 1163.4 1619.8 1163.9 1619.3 1164.4 1618.8 1164.8 1618.3 1165.3 1617.8 1165.9 1617.3 1166.4 1616.8 1166.9 1616.4 1167.4 1615.9 1167.9 1615.5 1168.4 1615.1 1168.9 1614.7 1169.4 1614.3 1170 1613.8 1170.8 1613.3 1171.4 1613 1171.9 1612.7 1172.9 1612.3 1173.4 1612.1 1174.4 1611.9 1175.1 1611.8 M1176 1613.3 1176.8 1613.3 1177.4 1613.3 1178.4 1613.5 1179.3 1613.8 1179.9 1614 1180.6 1614.3 1181.4 1614.8 1181.9 1615.1 1182.4 1615.5 1182.9 1615.9 1183.4 1616.3 1183.9 1616.9 1184.4 1617.5 1184.9 1618.1 1185.4 1618.8 1185.6 1619.3 1185.9 1619.8 1186.3 1620.8 1186.5 1621.3 1186.7 1622.3 1186.9 1623.3 1186.9 1624.1 1186.9 1624.4 1186.8 1625.3 1186.6 1626.3 1186.4 1627 1186 1627.8 1185.8 1628.3 1185.4 1628.9 1184.9 1629.6 1184.4 1630.3 1184 1630.8 1183.5 1631.3 1183.1 1631.8 1182.6 1632.3 1182.2 1632.8 1181.7 1633.3 1181.3 1633.8 1180.8 1634.3 1180.3 1634.8 1179.9 1635.3 1179.4 1635.8 1178.9 1636.3 1178.4 1636.8 1177.9 1637.4 1177.4 1637.8 1176.9 1638.3 1176.3 1638.8 1175.8 1639.3 1175.2 1639.8 1174.7 1640.3 1174.1 1640.8 1173.6 1641.3 1173 1641.8 1172.4 1642.3 1171.9 1642.7 1171.4 1643.1 1170.9 1643.5 1170.4 1643.8 1169.7 1644.3 1169 1644.8 1168.4 1645.3 1167.9 1645.6 1167.4 1646 1166.9 1646.3 1166.2 1646.8 1165.5 1647.3 1164.9 1647.7 1164.4 1648 1163.9 1648.3 1163.2 1648.8 1162.4 1649.3 1161.9 1649.6 1161.4 1649.9 1160.6 1650.3 1159.9 1650.6 1159.4 1650.9 1158.4 1651.3 1157.9 1651.5 1157 1651.8 1156.4 1652 1155.4 1652.3 1154.9 1652.4 1153.9 1652.7 1153.4 1652.8 1152.4 1653 1151.4 1653 1150.4 1653 1149.7 1652.8 1148.9 1652.5 1148.4 1652.2 1147.9 1651.7 1147.4 1650.8 1147.3 1650.3 1147.1 1649.3 1147.1 1648.3 1147.2 1647.3 1147.3 1646.3 1147.4 1645.8 1147.6 1644.8 1147.9 1644 1148.1 1643.3 1148.4 1642.7 1148.8 1641.8 1149 1641.3 1149.4 1640.6 1149.8 1639.8 1150.1 1639.3 1150.4 1638.7 1150.9 1637.9 1151.2 1637.3 1151.5 1636.8 1151.9 1636.2 1152.4 1635.4 1152.8 1634.8 1153.1 1634.3 1153.5 1633.8 1153.9 1633.2 1154.4 1632.5 1154.9 1631.8 1155.3 1631.3 1155.6 1630.8 1156 1630.3 1156.4 1629.8 1156.9 1629.1 1157.4 1628.5 1157.9 1627.9 1158.4 1627.3 1158.9 1626.8 1159.3 1626.3 1159.8 1625.8 1160.2 1625.3 1160.7 1624.8 1161.1 1624.3 1161.6 1623.8 1162.1 1623.3 1162.6 1622.8 1163.1 1622.3 1163.6 1621.8 1164.1 1621.3 1164.5 1620.8 1165 1620.3 1165.5 1619.8 1166 1619.3 1166.5 1618.8 1167 1618.3 1167.6 1617.8 1168.2 1617.3 1168.8 1616.8 1169.4 1616.3 1169.9 1615.9 1170.4 1615.5 1170.9 1615.1 1171.4 1614.8 1172.3 1614.3 1172.9 1614 1173.5 1613.8 1174.4 1613.5 1175.4 1613.3 1176 1613.3 M1174.5 1614.8 1175.4 1614.6 1176.4 1614.5 1177.4 1614.6 1178.4 1614.8 1178.9 1614.9 1179.9 1615.3 1180.4 1615.5 1180.9 1615.8 1181.6 1616.3 1182.3 1616.8 1182.8 1617.3 1183.3 1617.8 1183.7 1618.3 1184 1618.8 1184.4 1619.4 1184.9 1620.3 1185.1 1620.8 1185.4 1621.8 1185.5 1622.3 1185.6 1623.3 1185.6 1624.3 1185.5 1625.3 1185.4 1625.8 1185 1626.8 1184.8 1627.3 1184.4 1628.1 1183.9 1628.8 1183.6 1629.3 1183.2 1629.8 1182.7 1630.3 1182.3 1630.8 1181.8 1631.3 1181.4 1631.8 1180.9 1632.3 1180.4 1632.8 1179.9 1633.4 1179.4 1633.9 1178.9 1634.4 1178.4 1635 1177.9 1635.5 1177.4 1636 1176.9 1636.5 1176.4 1637 1175.9 1637.4 1175.4 1637.9 1174.9 1638.3 1174.4 1638.8 1173.8 1639.3 1173.3 1639.8 1172.7 1640.3 1172.1 1640.8 1171.5 1641.3 1170.9 1641.7 1170.4 1642.1 1169.9 1642.5 1169.4 1642.8 1168.7 1643.3 1168 1643.8 1167.4 1644.2 1166.9 1644.5 1166.4 1644.9 1165.7 1645.3 1165 1645.8 1164.4 1646.2 1163.9 1646.5 1163.4 1646.8 1162.6 1647.3 1161.9 1647.7 1161.4 1648 1160.8 1648.3 1159.9 1648.7 1159.4 1649 1158.5 1649.3 1157.9 1649.5 1156.9 1649.8 1156.4 1649.9 1155.4 1650 1154.4 1650.1 1153.4 1650.1 1152.4 1649.9 1151.9 1649.8 1151 1649.3 1150.6 1648.8 1150.3 1648.3 1150 1647.3 1149.9 1646.8 1149.9 1645.8 1149.9 1645.3 1150.1 1644.3 1150.3 1643.3 1150.5 1642.8 1150.9 1641.8 1151.1 1641.3 1151.4 1640.6 1151.8 1639.8 1152 1639.3 1152.4 1638.5 1152.8 1637.8 1153 1637.3 1153.4 1636.6 1153.9 1635.8 1154.2 1635.3 1154.5 1634.8 1154.9 1634.2 1155.4 1633.4 1155.8 1632.8 1156.1 1632.3 1156.5 1631.8 1156.9 1631.2 1157.4 1630.5 1157.9 1629.9 1158.3 1629.3 1158.8 1628.8 1159.2 1628.3 1159.6 1627.8 1160.1 1627.3 1160.5 1626.8 1161 1626.3 1161.4 1625.8 1161.9 1625.3 1162.4 1624.8 1162.9 1624.2 1163.4 1623.7 1163.9 1623.2 1164.4 1622.7 1164.9 1622.2 1165.4 1621.7 1165.9 1621.1 1166.4 1620.6 1166.9 1620.1 1167.4 1619.6 1167.9 1619.1 1168.4 1618.7 1168.9 1618.3 1169.4 1617.8 1170 1617.3 1170.7 1616.8 1171.4 1616.3 1171.9 1616 1172.4 1615.7 1173.1 1615.3 1173.9 1615 1174.5 1614.8 M1175.2 1615.8 1175.9 1615.7 1176.9 1615.7 1177.9 1615.8 1178.4 1615.9 1179.4 1616.2 1179.9 1616.5 1180.5 1616.8 1181.3 1617.3 1181.9 1617.8 1182.4 1618.3 1182.8 1618.8 1183.1 1619.3 1183.5 1619.8 1183.9 1620.7 1184.1 1621.3 1184.3 1622.3 1184.4 1622.8 1184.4 1623.8 1184.4 1624.4 1184.3 1625.3 1184 1626.3 1183.8 1626.8 1183.4 1627.5 1182.9 1628.3 1182.6 1628.8 1182.2 1629.3 1181.7 1629.8 1181.3 1630.3 1180.8 1630.8 1180.3 1631.3 1179.9 1631.8 1179.4 1632.3 1178.9 1632.8 1178.4 1633.4 1177.9 1633.9 1177.4 1634.4 1176.9 1634.9 1176.4 1635.4 1175.9 1635.9 1175.4 1636.3 1174.9 1636.8 1174.3 1637.3 1173.7 1637.8 1173.2 1638.3 1172.6 1638.8 1172 1639.3 1171.4 1639.8 1170.9 1640.2 1170.4 1640.6 1169.9 1640.9 1169.4 1641.3 1168.7 1641.8 1168 1642.3 1167.4 1642.7 1166.9 1643 1166.4 1643.3 1165.6 1643.8 1164.9 1644.2 1164.4 1644.5 1163.9 1644.8 1163.1 1645.3 1162.4 1645.7 1161.9 1646 1161.3 1646.3 1160.4 1646.7 1159.9 1647 1159.1 1647.3 1158.4 1647.5 1157.4 1647.7 1156.9 1647.8 1155.9 1647.8 1155.4 1647.8 1154.4 1647.5 1153.9 1647.3 1153.2 1646.8 1152.8 1646.3 1152.4 1645.3 1152.3 1644.8 1152.3 1643.8 1152.4 1643.3 1152.7 1642.3 1152.9 1641.5 1153.1 1640.8 1153.4 1640.1 1153.7 1639.3 1153.9 1638.8 1154.4 1637.8 1154.6 1637.3 1154.9 1636.8 1155.4 1635.9 1155.7 1635.3 1156 1634.8 1156.4 1634.1 1156.9 1633.3 1157.2 1632.8 1157.5 1632.3 1157.9 1631.7 1158.4 1631 1158.9 1630.3 1159.3 1629.8 1159.7 1629.3 1160.2 1628.8 1160.6 1628.3 1161.1 1627.8 1161.5 1627.3 1162 1626.8 1162.4 1626.3 1162.9 1625.8 1163.4 1625.3 1163.9 1624.7 1164.4 1624.2 1164.9 1623.7 1165.4 1623.2 1165.9 1622.7 1166.4 1622.2 1166.9 1621.6 1167.4 1621.1 1167.9 1620.6 1168.4 1620.1 1168.9 1619.7 1169.4 1619.2 1169.9 1618.8 1170.5 1618.3 1171.1 1617.8 1171.8 1617.3 1172.4 1616.9 1172.9 1616.6 1173.6 1616.3 1174.4 1616 1175.2 1615.8 M1175.6 1616.8 1176.4 1616.7 1177.4 1616.8 1177.9 1616.8 1178.9 1617.1 1179.4 1617.3 1180.3 1617.8 1180.9 1618.3 1181.4 1618.7 1181.9 1619.3 1182.3 1619.8 1182.6 1620.3 1182.9 1621 1183.2 1621.8 1183.3 1622.8 1183.3 1623.8 1183.2 1624.8 1183 1625.8 1182.8 1626.3 1182.4 1627.1 1182 1627.8 1181.7 1628.3 1181.3 1628.8 1180.8 1629.3 1180.4 1629.8 1179.9 1630.3 1179.4 1630.9 1178.9 1631.4 1178.4 1631.9 1177.9 1632.4 1177.4 1632.9 1176.9 1633.5 1176.4 1634 1175.9 1634.4 1175.4 1634.9 1174.9 1635.3 1174.3 1635.8 1173.8 1636.3 1173.2 1636.8 1172.6 1637.3 1172.1 1637.8 1171.5 1638.3 1170.9 1638.8 1170.4 1639.2 1169.9 1639.6 1169.4 1639.9 1168.9 1640.3 1168.2 1640.8 1167.4 1641.3 1166.9 1641.6 1166.4 1641.9 1165.7 1642.3 1164.9 1642.8 1164.4 1643 1163.9 1643.3 1162.9 1643.8 1162.4 1644 1161.9 1644.3 1160.9 1644.7 1160.4 1644.9 1159.4 1645.3 1158.9 1645.4 1157.9 1645.6 1156.9 1645.5 1156.4 1645.3 1155.7 1644.8 1155.3 1644.3 1154.9 1643.3 1154.8 1642.8 1154.9 1641.8 1154.9 1641.3 1155.1 1640.3 1155.4 1639.3 1155.6 1638.8 1155.9 1637.9 1156.2 1637.3 1156.4 1636.8 1156.9 1635.8 1157.2 1635.3 1157.4 1634.8 1157.9 1633.9 1158.2 1633.3 1158.5 1632.8 1158.9 1632.2 1159.4 1631.4 1159.9 1630.8 1160.2 1630.3 1160.7 1629.8 1161.1 1629.3 1161.5 1628.8 1162 1628.3 1162.4 1627.8 1162.9 1627.3 1163.4 1626.7 1163.9 1626.2 1164.4 1625.6 1164.9 1625.1 1165.4 1624.6 1165.9 1624.1 1166.4 1623.6 1166.9 1623.1 1167.4 1622.6 1167.9 1622 1168.4 1621.5 1168.9 1621 1169.4 1620.5 1169.9 1620.1 1170.4 1619.6 1170.9 1619.2 1171.4 1618.8 1172.1 1618.3 1172.9 1617.8 1173.4 1617.5 1173.9 1617.3 1174.9 1616.9 1175.6 1616.8 M1175.9 1617.8 1176.9 1617.8 1177.4 1617.8 1178.4 1618 1179.1 1618.3 1179.9 1618.8 1180.4 1619.2 1180.9 1619.7 1181.4 1620.3 1181.7 1620.8 1181.9 1621.4 1182.1 1622.3 1182.2 1623.3 1182.2 1624.3 1182 1625.3 1181.8 1625.8 1181.4 1626.7 1181.1 1627.3 1180.8 1627.8 1180.4 1628.3 1179.9 1628.9 1179.4 1629.5 1178.9 1630 1178.4 1630.5 1177.9 1631.1 1177.4 1631.6 1176.9 1632.1 1176.4 1632.6 1175.9 1633.1 1175.4 1633.5 1174.9 1634 1174.4 1634.4 1173.9 1634.8 1173.3 1635.3 1172.7 1635.8 1172.2 1636.3 1171.6 1636.8 1171 1637.3 1170.4 1637.8 1169.9 1638.2 1169.4 1638.6 1168.9 1639 1168.4 1639.3 1167.7 1639.8 1166.9 1640.3 1166.4 1640.6 1165.9 1640.9 1165 1641.3 1164.4 1641.6 1163.9 1641.8 1162.9 1642.2 1162.4 1642.4 1161.4 1642.8 1160.9 1642.9 1159.9 1643.1 1158.9 1643 1158.2 1642.8 1157.6 1642.3 1157.3 1641.8 1157.1 1640.8 1157.1 1639.8 1157.3 1638.8 1157.4 1638.3 1157.8 1637.3 1158 1636.8 1158.4 1635.8 1158.6 1635.3 1158.9 1634.7 1159.3 1633.8 1159.6 1633.3 1159.9 1632.7 1160.4 1631.9 1160.8 1631.3 1161.2 1630.8 1161.5 1630.3 1161.9 1629.8 1162.4 1629.3 1162.9 1628.7 1163.4 1628.1 1163.9 1627.6 1164.4 1627 1164.9 1626.5 1165.4 1625.9 1165.9 1625.4 1166.4 1624.9 1166.9 1624.5 1167.4 1624 1167.9 1623.4 1168.4 1622.9 1168.9 1622.4 1169.4 1621.8 1169.9 1621.4 1170.4 1620.9 1170.9 1620.4 1171.4 1620 1171.9 1619.6 1172.4 1619.3 1173.2 1618.8 1173.9 1618.4 1174.4 1618.2 1175.4 1617.9 1175.9 1617.8 M1174.4 1619.3 1174.9 1619.1 1175.9 1618.9 1176.9 1618.8 1177.9 1619 1178.7 1619.3 1179.4 1619.7 1179.9 1620.2 1180.4 1620.8 1180.6 1621.3 1180.9 1622 1181.1 1622.8 1181.1 1623.8 1180.9 1624.8 1180.8 1625.3 1180.4 1626.3 1180.2 1626.8 1179.9 1627.3 1179.4 1628 1178.9 1628.6 1178.4 1629.1 1177.9 1629.7 1177.4 1630.2 1176.9 1630.7 1176.4 1631.2 1175.9 1631.7 1175.4 1632.2 1174.9 1632.6 1174.4 1633 1173.9 1633.5 1173.4 1633.9 1172.9 1634.3 1172.3 1634.8 1171.7 1635.3 1171.2 1635.8 1170.6 1636.3 1170 1636.8 1169.4 1637.3 1168.9 1637.6 1168.4 1638 1167.9 1638.3 1167.1 1638.8 1166.4 1639.2 1165.9 1639.5 1165.2 1639.8 1164.4 1640.1 1163.8 1640.3 1162.9 1640.5 1161.9 1640.6 1160.9 1640.5 1160.4 1640.3 1159.8 1639.8 1159.5 1638.8 1159.5 1637.8 1159.7 1636.8 1159.9 1636 1160.1 1635.3 1160.4 1634.5 1160.7 1633.8 1160.9 1633.3 1161.4 1632.4 1161.8 1631.8 1162.1 1631.3 1162.5 1630.8 1162.9 1630.2 1163.4 1629.6 1163.9 1629 1164.4 1628.4 1164.9 1627.8 1165.4 1627.3 1165.9 1626.8 1166.4 1626.3 1166.9 1625.8 1167.4 1625.3 1167.9 1624.8 1168.4 1624.3 1168.9 1623.8 1169.4 1623.3 1169.8 1622.8 1170.3 1622.3 1170.8 1621.8 1171.4 1621.3 1171.9 1620.9 1172.4 1620.5 1172.9 1620.1 1173.4 1619.8 1174.4 1619.3 M1174.8 1620.3 1175.4 1620.1 1176.4 1620 1177.4 1620.1 1178 1620.3 1178.7 1620.8 1179.2 1621.3 1179.5 1621.8 1179.8 1622.8 1179.9 1623.8 1179.7 1624.8 1179.4 1625.8 1179.2 1626.3 1178.9 1626.8 1178.4 1627.6 1177.9 1628.2 1177.4 1628.7 1176.9 1629.3 1176.4 1629.8 1175.9 1630.3 1175.4 1630.7 1174.9 1631.2 1174.4 1631.7 1173.9 1632.1 1173.4 1632.5 1172.9 1632.9 1172.4 1633.3 1171.8 1633.8 1171.2 1634.3 1170.7 1634.8 1170.1 1635.3 1169.5 1635.8 1168.9 1636.3 1168.4 1636.6 1167.9 1636.9 1167.3 1637.3 1166.4 1637.8 1165.9 1638 1165 1638.3 1164.4 1638.4 1163.4 1638.5 1162.8 1638.3 1162.1 1637.8 1161.8 1637.3 1161.6 1636.3 1161.7 1635.3 1161.9 1634.3 1162.1 1633.8 1162.4 1633.1 1162.8 1632.3 1163.1 1631.8 1163.4 1631.3 1163.9 1630.6 1164.4 1629.9 1164.9 1629.3 1165.3 1628.8 1165.8 1628.3 1166.2 1627.8 1166.7 1627.3 1167.2 1626.8 1167.8 1626.3 1168.3 1625.8 1168.8 1625.3 1169.3 1624.8 1169.8 1624.3 1170.3 1623.8 1170.8 1623.3 1171.3 1622.8 1171.8 1622.3 1172.4 1621.8 1172.9 1621.4 1173.4 1621 1173.9 1620.7 1174.8 1620.3 M1174.5 1621.8 1175.4 1621.5 1176.4 1621.4 1177.4 1621.7 1177.9 1622.1 1178.3 1622.8 1178.4 1623.3 1178.5 1624.3 1178.4 1624.9 1178.1 1625.8 1177.9 1626.3 1177.4 1627 1176.9 1627.6 1176.4 1628.2 1175.9 1628.7 1175.4 1629.1 1174.9 1629.6 1174.4 1630.1 1173.9 1630.5 1173.4 1631 1172.9 1631.4 1172.4 1631.8 1171.7 1632.3 1171.1 1632.8 1170.6 1633.3 1170 1633.8 1169.5 1634.3 1168.9 1634.8 1168.4 1635.1 1167.9 1635.4 1167.2 1635.8 1166.4 1636.1 1165.7 1636.3 1164.9 1636.3 1164.4 1636.2 1163.9 1635.8 1163.6 1634.8 1163.7 1633.8 1163.9 1633.2 1164.3 1632.3 1164.5 1631.8 1164.9 1631.2 1165.4 1630.4 1165.9 1629.8 1166.3 1629.3 1166.7 1628.8 1167.2 1628.3 1167.7 1627.8 1168.3 1627.3 1168.9 1626.8 1169.4 1626.3 1169.9 1625.9 1170.4 1625.4 1170.9 1624.9 1171.4 1624.4 1171.9 1623.9 1172.4 1623.4 1172.9 1622.9 1173.4 1622.5 1173.9 1622.1 1174.5 1621.8" fill="none" stroke="#000" stroke-width="1.1" stroke-linejoin="round"/>
<path d="M1253.5 1370.3 L1429.7 1371.1 L1429.7 1554.7 L1221.2 1644 L1145.4 1578.8 Z" fill="none" stroke="#000" stroke-width="1"/>
<rect x="1109.4" y="1368.4" width="323.6" height="323.4" fill="none" stroke="#333" stroke-width="1.35"/>
<line x1="1128.3" y1="1691.8" x2="1128.3" y2="1701.2" stroke="#000" stroke-width="1.15"/>
<line x1="1100" y1="1671.2" x2="1109.4" y2="1671.2" stroke="#000" stroke-width="1.15"/>
<line x1="1132.3" y1="1691.8" x2="1132.3" y2="1696" stroke="#444" stroke-width="1.15"/>
<line x1="1105.2" y1="1667.2" x2="1109.4" y2="1667.2" stroke="#444" stroke-width="1.15"/>
<line x1="1136.8" y1="1691.8" x2="1136.8" y2="1696" stroke="#444" stroke-width="1.15"/>
<line x1="1105.2" y1="1662.7" x2="1109.4" y2="1662.7" stroke="#444" stroke-width="1.15"/>
<line x1="1141.3" y1="1691.8" x2="1141.3" y2="1696" stroke="#444" stroke-width="1.15"/>
<line x1="1105.2" y1="1658.2" x2="1109.4" y2="1658.2" stroke="#444" stroke-width="1.15"/>
<line x1="1146.3" y1="1691.8" x2="1146.3" y2="1696" stroke="#444" stroke-width="1.15"/>
<line x1="1105.2" y1="1653.2" x2="1109.4" y2="1653.2" stroke="#444" stroke-width="1.15"/>
<line x1="1151.7" y1="1691.8" x2="1151.7" y2="1698.8" stroke="#444" stroke-width="1.15"/>
<line x1="1102.4" y1="1647.8" x2="1109.4" y2="1647.8" stroke="#444" stroke-width="1.15"/>
<line x1="1158" y1="1691.8" x2="1158" y2="1696" stroke="#444" stroke-width="1.15"/>
<line x1="1105.2" y1="1641.5" x2="1109.4" y2="1641.5" stroke="#444" stroke-width="1.15"/>
<line x1="1163.6" y1="1691.8" x2="1163.6" y2="1696" stroke="#444" stroke-width="1.15"/>
<line x1="1105.2" y1="1635.9" x2="1109.4" y2="1635.9" stroke="#444" stroke-width="1.15"/>
<line x1="1169.8" y1="1691.8" x2="1169.8" y2="1696" stroke="#444" stroke-width="1.15"/>
<line x1="1105.2" y1="1629.7" x2="1109.4" y2="1629.7" stroke="#444" stroke-width="1.15"/>
<line x1="1176.3" y1="1691.8" x2="1176.3" y2="1700" stroke="#000" stroke-width="1.15"/>
<line x1="1101.2" y1="1623.2" x2="1109.4" y2="1623.2" stroke="#000" stroke-width="1.15"/>
<line x1="1182.3" y1="1691.8" x2="1182.3" y2="1701.2" stroke="#000" stroke-width="1.15"/>
<line x1="1100" y1="1617.2" x2="1109.4" y2="1617.2" stroke="#000" stroke-width="1.15"/>
<line x1="1188.3" y1="1691.8" x2="1188.3" y2="1700" stroke="#000" stroke-width="1.15"/>
<line x1="1101.2" y1="1611.2" x2="1109.4" y2="1611.2" stroke="#000" stroke-width="1.15"/>
<line x1="1194.9" y1="1691.8" x2="1194.9" y2="1696" stroke="#444" stroke-width="1.15"/>
<line x1="1105.2" y1="1604.6" x2="1109.4" y2="1604.6" stroke="#444" stroke-width="1.15"/>
<line x1="1199.7" y1="1691.8" x2="1199.7" y2="1696" stroke="#444" stroke-width="1.15"/>
<line x1="1105.2" y1="1599.8" x2="1109.4" y2="1599.8" stroke="#444" stroke-width="1.15"/>
<line x1="1205.4" y1="1691.8" x2="1205.4" y2="1696" stroke="#444" stroke-width="1.15"/>
<line x1="1105.2" y1="1594.1" x2="1109.4" y2="1594.1" stroke="#444" stroke-width="1.15"/>
<line x1="1211.1" y1="1691.8" x2="1211.1" y2="1698.8" stroke="#444" stroke-width="1.15"/>
<line x1="1102.4" y1="1588.4" x2="1109.4" y2="1588.4" stroke="#444" stroke-width="1.15"/>
<line x1="1216.5" y1="1691.8" x2="1216.5" y2="1696" stroke="#444" stroke-width="1.15"/>
<line x1="1105.2" y1="1583" x2="1109.4" y2="1583" stroke="#444" stroke-width="1.15"/>
<line x1="1221.5" y1="1691.8" x2="1221.5" y2="1696" stroke="#444" stroke-width="1.15"/>
<line x1="1105.2" y1="1578" x2="1109.4" y2="1578" stroke="#444" stroke-width="1.15"/>
<line x1="1226.3" y1="1691.8" x2="1226.3" y2="1696" stroke="#444" stroke-width="1.15"/>
<line x1="1105.2" y1="1573.2" x2="1109.4" y2="1573.2" stroke="#444" stroke-width="1.15"/>
<line x1="1230.8" y1="1691.8" x2="1230.8" y2="1696" stroke="#444" stroke-width="1.15"/>
<line x1="1105.2" y1="1568.7" x2="1109.4" y2="1568.7" stroke="#444" stroke-width="1.15"/>
<line x1="1234.7" y1="1691.8" x2="1234.7" y2="1701.2" stroke="#000" stroke-width="1.15"/>
<line x1="1100" y1="1564.8" x2="1109.4" y2="1564.8" stroke="#000" stroke-width="1.15"/>
<line x1="1263.2" y1="1691.8" x2="1263.2" y2="1696" stroke="#444" stroke-width="1.15"/>
<line x1="1105.2" y1="1536.3" x2="1109.4" y2="1536.3" stroke="#444" stroke-width="1.15"/>
<line x1="1279.9" y1="1691.8" x2="1279.9" y2="1696" stroke="#444" stroke-width="1.15"/>
<line x1="1105.2" y1="1519.6" x2="1109.4" y2="1519.6" stroke="#444" stroke-width="1.15"/>
<line x1="1291.7" y1="1691.8" x2="1291.7" y2="1696" stroke="#444" stroke-width="1.15"/>
<line x1="1105.2" y1="1507.8" x2="1109.4" y2="1507.8" stroke="#444" stroke-width="1.15"/>
<line x1="1299.2" y1="1691.8" x2="1299.2" y2="1698.8" stroke="#444" stroke-width="1.15"/>
<line x1="1102.4" y1="1500.3" x2="1109.4" y2="1500.3" stroke="#444" stroke-width="1.15"/>
<line x1="1305.9" y1="1691.8" x2="1305.9" y2="1696" stroke="#444" stroke-width="1.15"/>
<line x1="1105.2" y1="1493.6" x2="1109.4" y2="1493.6" stroke="#444" stroke-width="1.15"/>
<line x1="1310.7" y1="1691.8" x2="1310.7" y2="1696" stroke="#444" stroke-width="1.15"/>
<line x1="1105.2" y1="1488.8" x2="1109.4" y2="1488.8" stroke="#444" stroke-width="1.15"/>
<line x1="1316.1" y1="1691.8" x2="1316.1" y2="1696" stroke="#444" stroke-width="1.15"/>
<line x1="1105.2" y1="1483.4" x2="1109.4" y2="1483.4" stroke="#444" stroke-width="1.15"/>
<line x1="1320.2" y1="1691.8" x2="1320.2" y2="1696" stroke="#444" stroke-width="1.15"/>
<line x1="1105.2" y1="1479.3" x2="1109.4" y2="1479.3" stroke="#444" stroke-width="1.15"/>
<line x1="1324.3" y1="1691.8" x2="1324.3" y2="1701.2" stroke="#000" stroke-width="1.15"/>
<line x1="1100" y1="1475.2" x2="1109.4" y2="1475.2" stroke="#000" stroke-width="1.15"/>
<line x1="1348.6" y1="1691.8" x2="1348.6" y2="1696" stroke="#444" stroke-width="1.15"/>
<line x1="1105.2" y1="1450.9" x2="1109.4" y2="1450.9" stroke="#444" stroke-width="1.15"/>
<line x1="1360.9" y1="1691.8" x2="1360.9" y2="1696" stroke="#444" stroke-width="1.15"/>
<line x1="1105.2" y1="1438.6" x2="1109.4" y2="1438.6" stroke="#444" stroke-width="1.15"/>
<line x1="1370.4" y1="1691.8" x2="1370.4" y2="1696" stroke="#444" stroke-width="1.15"/>
<line x1="1105.2" y1="1429.1" x2="1109.4" y2="1429.1" stroke="#444" stroke-width="1.15"/>
<line x1="1378" y1="1691.8" x2="1378" y2="1698.8" stroke="#444" stroke-width="1.15"/>
<line x1="1102.4" y1="1421.5" x2="1109.4" y2="1421.5" stroke="#444" stroke-width="1.15"/>
<line x1="1383.7" y1="1691.8" x2="1383.7" y2="1696" stroke="#444" stroke-width="1.15"/>
<line x1="1105.2" y1="1415.8" x2="1109.4" y2="1415.8" stroke="#444" stroke-width="1.15"/>
<line x1="1388.4" y1="1691.8" x2="1388.4" y2="1696" stroke="#444" stroke-width="1.15"/>
<line x1="1105.2" y1="1411.1" x2="1109.4" y2="1411.1" stroke="#444" stroke-width="1.15"/>
<line x1="1393.1" y1="1691.8" x2="1393.1" y2="1696" stroke="#444" stroke-width="1.15"/>
<line x1="1105.2" y1="1406.4" x2="1109.4" y2="1406.4" stroke="#444" stroke-width="1.15"/>
<line x1="1397" y1="1691.8" x2="1397" y2="1696" stroke="#444" stroke-width="1.15"/>
<line x1="1105.2" y1="1402.5" x2="1109.4" y2="1402.5" stroke="#444" stroke-width="1.15"/>
<line x1="1400.4" y1="1691.8" x2="1400.4" y2="1701.2" stroke="#000" stroke-width="1.15"/>
<line x1="1100" y1="1399.1" x2="1109.4" y2="1399.1" stroke="#000" stroke-width="1.15"/>
<line x1="1422.6" y1="1691.8" x2="1422.6" y2="1696" stroke="#444" stroke-width="1.15"/>
<line x1="1105.2" y1="1376.9" x2="1109.4" y2="1376.9" stroke="#444" stroke-width="1.15"/>
<line x1="1177.7" y1="1691.8" x2="1177.7" y2="1697.2" stroke="#222" stroke-width="0.9"/>
<line x1="1104" y1="1621.8" x2="1109.4" y2="1621.8" stroke="#222" stroke-width="0.9"/>
<line x1="1178.8" y1="1691.8" x2="1178.8" y2="1697.2" stroke="#222" stroke-width="0.9"/>
<line x1="1104" y1="1620.7" x2="1109.4" y2="1620.7" stroke="#222" stroke-width="0.9"/>
<line x1="1179.9" y1="1691.8" x2="1179.9" y2="1697.2" stroke="#222" stroke-width="0.9"/>
<line x1="1104" y1="1619.6" x2="1109.4" y2="1619.6" stroke="#222" stroke-width="0.9"/>
<line x1="1181.1" y1="1691.8" x2="1181.1" y2="1697.2" stroke="#222" stroke-width="0.9"/>
<line x1="1104" y1="1618.4" x2="1109.4" y2="1618.4" stroke="#222" stroke-width="0.9"/>
<line x1="1183.5" y1="1691.8" x2="1183.5" y2="1697.2" stroke="#222" stroke-width="0.9"/>
<line x1="1104" y1="1616" x2="1109.4" y2="1616" stroke="#222" stroke-width="0.9"/>
<line x1="1184.7" y1="1691.8" x2="1184.7" y2="1697.2" stroke="#222" stroke-width="0.9"/>
<line x1="1104" y1="1614.8" x2="1109.4" y2="1614.8" stroke="#222" stroke-width="0.9"/>
<line x1="1185.8" y1="1691.8" x2="1185.8" y2="1697.2" stroke="#222" stroke-width="0.9"/>
<line x1="1104" y1="1613.7" x2="1109.4" y2="1613.7" stroke="#222" stroke-width="0.9"/>
<line x1="1186.9" y1="1691.8" x2="1186.9" y2="1697.2" stroke="#222" stroke-width="0.9"/>
<line x1="1104" y1="1612.6" x2="1109.4" y2="1612.6" stroke="#222" stroke-width="0.9"/>
<text transform="translate(1107 1724.1) scale(0.97 1)" font-size="20">-10<tspan dx="1.3" dy="-7.0" font-size="11.6">3</tspan></text>
<text transform="translate(1182.3 1724.1) scale(0.97 1)" font-size="20" text-anchor="middle">0</text>
<text transform="translate(1231.3 1724.1) scale(0.97 1)" font-size="20">10<tspan dx="1.3" dy="-7.0" font-size="11.6">3</tspan></text>
<text transform="translate(1316.3 1724.1) scale(0.97 1)" font-size="20">10<tspan dx="1.3" dy="-7.0" font-size="11.6">4</tspan></text>
<text transform="translate(1394 1724.1) scale(0.97 1)" font-size="20">10<tspan dx="1.3" dy="-7.0" font-size="11.6">5</tspan></text>
<text transform="translate(1095 1679.6) scale(0.97 1)" font-size="20" text-anchor="end">-10<tspan dx="1.3" dy="-7.0" font-size="11.6">3</tspan></text>
<text transform="translate(1093.4 1625.6) scale(0.97 1)" font-size="20" text-anchor="end">0</text>
<text transform="translate(1095 1573.2) scale(0.97 1)" font-size="20" text-anchor="end">10<tspan dx="1.3" dy="-7.0" font-size="11.6">3</tspan></text>
<text transform="translate(1095 1483.6) scale(0.97 1)" font-size="20" text-anchor="end">10<tspan dx="1.3" dy="-7.0" font-size="11.6">4</tspan></text>
<text transform="translate(1095 1407.5) scale(0.97 1)" font-size="20" text-anchor="end">10<tspan dx="1.3" dy="-7.0" font-size="11.6">5</tspan></text>
<text transform="translate(1295.2 1356.6) scale(0.96 1)" font-size="32.55" text-anchor="middle">MD39</text>
<path d="M709.1 2124.4h1.3M706.5 2117.9h1.3M710.3 2116.5h1.3M706.7 2126.7h1.3M713 2112h1.3M708.9 2125.6h1.3M704.8 2118.7h1.3M705.6 2127h1.3M711.3 2121.1h1.3M698.2 2128.6h1.3M706.7 2121.9h1.3M712.4 2118.6h1.3M707.1 2121.1h1.3M709.9 2118.3h1.3M703.7 2115.8h1.3M706.3 2120.8h1.3M702.6 2127.9h1.3M710.4 2125h1.3M715.5 2119.1h1.3M704 2123.6h1.3M710.2 2117.7h1.3M707.7 2118.8h1.3M709.1 2117.4h1.3M713.4 2122.4h1.3M711.9 2120.5h1.3M700.6 2125.4h1.3M707.8 2116.1h1.3M707.3 2120.1h1.3M705.6 2122.8h1.3M713.3 2123.7h1.3M707.2 2119.8h1.3M714.3 2116.2h1.3M715.9 2123.2h1.3M710.7 2116.8h1.3M700.8 2122.4h1.3M699.5 2130.1h1.3M711.2 2118.5h1.3M705.6 2126.2h1.3M706.1 2127.1h1.3M713.4 2117.2h1.3M704.3 2124.6h1.3M709.2 2123.6h1.3M703.2 2118h1.3M711 2112.8h1.3M709.9 2117.5h1.3M701.3 2126.1h1.3M714 2116.5h1.3M708.1 2121.8h1.3M701.8 2122.9h1.3M711.3 2118.3h1.3M712.4 2117.9h1.3M701.5 2124.1h1.3M706.8 2120h1.3M707.9 2124.2h1.3M711.6 2110.9h1.3M703.7 2125.4h1.3M708.4 2119.9h1.3M706.6 2119.6h1.3M709.8 2117.1h1.3M704.1 2124h1.3M708.1 2124.5h1.3M711.8 2113.7h1.3M712 2120.3h1.3M711.2 2122.8h1.3M718.9 2113.5h1.3M709.3 2118.6h1.3M708.7 2118.9h1.3M709.9 2116.3h1.3M705.9 2122.8h1.3M703.6 2123.2h1.3M718 2114.6h1.3M712.8 2115.8h1.3M704.2 2123.4h1.3M707.4 2119.4h1.3M710.6 2119.6h1.3M697.8 2123.3h1.3M709.8 2120.8h1.3M711 2120.4h1.3M700.6 2129.7h1.3M711.9 2120.8h1.3M703.9 2121h1.3M708.8 2115.8h1.3M711.9 2118h1.3M706.6 2120.1h1.3M712.1 2121.4h1.3M713.8 2114.4h1.3M705.2 2123.2h1.3M704.8 2122.3h1.3M704.8 2118.7h1.3M712.9 2116h1.3M707.9 2122.1h1.3M713.6 2119h1.3M709.3 2121.8h1.3M711.3 2115h1.3M709.9 2121.6h1.3M706.9 2116.4h1.3M703.2 2124.5h1.3M708.6 2122.4h1.3M714.4 2119h1.3M711.4 2119.5h1.3M706.7 2124.7h1.3M707.6 2117h1.3M705.8 2121.5h1.3M720.2 2113.7h1.3M710.6 2120.4h1.3M705 2123.5h1.3M706.8 2125.5h1.3M704.6 2123.4h1.3M707.4 2127.5h1.3M707.8 2124.8h1.3M710.3 2119.8h1.3M717.1 2112.9h1.3M714.8 2114.6h1.3M716.4 2117.7h1.3M706.3 2126.6h1.3M706.7 2122.5h1.3M710.9 2118.5h1.3M711.6 2112.6h1.3M704.9 2126.7h1.3M713.7 2117.4h1.3M712.6 2123.1h1.3M707.4 2127h1.3M712 2121.8h1.3M702.2 2128.6h1.3M698.5 2126.5h1.3M710.8 2117.5h1.3M702.7 2120h1.3M710.6 2120.1h1.3M704.5 2124h1.3M711.9 2117.1h1.3M707.9 2121h1.3M719.5 2113.7h1.3M717.8 2115.6h1.3M705.8 2123.8h1.3M710.8 2118.7h1.3M710.6 2121.2h1.3M707.1 2121.8h1.3M704.3 2127.1h1.3M710.4 2122.1h1.3M707.9 2120.7h1.3M707.7 2121.1h1.3M713.7 2114.6h1.3M706.6 2118.7h1.3M703.1 2124.2h1.3M706.6 2124.9h1.3M710.3 2117.8h1.3M707.6 2125.9h1.3M718.2 2113.5h1.3M701.7 2123.9h1.3M714.4 2110.3h1.3M711.6 2117.6h1.3M715 2119.4h1.3M706.9 2120.2h1.3M700.7 2129.9h1.3M708.3 2121.4h1.3M709.3 2121.1h1.3M713.9 2117.2h1.3M709.6 2124.4h1.3M715 2114.7h1.3M706.7 2126.2h1.3M715 2117.3h1.3M708.7 2124.2h1.3M706.7 2121.9h1.3M703.4 2129.5h1.3M715.7 2114.3h1.3M707.2 2122.9h1.3M710.9 2119.9h1.3M712.7 2121.4h1.3M711 2118.6h1.3M716.5 2114.3h1.3M707.6 2120.7h1.3M713.2 2118.5h1.3M717.2 2116.7h1.3M706 2118.9h1.3M712.2 2117.6h1.3M718.2 2113.1h1.3M711.1 2122.4h1.3M696.2 2125.7h1.3M709.9 2120.9h1.3M709.1 2125.3h1.3M704.6 2123.1h1.3M709.9 2113.2h1.3M708.9 2120.1h1.3M703.8 2124.1h1.3M713.8 2115.4h1.3M700.8 2123h1.3M700.8 2121.1h1.3M719.2 2114.7h1.3M715 2115.3h1.3M705.9 2119.9h1.3M698.5 2119.9h1.3M707.8 2124.1h1.3M709.1 2115.2h1.3M707.9 2124.2h1.3M711.1 2118.8h1.3M714.7 2115.1h1.3M715.2 2111.9h1.3M711.8 2115.3h1.3M707 2124.5h1.3M705.7 2120.1h1.3M713.8 2119.9h1.3M696.1 2127.9h1.3M715.4 2117.2h1.3M703.8 2129.1h1.3M707.9 2116.8h1.3M712.5 2114.8h1.3M710.2 2116.4h1.3M709.4 2120.2h1.3M712.8 2118.5h1.3M711.4 2113.2h1.3M703.6 2125h1.3M701.7 2121.7h1.3M712.2 2111.2h1.3M712.6 2114.5h1.3M707.7 2121h1.3M709.1 2112.4h1.3M711.2 2122.5h1.3M712.3 2119.1h1.3M710.3 2118.1h1.3M714.2 2119.9h1.3M698.7 2125.8h1.3M705.6 2115.7h1.3M703.2 2119.2h1.3M717.5 2107.5h1.3M712.3 2116h1.3M706.8 2118.9h1.3M705.2 2123.6h1.3M702.5 2128.5h1.3M715.5 2108.2h1.3M703.8 2130.6h1.3M717.1 2120.5h1.3M712.7 2115.4h1.3M708 2127.3h1.3M708.6 2118.7h1.3M715.6 2113h1.3M703.7 2126.7h1.3M706 2120.5h1.3M705.1 2123.3h1.3M706.5 2116.2h1.3M704.2 2122.3h1.3M711.7 2121.3h1.3M701.2 2124.5h1.3M715.5 2114h1.3M719.3 2117.2h1.3M707.9 2111.5h1.3M709.9 2122.1h1.3M712.8 2118.3h1.3M707.8 2125.1h1.3M708.6 2122.1h1.3M708.2 2115.4h1.3M710.3 2120.8h1.3M716.5 2119.2h1.3M708 2123h1.3M709.1 2120.8h1.3M704.7 2123h1.3M707.8 2119.5h1.3M717.3 2119h1.3M708.4 2123.8h1.3M715.7 2116.9h1.3M714.1 2115.3h1.3M716.1 2113.3h1.3M712.8 2120h1.3M710.9 2118.5h1.3M714.3 2117.3h1.3M707.4 2121.1h1.3M701.7 2127.9h1.3M714.3 2117h1.3M707.6 2118.4h1.3M707.9 2120.1h1.3M716.2 2113.6h1.3M705.9 2119.2h1.3M711.5 2116.5h1.3M708.1 2123.9h1.3M709.5 2117.3h1.3M707.9 2120h1.3M717 2117h1.3M710.2 2124.2h1.3M709.3 2115.3h1.3M710.2 2122h1.3M701.5 2126.2h1.3M710.8 2120.8h1.3M710.5 2117.9h1.3M706.9 2116.4h1.3M704 2127.2h1.3M703.8 2122.4h1.3M696.8 2128.8h1.3M703.8 2125h1.3M713.9 2114.1h1.3M706.8 2123.3h1.3M714.6 2124h1.3M708.4 2120.5h1.3M713.8 2109.9h1.3M700.1 2124.5h1.3M705 2123.2h1.3M709.6 2116.8h1.3M700.9 2126.4h1.3M698.7 2126.5h1.3M707.4 2128.4h1.3M712 2121.4h1.3M711.5 2120.1h1.3M713.3 2116.3h1.3M709.1 2118.9h1.3M709.1 2122.4h1.3M709.7 2115.3h1.3M702.6 2122.2h1.3M707.3 2124.2h1.3M708.1 2124.1h1.3M706.9 2119.9h1.3M706.3 2125.2h1.3M701 2128.1h1.3M710.1 2124.9h1.3M707.9 2123.5h1.3M708.4 2122.7h1.3M702.4 2118.3h1.3M706.8 2127.3h1.3M712.3 2124.1h1.3M710.1 2117.4h1.3M710.8 2123.1h1.3M708.8 2124.1h1.3M708.2 2118.2h1.3M718.3 2110.6h1.3M707.8 2122.1h1.3M708.7 2119.1h1.3M711.6 2122.3h1.3M710.2 2122.3h1.3M710 2111.4h1.3M705.6 2126.8h1.3M710 2119.7h1.3M708.2 2120.5h1.3M706.1 2121.5h1.3M706.4 2128h1.3M711.6 2110.9h1.3M695.3 2133.7h1.3M715.3 2113h1.3M709.8 2122h1.3M712.3 2115.8h1.3M702.1 2127.8h1.3M715.7 2121h1.3M701.2 2128.2h1.3M710.8 2120.3h1.3M710.9 2119.5h1.3M715.6 2117.6h1.3M704.3 2119.7h1.3M709 2125.1h1.3M707.2 2118.2h1.3M706.8 2126.9h1.3M704.7 2125.6h1.3M712.2 2115.2h1.3M700.2 2124.6h1.3M705.3 2122.2h1.3M710 2116.6h1.3M711.1 2120.6h1.3M707.4 2122h1.3M708 2117.1h1.3M710.4 2118.4h1.3M716.2 2113.4h1.3M705.9 2113h1.3M698.9 2125.3h1.3M712.8 2119.2h1.3M712.9 2121.5h1.3M719.3 2117.5h1.3M708.3 2119.8h1.3M710.1 2121.8h1.3M707.5 2121.4h1.3M700.3 2124.3h1.3M706 2118.4h1.3M706.4 2125h1.3M707.6 2122.4h1.3M711.5 2118.6h1.3M720 2115.7h1.3M707.2 2122.1h1.3M709.8 2119.1h1.3M706.9 2123.5h1.3M702.1 2128h1.3M708.2 2116h1.3M714.3 2112.3h1.3M704.3 2123.4h1.3M710.4 2115.6h1.3M702.7 2122.9h1.3M714.5 2116.8h1.3M711 2119.1h1.3M703.9 2124.3h1.3M716.1 2111.2h1.3M714.5 2121h1.3M702.2 2120.3h1.3M707.3 2116.2h1.3M708 2123h1.3M719.8 2114.1h1.3M703 2129h1.3M713.6 2116.4h1.3M708.9 2119.7h1.3M715.6 2121.5h1.3M706.9 2124.6h1.3M708.5 2125.9h1.3M710.5 2117.1h1.3M712.6 2120.9h1.3M707.3 2123.2h1.3M705 2117h1.3M698.8 2125.9h1.3M706 2117.6h1.3M715.5 2114.8h1.3M711.2 2121.3h1.3M709.9 2117.5h1.3M705.3 2126.8h1.3M706.4 2124.1h1.3M709.4 2130.5h1.3M714.2 2119.9h1.3M712 2117.3h1.3M708 2120.4h1.3M710.8 2122.9h1.3M717 2115.7h1.3M705.5 2123.1h1.3M705.1 2117.4h1.3M706.3 2119.7h1.3M717.5 2117.2h1.3M711.1 2121.9h1.3M715.6 2119.2h1.3M707.8 2121h1.3M703.1 2120h1.3M708.4 2112.6h1.3M717.4 2112.2h1.3M710.6 2113.6h1.3M714.1 2116h1.3M710.7 2121.2h1.3M704.4 2124.7h1.3M706.9 2120.3h1.3M713.7 2117.6h1.3M711 2115h1.3M710.5 2117.8h1.3M703.1 2121.7h1.3M713.6 2121.6h1.3M712.1 2124.4h1.3M704.5 2122.7h1.3M710.5 2116.3h1.3M706.7 2117.3h1.3M712.3 2126.5h1.3M708.8 2120h1.3M710 2117.5h1.3M707.9 2119h1.3M704.7 2123.6h1.3M703.8 2123.9h1.3M708.1 2122.8h1.3M715.5 2117.2h1.3M702.7 2124.7h1.3M714.2 2116.1h1.3M706.8 2120.2h1.3M707.4 2122.7h1.3M707.9 2124.9h1.3M709.5 2116.6h1.3M713.5 2115.9h1.3M710 2116.9h1.3M707.6 2121.4h1.3M703.8 2124.5h1.3M712.9 2111.2h1.3M705.6 2117.5h1.3M700.3 2128.5h1.3M707 2125.8h1.3M706.2 2127.1h1.3M711 2121.3h1.3M719 2122.3h1.3M714.2 2115.7h1.3M705.7 2128.6h1.3M713.4 2124.3h1.3M707.8 2115.7h1.3M711.1 2113.5h1.3M708.7 2118h1.3M707.5 2120.9h1.3M715.9 2115.8h1.3M704.3 2124.7h1.3M717.4 2113.5h1.3M715.5 2114.1h1.3M706.1 2121.2h1.3M710.1 2124.1h1.3M712.8 2122.6h1.3M698.3 2136.4h1.3M700.1 2130.9h1.3M700.6 2129.2h1.3M698.6 2131.2h1.3M701.8 2128.6h1.3M692.2 2129.7h1.3M700.8 2128.1h1.3M695.1 2134.5h1.3M703.7 2125.6h1.3M704 2127.3h1.3M696.3 2126.1h1.3M699.1 2129.8h1.3M695.3 2134h1.3M699.7 2129.7h1.3M701 2125.7h1.3M698.8 2132.7h1.3M704.9 2118.5h1.3M696.7 2130.2h1.3M695.3 2134.7h1.3M705.1 2129h1.3M701.2 2127.8h1.3M702.7 2127.7h1.3M703.5 2130.3h1.3M699.2 2131.7h1.3M701.4 2130.2h1.3M698.6 2131.3h1.3M708.3 2129.4h1.3M698.9 2132.1h1.3M697.9 2131h1.3M694 2129.9h1.3M702.6 2131.1h1.3M700.4 2131.8h1.3M697.6 2131.1h1.3M697.2 2129.3h1.3M698.6 2130.8h1.3M702.5 2128.5h1.3M697.9 2135.3h1.3M702.9 2132.4h1.3M699.3 2125.7h1.3M699.8 2133.7h1.3M694.9 2134.2h1.3M694.7 2138.4h1.3M699 2130.8h1.3M698.5 2134.8h1.3M697.9 2132h1.3M705.4 2122.5h1.3M703.6 2128.5h1.3M707.5 2127.9h1.3M702.6 2131.5h1.3M702.6 2124.3h1.3M700.2 2130.5h1.3M699.9 2124.7h1.3M696.9 2128.7h1.3M710.1 2122.2h1.3M698.9 2129h1.3M693.7 2135.2h1.3M700.1 2136.5h1.3M700.1 2130h1.3M701.5 2132.8h1.3M695.3 2137h1.3M698.1 2135.9h1.3M702.7 2122.5h1.3M705 2127.1h1.3M697.7 2131.9h1.3M703.4 2131.6h1.3M699.5 2126.4h1.3M698.1 2133.3h1.3M700.2 2135.6h1.3M693.7 2134.2h1.3M697.6 2135.2h1.3M704.1 2132.3h1.3M700.7 2126.4h1.3M695.7 2130h1.3M694.3 2132.5h1.3M706.7 2130.3h1.3M701.4 2131.5h1.3M697.7 2135.8h1.3M693.1 2133.4h1.3M692.9 2138.2h1.3M699.8 2133.2h1.3M697.8 2130.6h1.3M699.3 2130.2h1.3M697.3 2134.4h1.3M704.9 2129.2h1.3M703.7 2124.1h1.3M693.8 2139h1.3M696.7 2127.9h1.3M694.3 2140.3h1.3M696.9 2138.4h1.3M697.5 2134.5h1.3M692.1 2134.2h1.3M702.4 2131.5h1.3M704.7 2135.1h1.3M692.8 2134.7h1.3M703.3 2122.2h1.3M700.1 2134.4h1.3M704.2 2126.2h1.3M702.7 2127.3h1.3M697 2136.1h1.3M697.7 2127.2h1.3M693.2 2135.9h1.3M702.1 2128.9h1.3M696.7 2133h1.3M698.1 2129.9h1.3M696.7 2133.8h1.3M695.5 2130.6h1.3M696.1 2131.6h1.3M695.5 2133.4h1.3M696.4 2133.7h1.3M697.3 2139.4h1.3M696 2127.9h1.3M698.4 2134.8h1.3M703.3 2130.2h1.3M695.3 2136.4h1.3M695.6 2131.2h1.3M703 2126h1.3M693.5 2137.6h1.3M701.1 2134.6h1.3M703 2131.9h1.3M702.8 2127.7h1.3M698.5 2131.4h1.3M703.4 2125.6h1.3M705.4 2127.2h1.3M702.3 2127.7h1.3M697.1 2132.4h1.3M698.4 2134.2h1.3M699.3 2134.4h1.3M696.3 2132.3h1.3M701.2 2130.9h1.3M705.2 2123.7h1.3M697.4 2134.9h1.3M700.6 2129.6h1.3M700.6 2130.4h1.3M711.8 2127.3h1.3M695.5 2130h1.3M698.5 2130.5h1.3M698.9 2129.1h1.3M693.4 2133.4h1.3M693.9 2128.9h1.3M694.6 2136.3h1.3M696.3 2130.7h1.3M703.3 2129.2h1.3M704.1 2127.7h1.3M698.3 2131.2h1.3M696.3 2133.8h1.3M709.2 2126.6h1.3M696.7 2132.7h1.3M698.5 2130.2h1.3M700.9 2135.8h1.3M703.1 2130.7h1.3M696.9 2132.8h1.3M699.2 2134.5h1.3M700.3 2136h1.3M699.9 2132.1h1.3M699.3 2133.7h1.3M695.8 2130.1h1.3M697.7 2133.1h1.3M694 2133.6h1.3M699.5 2134.9h1.3M697.7 2130.2h1.3M702.8 2126.2h1.3M701.1 2132.2h1.3M695 2133.2h1.3M699.4 2132h1.3M705.4 2123.1h1.3M702 2126.3h1.3M703.5 2123.4h1.3M693.5 2133.1h1.3M697.3 2136h1.3M702.5 2129.8h1.3M699.4 2136.6h1.3M697.6 2133.8h1.3M697.1 2135.4h1.3M699.3 2131.6h1.3M699.2 2128.6h1.3M706.3 2124.8h1.3M698.6 2130.8h1.3M698.6 2132.6h1.3M704.3 2131.3h1.3M701.8 2125.4h1.3M697.7 2129.9h1.3M701.8 2128.7h1.3M699.1 2131h1.3M706.9 2120.7h1.3M743 2120.7h1.3M716.7 2093.3h1.3M733.6 2125.4h1.3M718.3 2109.1h1.3M733.6 2122.9h1.3M751.3 2099.4h1.3M709.3 2103.8h1.3M731.7 2072.1h1.3M699.6 2119.6h1.3M725.1 2093.1h1.3M728.5 2114.2h1.3M726.8 2088.1h1.3M775.5 2069.4h1.3M734.8 2118.1h1.3M720.9 2101.4h1.3M774.2 2066.2h1.3M783 2079.8h1.3M724.1 2086.7h1.3M752 2059.9h1.3M721.3 2089.6h1.3M747 2103.1h1.3M738 2077.2h1.3M769 2060.8h1.3M714.4 2108.2h1.3M767.1 2068.7h1.3M744.5 2071.5h1.3M772.2 2058.7h1.3M761.6 2094.4h1.3M737.8 2077.4h1.3M712 2119.6h1.3M714.2 2105.9h1.3M719.7 2093h1.3M727.2 2087.9h1.3M773.7 2063.7h1.3M730.7 2112.1h1.3M723.9 2116.9h1.3M764.2 2064.7h1.3M718.3 2097.1h1.3M779.5 2062.7h1.3M779.3 2048.1h1.3M763.5 2062.8h1.3M717.3 2116h1.3M732.6 2084.1h1.3M723 2125.2h1.3M715.2 2130.1h1.3M776.5 2064.3h1.3M749.4 2066.6h1.3M759.4 2061.9h1.3M715.2 2125.3h1.3M717.7 2109.8h1.3M719.2 2089.9h1.3M719 2113.2h1.3M705.8 2113.5h1.3M723.6 2094.2h1.3M717.9 2108.9h1.3M703.3 2110h1.3M750.7 2108.6h1.3M746.6 2064.7h1.3M705 2112.2h1.3M773 2062h1.3M756.2 2060h1.3M785.6 2052.5h1.3M704.7 2107.1h1.3M731.2 2073.5h1.3M729.9 2087.9h1.3M725.3 2089.1h1.3M720.4 2084.5h1.3M739.1 2071.4h1.3M701.8 2112.7h1.3M756.3 2063h1.3M763.2 2102.7h1.3M750.7 2063.8h1.3M758.4 2060.7h1.3M744.3 2108.1h1.3M757.8 2061.3h1.3M703.9 2117.6h1.3M716.4 2123.5h1.3M759.7 2052.6h1.3M729.7 2077.7h1.3M749.1 2102.8h1.3M774.6 2068.2h1.3M704.3 2122h1.3M723.4 2096.5h1.3M716.5 2098h1.3M768.6 2066.8h1.3M773.9 2062.6h1.3M775.8 2066.8h1.3M730.8 2076.6h1.3M771.8 2068.7h1.3M765.8 2064.1h1.3M716.1 2111h1.3M749.8 2106.2h1.3M721.1 2100.3h1.3M777.6 2064.4h1.3M718.5 2106h1.3M726 2091.7h1.3M780.4 2067.4h1.3M738.7 2070.1h1.3M725.4 2090.3h1.3M704.8 2105.2h1.3M739.9 2116.2h1.3M727.5 2077.9h1.3M720.4 2113.5h1.3M721.6 2096h1.3M721.3 2116.5h1.3M736.2 2114.1h1.3M721.3 2097.9h1.3M754.7 2098.7h1.3M708 2124h1.3M713.1 2117h1.3M721.1 2083.2h1.3M739.2 2056.7h1.3M714.5 2105.9h1.3M738.4 2077.1h1.3M758.7 2043.2h1.3M729.7 2085.7h1.3M718.9 2098.5h1.3M740.5 2118.4h1.3M725.8 2092.5h1.3M745.5 2108.3h1.3M768.1 2070.6h1.3M728.8 2087.9h1.3M720.9 2116.2h1.3M709.8 2102.2h1.3M713.8 2114.2h1.3M723.6 2090h1.3M711.9 2109h1.3M755.2 2062.1h1.3M764.4 2066.6h1.3M743.3 2114h1.3M738.9 2073.8h1.3M754.3 2100.7h1.3M721.3 2098.3h1.3M722.5 2124.7h1.3M718.5 2105.9h1.3M775.7 2070.8h1.3M740.9 2075.2h1.3M728 2090.7h1.3M778.5 2057h1.3M726.1 2091.9h1.3M738.3 2072.8h1.3M747.7 2065.9h1.3M738.3 2078h1.3M693.1 2140.9h1.3M708.1 2109.9h1.3M713.4 2115.7h1.3M730.2 2082.9h1.3M780.9 2059h1.3M716.2 2102.8h1.3M774.7 2052.3h1.3M726.9 2084.6h1.3M777.4 2060.5h1.3M748.1 2104.7h1.3M710.5 2103.2h1.3M720.9 2122.8h1.3M710.2 2106.6h1.3M714.8 2096.9h1.3M713.5 2109.7h1.3M718.7 2088.6h1.3M730 2114.9h1.3M721.7 2115.1h1.3M759.7 2099.9h1.3M756 2101.2h1.3M707.2 2112.7h1.3M716.2 2096.2h1.3M725.8 2127.8h1.3M721.9 2089.5h1.3M724 2094.8h1.3M753.6 2060.5h1.3M708.2 2109.7h1.3M709.5 2102.7h1.3M734.9 2110.3h1.3M711.4 2120.4h1.3M747.8 2068.4h1.3M729.7 2085.5h1.3M730.2 2084.2h1.3M761.8 2055.5h1.3M715.3 2113.2h1.3M758.2 2059.4h1.3M726.6 2114.8h1.3M718.4 2103.2h1.3M770.8 2064.6h1.3M773.2 2070.6h1.3M770.6 2069.3h1.3M764.9 2065.1h1.3M769.8 2067h1.3M771 2069.6h1.3M770.5 2069.1h1.3M772.6 2068.7h1.3M764.9 2065.2h1.3M768.2 2068.3h1.3M771.8 2064.7h1.3M770.7 2062.8h1.3M768.8 2074.2h1.3M772.8 2066.9h1.3M771.3 2073.4h1.3M772.7 2065.7h1.3M771.5 2066.9h1.3M767.9 2066.4h1.3M775.2 2062.9h1.3M771.5 2070.7h1.3M770.2 2064.6h1.3M771.6 2074.4h1.3M775.2 2062.1h1.3M769.6 2067.7h1.3M769.5 2067.9h1.3M767.3 2065.8h1.3M771.2 2067.1h1.3M766.7 2067.5h1.3M775.2 2067h1.3M767.8 2064.9h1.3M769 2068.7h1.3M773.7 2068.3h1.3M776.9 2070.1h1.3M770 2064h1.3M769 2063.1h1.3M766.9 2070.1h1.3M767.3 2070.6h1.3M769 2065.4h1.3M768.9 2067h1.3M775.9 2064.7h1.3M775 2066.3h1.3M769.2 2065h1.3M773.6 2066.6h1.3M768.6 2064.3h1.3M776.7 2066.6h1.3M771.2 2062.1h1.3M773.1 2067.1h1.3M768.6 2066.2h1.3M771.1 2072.8h1.3M771.4 2068h1.3M768 2067h1.3M774 2062.5h1.3M773.8 2065.8h1.3M770.7 2067h1.3M772 2070.9h1.3M769.8 2075.9h1.3M781.1 2064.9h1.3M767.7 2064.9h1.3M766.1 2063h1.3M769.6 2065.1h1.3M770.5 2068.8h1.3M779 2072h1.3M770.4 2067.4h1.3M775.3 2061.7h1.3M773.1 2063.8h1.3M775.6 2065h1.3M766.5 2068.3h1.3M770.4 2071.1h1.3M772.1 2065.3h1.3M772.2 2064h1.3M771.1 2071.9h1.3M769.8 2064.7h1.3M765.5 2066.3h1.3M769.8 2069.2h1.3M766.3 2064.6h1.3M767.6 2070.8h1.3M778.9 2064.3h1.3M769.1 2069.3h1.3M775.2 2073.1h1.3M769.8 2070h1.3M769.4 2066.2h1.3M770.2 2069.3h1.3M775.5 2065.1h1.3M769.7 2067.4h1.3M773.9 2069.1h1.3M769.1 2068.5h1.3M772.2 2068.1h1.3M771.7 2064.6h1.3M763.7 2065.5h1.3M769.4 2068.5h1.3M770.8 2069.9h1.3M771.7 2063.7h1.3M769.8 2068.9h1.3M769.9 2062.9h1.3M771.8 2066.3h1.3M773 2068.3h1.3M772.3 2065.9h1.3M773.8 2072h1.3M769.5 2068.4h1.3M768.2 2067.7h1.3M769.7 2068.4h1.3M768.2 2067.8h1.3M772.4 2066.4h1.3M769.5 2066.3h1.3M770.6 2071h1.3M762.5 2050.5h1.3M774.2 2052.4h1.3M759.2 2059.8h1.3M764.9 2062.3h1.3M767.8 2052.2h1.3M750.5 2053.1h1.3M763.4 2060.5h1.3M756.8 2056.4h1.3M765.8 2048h1.3M752.6 2053h1.3M755 2053.6h1.3M769.2 2064.4h1.3M768.7 2073.5h1.3M770.1 2056.9h1.3M744.7 2057.5h1.3M771.7 2053.4h1.3M778 2058.6h1.3M768 2055.7h1.3M750.4 2057.8h1.3M763.1 2044.9h1.3M747.2 2055h1.3M766.8 2042.3h1.3M762.9 2060.8h1.3M754.1 2060.8h1.3M762.6 2046.8h1.3M767 2055.9h1.3M763.4 2060.1h1.3M752.9 2048.6h1.3M758.4 2063.4h1.3M766.1 2038.5h1.3M770.5 2082.7h1.3M747 2061.2h1.3M761.1 2061.1h1.3M769.7 2053.5h1.3M758.5 2060.5h1.3M764.6 2052h1.3M748.3 2056.3h1.3M765 2060.2h1.3M756.9 2060.5h1.3M781.6 2068.8h1.3M769.2 2059h1.3M763.2 2053.9h1.3M766.8 2066h1.3M777.7 2025.6h1.3M749.7 2047.9h1.3M765.3 2054.8h1.3M761.6 2054.8h1.3M755 2045.2h1.3M770.7 2065.6h1.3M763.7 2062.8h1.3M752.2 2055.8h1.3M765.2 2045.2h1.3M762.6 2065.3h1.3M765.6 2060.9h1.3M767.3 2059.3h1.3M768.3 2061.3h1.3M762.2 2054.5h1.3M760 2061h1.3M769.1 2037.6h1.3M762.2 2054h1.3M778.9 2052.4h1.3M762.7 2044.4h1.3M774.2 2046h1.3M751.6 2061.8h1.3M765.6 2066.5h1.3M756.3 2063.5h1.3M753.9 2043.3h1.3M773.5 2060.2h1.3M762.5 2057.6h1.3M748.2 2060h1.3M788.3 2013.6h1.3M768 2043.6h1.3M750 2054.9h1.3M765.4 2061.3h1.3M763.9 2043.4h1.3M743.9 2062.4h1.3M780.3 2028.1h1.3M749.9 2059.3h1.3M767 2045.7h1.3M792.3 1997.2h1.3M797.3 2014.5h1.3M770.7 2021.5h1.3M746.7 2059.8h1.3M760.4 2059.7h1.3M816.5 2006.4h1.3M799.2 1957.9h1.3M776.4 2000.1h1.3M745.5 2067.6h1.3M796.6 2004.4h1.3M756.4 2047.8h1.3M755.9 2046.7h1.3M740.4 2048h1.3M750.1 2063.5h1.3M748.7 1993.5h1.3M753 2052.4h1.3M754.1 2036.2h1.3M755.1 2041.2h1.3M763.9 2032h1.3M750.5 2064.1h1.3M743 2069.2h1.3M803.9 2019.6h1.3M761.4 2053.4h1.3M773.7 2017.5h1.3M756.1 2050.3h1.3M810.7 2018.3h1.3M764.5 2036.3h1.3M766.9 2011h1.3M779.8 1978.1h1.3M765.9 2062.9h1.3M759.4 2047.4h1.3M732.8 2064.8h1.3M774.8 2015.7h1.3M757.3 2059.1h1.3M787.3 2004.8h1.3M754.6 2052.3h1.3M761.6 2042.5h1.3M755.2 2056.1h1.3M764.9 2047.6h1.3M801.9 2005.1h1.3M787.3 2006.8h1.3M770.1 2033.7h1.3M792.7 2015.3h1.3M767.1 2040h1.3M738.1 2039.8h1.3M747.8 2061.9h1.3M808.2 2031.7h1.3M769.8 2047h1.3M791.2 1990.7h1.3M761.2 2052.8h1.3M775.2 2044.2h1.3M766.8 2053h1.3M751.1 2041.7h1.3M783.6 2039.2h1.3M784.4 2036.2h1.3M837.6 2015.2h1.3M797 2008.9h1.3M777.4 1996.5h1.3M784.2 1986.5h1.3M781.7 2025.2h1.3M801.5 1999.5h1.3M748.9 2054.2h1.3M807.7 2005.5h1.3M771.8 2000h1.3M813.7 2013.2h1.3M732.5 2046h1.3M758.8 2052h1.3M795.1 1990.9h1.3M771.4 2036.8h1.3M782 2029.6h1.3M766.2 2033.7h1.3M769.1 2047.3h1.3M760.9 2042.2h1.3M783 2041.9h1.3M811.6 1998.8h1.3M761.1 1995.7h1.3M820.3 1957.5h1.3M791.3 1987.3h1.3M740 2038.2h1.3M759.8 2054.3h1.3M761.8 2049h1.3M827.8 1971.6h1.3M789.9 2009.6h1.3M760.3 2039.7h1.3M761.4 2055.9h1.3M761.1 2057.8h1.3M749.7 2049.3h1.3M738.6 2043.6h1.3M769.8 2037.9h1.3M817 1999.1h1.3M758.2 2054.3h1.3M750.6 2057.1h1.3M742.9 2056.5h1.3M769.3 2033.6h1.3M770.1 2052.3h1.3M761.1 2059.7h1.3M796.5 1989.4h1.3M744.3 2030.2h1.3M776.5 2014h1.3M763.9 2023.6h1.3M800.2 2003.3h1.3M790 2021.9h1.3M743.6 2068.2h1.3M746.1 2063.1h1.3M739.8 2062.7h1.3M808.2 2024.6h1.3M741.4 2071.4h1.3M764.8 2049.7h1.3M762.3 2049.4h1.3M754.2 2048.4h1.3M816 2008.6h1.3M772.2 2005.5h1.3M787.5 2040.1h1.3M768.6 1975.7h1.3M807.3 1993.9h1.3M762.8 2042.1h1.3M793.3 2010.1h1.3M776.9 2011.7h1.3M759.3 2035.1h1.3M749.2 2041.9h1.3M812.6 1981.5h1.3M752 2048.6h1.3M811.3 1967.3h1.3M760.9 2062.3h1.3M807.1 1997.5h1.3M777.5 2018h1.3M777.4 2016.2h1.3M767.5 2010.5h1.3M751.3 2059.3h1.3M734.1 2066.8h1.3M783 2017.3h1.3M781.8 2015.4h1.3M744.2 2042.4h1.3M790.1 1982.3h1.3M786.9 2009.5h1.3M768.4 2022.2h1.3M760.2 2040.1h1.3M784.9 1990.2h1.3M745.6 2031.6h1.3M784.1 1997.6h1.3M794.2 2008.8h1.3M767 2040.7h1.3M774.4 2043h1.3M765.7 2028h1.3M766.3 2036.1h1.3M771.9 2014.6h1.3M829.6 1993.3h1.3M761.9 2059.7h1.3M807.9 2000.6h1.3M805.6 1991.3h1.3M778.2 2017.7h1.3M787.9 1991.9h1.3M782.5 2046.6h1.3M793.8 2030.5h1.3M768 2037.8h1.3M762.5 2046.9h1.3M757.2 2050.6h1.3M822.3 2004.8h1.3M765.6 2051.4h1.3M764.5 1997.9h1.3M827.8 1987h1.3M761.8 2044.5h1.3M759.8 2021.2h1.3M767.2 2007.2h1.3M757 2042.4h1.3M791.6 2024.3h1.3M782.8 2019.9h1.3M763.5 2024.1h1.3M749.6 2050.1h1.3M796.1 2002.5h1.3M751.4 2046.8h1.3M806.6 2000.5h1.3M740.9 2052.8h1.3M756.3 1995.4h1.3M762.3 2031.3h1.3M734.8 1953h1.3M835.2 1958.5h1.3M839.8 1956.5h1.3M841.8 2022.5h1.3M844.8 2033.5h1.3M823.8 2063h1.3M853.8 2062.5h1.3M814.8 2076.5h1.3M813.8 2086.5h1.3M880.8 2075h1.3M843.8 2120.5h1.3" fill="none" stroke="#000" stroke-width="1.3"/>
<path d="M754.5 2063.4 755.4 2063.2 756.4 2063 757.4 2063 758.4 2063 759.4 2063.1 760.3 2063.4 760.9 2063.6 761.7 2063.9 762.4 2064.2 762.9 2064.5 763.5 2064.9 764.3 2065.4 764.9 2065.9 765.4 2066.3 765.9 2066.8 766.4 2067.3 766.9 2067.8 767.4 2068.4 767.8 2068.9 768.1 2069.4 768.5 2069.9 768.9 2070.6 769.4 2071.4 769.6 2071.9 769.9 2072.5 770.3 2073.4 770.5 2073.9 770.7 2074.9 770.9 2075.7 771 2076.4 771.1 2077.4 771 2078.4 770.9 2079.4 770.8 2079.9 770.6 2080.9 770.4 2081.4 769.9 2082.4 769.7 2082.9 769.4 2083.4 768.9 2084.1 768.4 2084.8 768 2085.4 767.5 2085.9 767.1 2086.4 766.7 2086.9 766.2 2087.4 765.7 2087.9 765.2 2088.4 764.7 2088.9 764.2 2089.4 763.7 2089.9 763.3 2090.4 762.8 2090.9 762.3 2091.4 761.8 2091.9 761.3 2092.4 760.8 2092.9 760.3 2093.4 759.7 2093.9 759.2 2094.4 758.7 2094.9 758.1 2095.4 757.6 2095.9 757 2096.4 756.4 2096.9 755.9 2097.4 755.4 2097.8 754.9 2098.3 754.4 2098.7 753.9 2099.2 753.4 2099.6 752.9 2100.1 752.4 2100.5 751.9 2100.9 751.3 2101.4 750.7 2101.9 750 2102.4 749.4 2102.9 748.9 2103.3 748.4 2103.7 747.9 2104.1 747.4 2104.4 746.8 2104.9 746.2 2105.4 745.5 2105.9 744.9 2106.4 744.4 2106.7 743.9 2107.1 743.4 2107.5 742.8 2107.9 742.1 2108.4 741.4 2108.9 740.9 2109.2 740.4 2109.5 739.8 2109.9 739 2110.4 738.4 2110.7 737.9 2111 737.2 2111.4 736.4 2111.9 735.9 2112.2 735.4 2112.4 734.5 2112.9 733.9 2113.2 733.4 2113.5 732.6 2113.9 731.9 2114.2 731.4 2114.4 730.4 2114.8 729.9 2115 728.9 2115.4 728.4 2115.6 727.4 2115.9 726.9 2116 725.9 2116.2 725 2116.4 724.4 2116.5 723.4 2116.6 722.4 2116.7 721.4 2116.7 720.4 2116.6 719.7 2116.4 718.9 2116.1 718.4 2115.8 717.9 2115.4 717.4 2114.9 716.9 2114.1 716.7 2113.4 716.5 2112.4 716.5 2111.4 716.5 2110.4 716.7 2109.4 716.9 2108.5 717.1 2107.9 717.4 2107 717.6 2106.4 717.9 2105.7 718.3 2104.9 718.5 2104.4 718.9 2103.6 719.2 2102.9 719.5 2102.4 719.9 2101.7 720.3 2100.9 720.6 2100.4 720.9 2099.9 721.4 2099 721.8 2098.4 722.1 2097.9 722.4 2097.4 722.9 2096.6 723.3 2095.9 723.6 2095.4 724 2094.9 724.4 2094.3 724.9 2093.5 725.4 2092.9 725.7 2092.4 726.1 2091.9 726.5 2091.4 726.9 2090.9 727.4 2090.2 727.9 2089.6 728.4 2088.9 728.8 2088.4 729.2 2087.9 729.6 2087.4 729.9 2086.9 730.4 2086.3 730.9 2085.7 731.4 2085.1 731.9 2084.5 732.4 2084 732.9 2083.4 733.3 2082.9 733.7 2082.4 734.1 2081.9 734.6 2081.4 735 2080.9 735.4 2080.4 735.9 2079.9 736.4 2079.3 736.9 2078.8 737.4 2078.2 737.9 2077.7 738.4 2077.2 738.9 2076.6 739.4 2076.1 739.9 2075.6 740.4 2075.1 740.9 2074.6 741.4 2074.1 741.9 2073.5 742.4 2073 742.9 2072.5 743.4 2071.9 743.9 2071.4 744.4 2070.9 744.9 2070.4 745.4 2069.9 745.9 2069.5 746.4 2069 746.9 2068.5 747.4 2068 747.9 2067.6 748.4 2067.1 748.9 2066.7 749.4 2066.3 749.9 2065.9 750.6 2065.4 751.3 2064.9 751.9 2064.5 752.4 2064.3 753.2 2063.9 753.9 2063.6 754.5 2063.4 M755.8 2065.4 756.4 2065.3 757.4 2065.2 758.4 2065.2 759.4 2065.3 759.9 2065.4 760.9 2065.7 761.4 2065.9 762.4 2066.4 762.9 2066.7 763.4 2067 763.9 2067.4 764.4 2067.9 764.9 2068.4 765.4 2068.9 765.9 2069.5 766.4 2070.2 766.8 2070.9 767.1 2071.4 767.4 2071.9 767.8 2072.9 768 2073.4 768.3 2074.4 768.5 2074.9 768.6 2075.9 768.6 2076.9 768.6 2077.9 768.4 2078.9 768.3 2079.4 767.9 2080.4 767.7 2080.9 767.4 2081.6 766.9 2082.4 766.6 2082.9 766.2 2083.4 765.8 2083.9 765.4 2084.4 764.9 2085 764.4 2085.6 763.9 2086.1 763.4 2086.6 762.9 2087.1 762.4 2087.6 761.9 2088.1 761.4 2088.6 760.9 2089.1 760.4 2089.6 759.9 2090.1 759.4 2090.6 758.9 2091.1 758.4 2091.6 757.9 2092 757.4 2092.5 756.9 2092.9 756.4 2093.4 755.9 2093.9 755.3 2094.4 754.8 2094.9 754.2 2095.4 753.6 2095.9 753 2096.4 752.4 2096.9 751.9 2097.4 751.4 2097.8 750.9 2098.2 750.4 2098.6 749.9 2099.1 749.4 2099.5 748.9 2099.9 748.2 2100.4 747.6 2100.9 746.9 2101.4 746.4 2101.8 745.9 2102.1 745.4 2102.5 744.8 2102.9 744.1 2103.4 743.4 2103.9 742.9 2104.2 742.4 2104.6 741.9 2104.9 741.1 2105.4 740.4 2105.8 739.9 2106.1 739.4 2106.4 738.5 2106.9 737.9 2107.3 737.4 2107.5 736.6 2107.9 735.9 2108.2 735.4 2108.5 734.4 2108.9 733.9 2109.1 733.1 2109.4 732.4 2109.7 731.8 2109.9 730.9 2110.2 730.2 2110.4 729.4 2110.6 728.4 2110.7 727.4 2110.8 726.4 2110.7 725.4 2110.5 724.9 2110.3 724 2109.9 723.4 2109.5 722.9 2108.9 722.6 2108.4 722.4 2107.4 722.4 2106.9 722.4 2106.1 722.5 2105.4 722.7 2104.4 722.9 2103.9 723.2 2102.9 723.4 2102.4 723.8 2101.4 724 2100.9 724.4 2100.1 724.7 2099.4 725 2098.9 725.4 2098 725.7 2097.4 726 2096.9 726.4 2096.1 726.8 2095.4 727.1 2094.9 727.4 2094.4 727.9 2093.7 728.4 2092.9 728.8 2092.4 729.1 2091.9 729.5 2091.4 729.9 2090.8 730.4 2090.1 730.9 2089.4 731.3 2088.9 731.6 2088.4 732 2087.9 732.4 2087.4 732.9 2086.8 733.4 2086.2 733.9 2085.6 734.4 2085 734.9 2084.4 735.3 2083.9 735.7 2083.4 736.2 2082.9 736.6 2082.4 737 2081.9 737.4 2081.4 737.9 2080.8 738.4 2080.3 738.9 2079.7 739.4 2079.2 739.9 2078.6 740.4 2078.1 740.9 2077.6 741.4 2077.1 741.9 2076.6 742.4 2076 742.9 2075.5 743.4 2075 743.9 2074.5 744.4 2074 744.9 2073.4 745.4 2072.9 745.9 2072.4 746.4 2071.9 746.9 2071.4 747.4 2070.9 747.9 2070.4 748.4 2069.9 748.9 2069.5 749.4 2069 749.9 2068.6 750.4 2068.2 750.9 2067.8 751.5 2067.4 752.2 2066.9 752.9 2066.5 753.4 2066.3 754.2 2065.9 754.9 2065.6 755.8 2065.4 M755.7 2066.9 756.4 2066.7 757.4 2066.6 758.4 2066.6 759.4 2066.7 760.2 2066.9 760.9 2067.1 761.5 2067.4 762.4 2067.9 762.9 2068.2 763.4 2068.6 763.9 2069.1 764.4 2069.7 764.9 2070.3 765.3 2070.9 765.6 2071.4 765.9 2072 766.3 2072.9 766.5 2073.4 766.8 2074.4 766.9 2074.9 767 2075.9 767 2076.9 766.9 2077.9 766.8 2078.4 766.5 2079.4 766.3 2079.9 765.9 2080.8 765.6 2081.4 765.3 2081.9 764.9 2082.4 764.4 2083.1 763.9 2083.7 763.4 2084.3 762.9 2084.8 762.4 2085.4 761.9 2085.9 761.4 2086.3 760.9 2086.8 760.4 2087.3 759.9 2087.7 759.4 2088.2 758.9 2088.7 758.4 2089.2 757.9 2089.7 757.4 2090.2 756.9 2090.7 756.4 2091.2 755.9 2091.7 755.4 2092.1 754.9 2092.6 754.4 2093 753.9 2093.5 753.4 2093.9 752.8 2094.4 752.2 2094.9 751.6 2095.4 751 2095.9 750.4 2096.4 749.9 2096.8 749.4 2097.3 748.9 2097.7 748.4 2098.1 747.9 2098.5 747.3 2098.9 746.6 2099.4 745.9 2099.9 745.4 2100.2 744.9 2100.6 744.4 2100.9 743.6 2101.4 742.9 2101.9 742.4 2102.2 741.9 2102.5 741.2 2102.9 740.4 2103.4 739.9 2103.7 739.4 2103.9 738.4 2104.4 737.9 2104.7 737.4 2104.9 736.4 2105.3 735.9 2105.5 734.9 2105.9 734.4 2106.1 733.4 2106.4 732.9 2106.5 731.9 2106.7 730.9 2106.8 729.9 2106.8 728.9 2106.6 728.1 2106.4 727.4 2106 726.9 2105.5 726.6 2104.9 726.4 2104.4 726.3 2103.4 726.4 2102.4 726.5 2101.9 726.7 2100.9 726.9 2100.4 727.2 2099.4 727.4 2098.9 727.8 2097.9 728 2097.4 728.4 2096.5 728.7 2095.9 728.9 2095.4 729.4 2094.6 729.8 2093.9 730.1 2093.4 730.4 2092.9 730.9 2092.2 731.4 2091.4 731.7 2090.9 732.1 2090.4 732.4 2089.9 732.9 2089.2 733.4 2088.6 733.9 2087.9 734.3 2087.4 734.7 2086.9 735.1 2086.4 735.5 2085.9 735.9 2085.4 736.4 2084.9 736.9 2084.2 737.4 2083.6 737.9 2083 738.4 2082.4 738.8 2081.9 739.2 2081.4 739.7 2080.9 740.1 2080.4 740.5 2079.9 741 2079.4 741.5 2078.9 741.9 2078.4 742.4 2077.9 742.9 2077.4 743.4 2076.9 743.9 2076.4 744.4 2075.9 744.9 2075.4 745.4 2074.9 745.9 2074.4 746.4 2073.9 746.9 2073.3 747.4 2072.8 747.9 2072.3 748.4 2071.8 748.9 2071.3 749.4 2070.8 749.9 2070.3 750.4 2069.9 751 2069.4 751.7 2068.9 752.4 2068.4 752.9 2068.1 753.4 2067.8 754.3 2067.4 754.9 2067.2 755.7 2066.9 M756.5 2067.9 757.4 2067.8 758.4 2067.7 759.4 2067.9 759.9 2068 760.9 2068.3 761.4 2068.5 762 2068.9 762.7 2069.4 763.2 2069.9 763.6 2070.4 764 2070.9 764.4 2071.6 764.9 2072.4 765.1 2072.9 765.4 2073.9 765.5 2074.4 765.7 2075.4 765.8 2076.4 765.7 2077.4 765.4 2078.4 765.3 2078.9 764.9 2079.8 764.6 2080.4 764.3 2080.9 763.9 2081.6 763.4 2082.3 762.9 2082.9 762.5 2083.4 762.1 2083.9 761.6 2084.4 761 2084.9 760.5 2085.4 759.9 2085.9 759.4 2086.4 758.9 2086.8 758.4 2087.3 757.9 2087.8 757.4 2088.3 756.9 2088.8 756.4 2089.4 755.9 2089.9 755.4 2090.4 754.9 2090.8 754.4 2091.3 753.9 2091.8 753.4 2092.2 752.9 2092.6 752.4 2093 751.9 2093.4 751.3 2093.9 750.7 2094.4 750.1 2094.9 749.5 2095.4 748.9 2095.9 748.4 2096.4 747.9 2096.8 747.4 2097.1 746.9 2097.5 746.3 2097.9 745.5 2098.4 744.9 2098.8 744.4 2099.1 743.8 2099.4 743 2099.9 742.4 2100.2 741.9 2100.5 741.2 2100.9 740.4 2101.4 739.9 2101.6 739.3 2101.9 738.4 2102.3 737.9 2102.4 736.9 2102.8 736.4 2102.9 735.4 2103.2 734.9 2103.4 733.9 2103.6 732.9 2103.8 731.9 2103.7 731 2103.4 730.4 2103.1 729.9 2102.6 729.5 2101.9 729.4 2101.3 729.4 2100.6 729.5 2099.9 729.7 2098.9 729.9 2097.9 730 2097.4 730.4 2096.4 730.6 2095.9 730.9 2095.1 731.2 2094.4 731.5 2093.9 731.9 2093.2 732.4 2092.4 732.7 2091.9 733 2091.4 733.4 2090.7 733.9 2090 734.3 2089.4 734.7 2088.9 735.1 2088.4 735.4 2087.9 735.9 2087.3 736.4 2086.7 736.9 2086.1 737.4 2085.5 737.8 2084.9 738.2 2084.4 738.6 2083.9 739 2083.4 739.4 2082.9 739.9 2082.3 740.4 2081.7 740.9 2081.1 741.4 2080.6 741.9 2080 742.4 2079.5 742.9 2078.9 743.4 2078.4 743.9 2077.9 744.4 2077.4 744.9 2076.9 745.4 2076.4 745.9 2075.9 746.4 2075.4 746.9 2074.9 747.4 2074.4 747.8 2073.9 748.3 2073.4 748.8 2072.9 749.3 2072.4 749.8 2071.9 750.3 2071.4 750.9 2070.9 751.4 2070.5 751.9 2070.1 752.4 2069.7 752.9 2069.4 753.8 2068.9 754.4 2068.6 754.9 2068.4 755.9 2068 756.5 2067.9 M756.7 2068.9 757.4 2068.8 758.4 2068.8 759.4 2068.9 759.9 2069 760.9 2069.4 761.4 2069.7 761.9 2070 762.4 2070.5 762.9 2071.1 763.4 2071.8 763.7 2072.4 763.9 2072.9 764.3 2073.9 764.4 2074.4 764.6 2075.4 764.6 2076.4 764.5 2077.4 764.4 2077.9 764 2078.9 763.8 2079.4 763.4 2080.2 763 2080.9 762.6 2081.4 762.3 2081.9 761.9 2082.4 761.4 2083 760.9 2083.5 760.4 2084 759.9 2084.4 759.3 2084.9 758.8 2085.4 758.2 2085.9 757.7 2086.4 757.2 2086.9 756.7 2087.4 756.2 2087.9 755.8 2088.4 755.3 2088.9 754.8 2089.4 754.3 2089.9 753.8 2090.4 753.2 2090.9 752.6 2091.4 751.9 2091.9 751.4 2092.3 750.9 2092.7 750.4 2093.1 749.9 2093.5 749.4 2094 748.9 2094.4 748.3 2094.9 747.7 2095.4 747.1 2095.9 746.4 2096.4 745.9 2096.7 745.4 2097 744.7 2097.4 743.9 2097.8 743.4 2098.1 742.7 2098.4 741.9 2098.8 741.4 2099 740.5 2099.4 739.9 2099.7 739.3 2099.9 738.4 2100.2 737.6 2100.4 736.9 2100.6 735.9 2100.7 734.9 2100.9 733.9 2100.9 732.9 2100.5 732.4 2100 732.1 2099.4 732 2098.4 732.1 2097.4 732.3 2096.4 732.4 2095.8 732.7 2094.9 732.9 2094.3 733.3 2093.4 733.6 2092.9 733.9 2092.3 734.4 2091.4 734.7 2090.9 735.1 2090.4 735.4 2089.9 735.9 2089.2 736.4 2088.5 736.8 2087.9 737.2 2087.4 737.6 2086.9 738 2086.4 738.4 2085.9 738.9 2085.2 739.4 2084.6 739.9 2083.9 740.3 2083.4 740.7 2082.9 741.1 2082.4 741.5 2081.9 741.9 2081.4 742.4 2080.9 742.9 2080.3 743.4 2079.7 743.9 2079.2 744.4 2078.7 744.9 2078.2 745.4 2077.6 745.9 2077.1 746.4 2076.6 746.9 2076.1 747.4 2075.6 747.9 2075.1 748.4 2074.6 748.9 2074.1 749.4 2073.6 749.9 2073.1 750.4 2072.6 750.9 2072.1 751.4 2071.7 751.9 2071.2 752.4 2070.9 753.1 2070.4 753.9 2069.9 754.4 2069.7 755 2069.4 755.9 2069.1 756.7 2068.9 M756.6 2069.9 757.4 2069.8 758.4 2069.7 759.4 2069.9 759.9 2070 760.8 2070.4 761.4 2070.9 761.9 2071.4 762.3 2071.9 762.6 2072.4 762.9 2073 763.2 2073.9 763.4 2074.6 763.5 2075.4 763.5 2076.4 763.4 2077.3 763.3 2077.9 762.9 2078.8 762.6 2079.4 762.3 2079.9 761.9 2080.6 761.4 2081.3 760.9 2081.9 760.5 2082.4 760 2082.9 759.5 2083.4 758.9 2083.9 758.4 2084.3 757.9 2084.8 757.4 2085.2 756.9 2085.7 756.4 2086.3 755.9 2086.8 755.4 2087.3 754.9 2087.9 754.4 2088.4 753.9 2088.9 753.4 2089.3 752.9 2089.8 752.4 2090.2 751.9 2090.6 751.4 2091 750.8 2091.4 750.2 2091.9 749.6 2092.4 749 2092.9 748.4 2093.4 747.9 2093.8 747.4 2094.2 746.9 2094.6 746.4 2095 745.8 2095.4 744.9 2095.9 744.4 2096.1 743.9 2096.4 742.9 2096.8 742.4 2097 741.4 2097.4 740.9 2097.5 739.9 2097.8 739.4 2098 738.4 2098.1 737.4 2098.2 736.4 2098.1 735.6 2097.9 734.9 2097.4 734.6 2096.9 734.4 2095.9 734.5 2094.9 734.7 2093.9 734.9 2093.4 735.4 2092.4 735.6 2091.9 735.9 2091.4 736.4 2090.5 736.8 2089.9 737.1 2089.4 737.5 2088.9 737.9 2088.3 738.4 2087.6 738.9 2086.9 739.3 2086.4 739.6 2085.9 740 2085.4 740.4 2084.8 740.9 2084.1 741.4 2083.5 741.9 2082.9 742.3 2082.4 742.7 2081.9 743.1 2081.4 743.5 2080.9 744 2080.4 744.4 2079.9 744.9 2079.4 745.4 2078.8 745.9 2078.3 746.4 2077.8 746.9 2077.3 747.4 2076.8 747.9 2076.3 748.4 2075.8 748.9 2075.3 749.4 2074.8 749.9 2074.2 750.4 2073.7 750.9 2073.2 751.4 2072.8 751.9 2072.4 752.5 2071.9 753.2 2071.4 753.9 2071 754.4 2070.7 755 2070.4 755.9 2070.1 756.6 2069.9 M756.4 2070.9 756.9 2070.8 757.9 2070.7 758.9 2070.7 759.5 2070.9 760.4 2071.3 760.9 2071.7 761.4 2072.3 761.8 2072.9 762 2073.4 762.3 2074.4 762.4 2074.9 762.5 2075.9 762.4 2076.9 762.3 2077.4 761.9 2078.4 761.7 2078.9 761.4 2079.5 760.9 2080.3 760.4 2080.9 760 2081.4 759.6 2081.9 759.1 2082.4 758.6 2082.9 758 2083.4 757.4 2083.9 756.9 2084.4 756.4 2084.9 755.9 2085.4 755.5 2085.9 755 2086.4 754.5 2086.9 754 2087.4 753.5 2087.9 753 2088.4 752.4 2088.9 751.9 2089.3 751.4 2089.7 750.9 2090 750.4 2090.4 749.7 2090.9 749.1 2091.4 748.5 2091.9 747.9 2092.4 747.4 2092.8 746.9 2093.2 746.4 2093.5 745.9 2093.9 745 2094.4 744.4 2094.7 743.9 2094.9 742.9 2095.3 742.4 2095.5 741.4 2095.7 740.5 2095.9 739.9 2096 738.9 2095.9 738.4 2095.9 737.4 2095.4 736.9 2094.9 736.8 2094.4 736.8 2093.4 736.9 2092.9 737.2 2091.9 737.5 2091.4 737.9 2090.6 738.3 2089.9 738.6 2089.4 738.9 2088.9 739.4 2088.1 739.8 2087.4 740.2 2086.9 740.5 2086.4 740.9 2085.8 741.4 2085 741.8 2084.4 742.2 2083.9 742.6 2083.4 743 2082.9 743.4 2082.3 743.9 2081.7 744.4 2081.2 744.9 2080.6 745.4 2080.1 745.9 2079.5 746.4 2079 746.9 2078.4 747.4 2077.9 747.9 2077.4 748.4 2076.9 748.9 2076.4 749.4 2075.9 749.8 2075.4 750.3 2074.9 750.8 2074.4 751.4 2073.9 751.9 2073.4 752.4 2073 752.9 2072.6 753.4 2072.3 754 2071.9 754.9 2071.4 755.4 2071.2 756.4 2070.9 M756.2 2071.9 756.9 2071.7 757.9 2071.6 758.9 2071.8 759.4 2071.9 760.1 2072.4 760.5 2072.9 760.9 2073.5 761.2 2074.4 761.4 2075.4 761.4 2076.4 761.2 2077.4 760.9 2078.1 760.5 2078.9 760.2 2079.4 759.9 2079.9 759.4 2080.6 758.9 2081.2 758.4 2081.7 757.9 2082.2 757.4 2082.7 756.9 2083.1 756.4 2083.6 755.9 2084.1 755.4 2084.6 754.9 2085.1 754.4 2085.6 753.9 2086.2 753.4 2086.7 752.9 2087.2 752.4 2087.6 751.9 2088 751.4 2088.4 750.7 2088.9 750 2089.4 749.4 2089.8 748.9 2090.2 748.4 2090.5 747.8 2090.9 747.1 2091.4 746.4 2091.9 745.9 2092.2 745.4 2092.6 744.7 2092.9 743.9 2093.3 743.4 2093.4 742.4 2093.7 741.4 2093.8 740.4 2093.6 739.9 2093.4 739.4 2092.8 739.3 2091.9 739.4 2091.3 739.7 2090.4 739.9 2089.9 740.4 2088.9 740.6 2088.4 740.9 2087.9 741.4 2086.9 741.7 2086.4 742 2085.9 742.4 2085.3 742.9 2084.5 743.3 2083.9 743.7 2083.4 744.1 2082.9 744.5 2082.4 744.9 2081.9 745.4 2081.3 745.9 2080.8 746.4 2080.2 746.9 2079.6 747.4 2079.1 747.9 2078.5 748.4 2078 748.9 2077.5 749.4 2077 749.9 2076.4 750.4 2075.9 750.9 2075.4 751.4 2075 751.9 2074.5 752.4 2074.1 752.9 2073.7 753.4 2073.3 754 2072.9 754.9 2072.4 755.4 2072.2 756.2 2071.9 M756.2 2072.9 756.9 2072.8 757.9 2072.7 758.7 2072.9 759.4 2073.4 759.8 2073.9 760 2074.4 760.2 2075.4 760.2 2076.4 759.9 2077.4 759.8 2077.9 759.4 2078.6 758.9 2079.4 758.6 2079.9 758.2 2080.4 757.8 2080.9 757.3 2081.4 756.7 2081.9 756.2 2082.4 755.6 2082.9 755.1 2083.4 754.6 2083.9 754.1 2084.4 753.7 2084.9 753.2 2085.4 752.7 2085.9 752.2 2086.4 751.6 2086.9 750.9 2087.4 750.4 2087.8 749.9 2088.1 749.4 2088.5 748.7 2088.9 747.9 2089.3 747.4 2089.6 746.7 2089.9 745.9 2090.3 745.4 2090.5 744.4 2090.8 743.9 2090.9 743.1 2090.9 742.4 2090.5 742.1 2089.9 742.2 2088.9 742.4 2088.1 742.7 2087.4 742.9 2086.8 743.3 2085.9 743.6 2085.4 743.9 2084.9 744.4 2084.1 744.9 2083.4 745.3 2082.9 745.7 2082.4 746.1 2081.9 746.6 2081.4 747 2080.9 747.4 2080.4 747.9 2079.8 748.4 2079.3 748.9 2078.7 749.4 2078.2 749.9 2077.6 750.4 2077.1 750.9 2076.6 751.4 2076.1 751.9 2075.6 752.4 2075.2 752.9 2074.8 753.4 2074.4 754.1 2073.9 754.9 2073.4 755.4 2073.2 756.2 2072.9 M755.3 2074.4 755.9 2074.2 756.9 2074 757.9 2074.2 758.4 2074.7 758.7 2075.4 758.8 2076.4 758.5 2077.4 758.4 2077.9 757.9 2078.8 757.5 2079.4 757.1 2079.9 756.7 2080.4 756.1 2080.9 755.6 2081.4 755 2081.9 754.4 2082.4 753.9 2082.9 753.4 2083.3 752.9 2083.8 752.4 2084.3 751.9 2084.8 751.4 2085.3 750.9 2085.7 750.4 2086.1 749.9 2086.5 749.3 2086.9 748.4 2087.4 747.9 2087.6 746.9 2087.8 745.9 2087.7 745.3 2087.4 745 2086.4 745.2 2085.4 745.4 2084.9 745.9 2084.1 746.4 2083.4 746.8 2082.9 747.2 2082.4 747.6 2081.9 748 2081.4 748.4 2080.9 748.9 2080.3 749.4 2079.7 749.9 2079.1 750.4 2078.5 750.9 2078 751.4 2077.4 751.9 2076.9 752.4 2076.4 752.9 2076 753.4 2075.6 753.9 2075.2 754.4 2074.9 755.3 2074.4" fill="none" stroke="#000" stroke-width="1.1" stroke-linejoin="round"/>
<path d="M835.5 1821.4 L1011.7 1822.2 L1011.7 2005.8 L803.2 2095.1 L727.4 2029.9 Z" fill="none" stroke="#000" stroke-width="1"/>
<rect x="691.4" y="1819.5" width="323.6" height="323.4" fill="none" stroke="#333" stroke-width="1.35"/>
<line x1="710.3" y1="2142.9" x2="710.3" y2="2152.3" stroke="#000" stroke-width="1.15"/>
<line x1="682" y1="2122.3" x2="691.4" y2="2122.3" stroke="#000" stroke-width="1.15"/>
<line x1="714.3" y1="2142.9" x2="714.3" y2="2147.1" stroke="#444" stroke-width="1.15"/>
<line x1="687.2" y1="2118.3" x2="691.4" y2="2118.3" stroke="#444" stroke-width="1.15"/>
<line x1="718.8" y1="2142.9" x2="718.8" y2="2147.1" stroke="#444" stroke-width="1.15"/>
<line x1="687.2" y1="2113.8" x2="691.4" y2="2113.8" stroke="#444" stroke-width="1.15"/>
<line x1="723.3" y1="2142.9" x2="723.3" y2="2147.1" stroke="#444" stroke-width="1.15"/>
<line x1="687.2" y1="2109.3" x2="691.4" y2="2109.3" stroke="#444" stroke-width="1.15"/>
<line x1="728.3" y1="2142.9" x2="728.3" y2="2147.1" stroke="#444" stroke-width="1.15"/>
<line x1="687.2" y1="2104.3" x2="691.4" y2="2104.3" stroke="#444" stroke-width="1.15"/>
<line x1="733.7" y1="2142.9" x2="733.7" y2="2149.9" stroke="#444" stroke-width="1.15"/>
<line x1="684.4" y1="2098.9" x2="691.4" y2="2098.9" stroke="#444" stroke-width="1.15"/>
<line x1="740" y1="2142.9" x2="740" y2="2147.1" stroke="#444" stroke-width="1.15"/>
<line x1="687.2" y1="2092.6" x2="691.4" y2="2092.6" stroke="#444" stroke-width="1.15"/>
<line x1="745.6" y1="2142.9" x2="745.6" y2="2147.1" stroke="#444" stroke-width="1.15"/>
<line x1="687.2" y1="2087" x2="691.4" y2="2087" stroke="#444" stroke-width="1.15"/>
<line x1="751.8" y1="2142.9" x2="751.8" y2="2147.1" stroke="#444" stroke-width="1.15"/>
<line x1="687.2" y1="2080.8" x2="691.4" y2="2080.8" stroke="#444" stroke-width="1.15"/>
<line x1="758.3" y1="2142.9" x2="758.3" y2="2151.1" stroke="#000" stroke-width="1.15"/>
<line x1="683.2" y1="2074.3" x2="691.4" y2="2074.3" stroke="#000" stroke-width="1.15"/>
<line x1="764.3" y1="2142.9" x2="764.3" y2="2152.3" stroke="#000" stroke-width="1.15"/>
<line x1="682" y1="2068.3" x2="691.4" y2="2068.3" stroke="#000" stroke-width="1.15"/>
<line x1="770.3" y1="2142.9" x2="770.3" y2="2151.1" stroke="#000" stroke-width="1.15"/>
<line x1="683.2" y1="2062.3" x2="691.4" y2="2062.3" stroke="#000" stroke-width="1.15"/>
<line x1="776.9" y1="2142.9" x2="776.9" y2="2147.1" stroke="#444" stroke-width="1.15"/>
<line x1="687.2" y1="2055.7" x2="691.4" y2="2055.7" stroke="#444" stroke-width="1.15"/>
<line x1="781.7" y1="2142.9" x2="781.7" y2="2147.1" stroke="#444" stroke-width="1.15"/>
<line x1="687.2" y1="2050.9" x2="691.4" y2="2050.9" stroke="#444" stroke-width="1.15"/>
<line x1="787.4" y1="2142.9" x2="787.4" y2="2147.1" stroke="#444" stroke-width="1.15"/>
<line x1="687.2" y1="2045.2" x2="691.4" y2="2045.2" stroke="#444" stroke-width="1.15"/>
<line x1="793.1" y1="2142.9" x2="793.1" y2="2149.9" stroke="#444" stroke-width="1.15"/>
<line x1="684.4" y1="2039.5" x2="691.4" y2="2039.5" stroke="#444" stroke-width="1.15"/>
<line x1="798.5" y1="2142.9" x2="798.5" y2="2147.1" stroke="#444" stroke-width="1.15"/>
<line x1="687.2" y1="2034.1" x2="691.4" y2="2034.1" stroke="#444" stroke-width="1.15"/>
<line x1="803.5" y1="2142.9" x2="803.5" y2="2147.1" stroke="#444" stroke-width="1.15"/>
<line x1="687.2" y1="2029.1" x2="691.4" y2="2029.1" stroke="#444" stroke-width="1.15"/>
<line x1="808.3" y1="2142.9" x2="808.3" y2="2147.1" stroke="#444" stroke-width="1.15"/>
<line x1="687.2" y1="2024.3" x2="691.4" y2="2024.3" stroke="#444" stroke-width="1.15"/>
<line x1="812.8" y1="2142.9" x2="812.8" y2="2147.1" stroke="#444" stroke-width="1.15"/>
<line x1="687.2" y1="2019.8" x2="691.4" y2="2019.8" stroke="#444" stroke-width="1.15"/>
<line x1="816.7" y1="2142.9" x2="816.7" y2="2152.3" stroke="#000" stroke-width="1.15"/>
<line x1="682" y1="2015.9" x2="691.4" y2="2015.9" stroke="#000" stroke-width="1.15"/>
<line x1="845.2" y1="2142.9" x2="845.2" y2="2147.1" stroke="#444" stroke-width="1.15"/>
<line x1="687.2" y1="1987.4" x2="691.4" y2="1987.4" stroke="#444" stroke-width="1.15"/>
<line x1="861.9" y1="2142.9" x2="861.9" y2="2147.1" stroke="#444" stroke-width="1.15"/>
<line x1="687.2" y1="1970.7" x2="691.4" y2="1970.7" stroke="#444" stroke-width="1.15"/>
<line x1="873.7" y1="2142.9" x2="873.7" y2="2147.1" stroke="#444" stroke-width="1.15"/>
<line x1="687.2" y1="1958.9" x2="691.4" y2="1958.9" stroke="#444" stroke-width="1.15"/>
<line x1="881.2" y1="2142.9" x2="881.2" y2="2149.9" stroke="#444" stroke-width="1.15"/>
<line x1="684.4" y1="1951.4" x2="691.4" y2="1951.4" stroke="#444" stroke-width="1.15"/>
<line x1="887.9" y1="2142.9" x2="887.9" y2="2147.1" stroke="#444" stroke-width="1.15"/>
<line x1="687.2" y1="1944.7" x2="691.4" y2="1944.7" stroke="#444" stroke-width="1.15"/>
<line x1="892.7" y1="2142.9" x2="892.7" y2="2147.1" stroke="#444" stroke-width="1.15"/>
<line x1="687.2" y1="1939.9" x2="691.4" y2="1939.9" stroke="#444" stroke-width="1.15"/>
<line x1="898.1" y1="2142.9" x2="898.1" y2="2147.1" stroke="#444" stroke-width="1.15"/>
<line x1="687.2" y1="1934.5" x2="691.4" y2="1934.5" stroke="#444" stroke-width="1.15"/>
<line x1="902.2" y1="2142.9" x2="902.2" y2="2147.1" stroke="#444" stroke-width="1.15"/>
<line x1="687.2" y1="1930.4" x2="691.4" y2="1930.4" stroke="#444" stroke-width="1.15"/>
<line x1="906.3" y1="2142.9" x2="906.3" y2="2152.3" stroke="#000" stroke-width="1.15"/>
<line x1="682" y1="1926.3" x2="691.4" y2="1926.3" stroke="#000" stroke-width="1.15"/>
<line x1="930.6" y1="2142.9" x2="930.6" y2="2147.1" stroke="#444" stroke-width="1.15"/>
<line x1="687.2" y1="1902" x2="691.4" y2="1902" stroke="#444" stroke-width="1.15"/>
<line x1="942.9" y1="2142.9" x2="942.9" y2="2147.1" stroke="#444" stroke-width="1.15"/>
<line x1="687.2" y1="1889.7" x2="691.4" y2="1889.7" stroke="#444" stroke-width="1.15"/>
<line x1="952.4" y1="2142.9" x2="952.4" y2="2147.1" stroke="#444" stroke-width="1.15"/>
<line x1="687.2" y1="1880.2" x2="691.4" y2="1880.2" stroke="#444" stroke-width="1.15"/>
<line x1="960" y1="2142.9" x2="960" y2="2149.9" stroke="#444" stroke-width="1.15"/>
<line x1="684.4" y1="1872.6" x2="691.4" y2="1872.6" stroke="#444" stroke-width="1.15"/>
<line x1="965.7" y1="2142.9" x2="965.7" y2="2147.1" stroke="#444" stroke-width="1.15"/>
<line x1="687.2" y1="1866.9" x2="691.4" y2="1866.9" stroke="#444" stroke-width="1.15"/>
<line x1="970.4" y1="2142.9" x2="970.4" y2="2147.1" stroke="#444" stroke-width="1.15"/>
<line x1="687.2" y1="1862.2" x2="691.4" y2="1862.2" stroke="#444" stroke-width="1.15"/>
<line x1="975.1" y1="2142.9" x2="975.1" y2="2147.1" stroke="#444" stroke-width="1.15"/>
<line x1="687.2" y1="1857.5" x2="691.4" y2="1857.5" stroke="#444" stroke-width="1.15"/>
<line x1="979" y1="2142.9" x2="979" y2="2147.1" stroke="#444" stroke-width="1.15"/>
<line x1="687.2" y1="1853.6" x2="691.4" y2="1853.6" stroke="#444" stroke-width="1.15"/>
<line x1="982.4" y1="2142.9" x2="982.4" y2="2152.3" stroke="#000" stroke-width="1.15"/>
<line x1="682" y1="1850.2" x2="691.4" y2="1850.2" stroke="#000" stroke-width="1.15"/>
<line x1="1004.6" y1="2142.9" x2="1004.6" y2="2147.1" stroke="#444" stroke-width="1.15"/>
<line x1="687.2" y1="1828" x2="691.4" y2="1828" stroke="#444" stroke-width="1.15"/>
<line x1="759.7" y1="2142.9" x2="759.7" y2="2148.3" stroke="#222" stroke-width="0.9"/>
<line x1="686" y1="2072.9" x2="691.4" y2="2072.9" stroke="#222" stroke-width="0.9"/>
<line x1="760.8" y1="2142.9" x2="760.8" y2="2148.3" stroke="#222" stroke-width="0.9"/>
<line x1="686" y1="2071.8" x2="691.4" y2="2071.8" stroke="#222" stroke-width="0.9"/>
<line x1="761.9" y1="2142.9" x2="761.9" y2="2148.3" stroke="#222" stroke-width="0.9"/>
<line x1="686" y1="2070.7" x2="691.4" y2="2070.7" stroke="#222" stroke-width="0.9"/>
<line x1="763.1" y1="2142.9" x2="763.1" y2="2148.3" stroke="#222" stroke-width="0.9"/>
<line x1="686" y1="2069.5" x2="691.4" y2="2069.5" stroke="#222" stroke-width="0.9"/>
<line x1="765.5" y1="2142.9" x2="765.5" y2="2148.3" stroke="#222" stroke-width="0.9"/>
<line x1="686" y1="2067.1" x2="691.4" y2="2067.1" stroke="#222" stroke-width="0.9"/>
<line x1="766.7" y1="2142.9" x2="766.7" y2="2148.3" stroke="#222" stroke-width="0.9"/>
<line x1="686" y1="2065.9" x2="691.4" y2="2065.9" stroke="#222" stroke-width="0.9"/>
<line x1="767.8" y1="2142.9" x2="767.8" y2="2148.3" stroke="#222" stroke-width="0.9"/>
<line x1="686" y1="2064.8" x2="691.4" y2="2064.8" stroke="#222" stroke-width="0.9"/>
<line x1="768.9" y1="2142.9" x2="768.9" y2="2148.3" stroke="#222" stroke-width="0.9"/>
<line x1="686" y1="2063.7" x2="691.4" y2="2063.7" stroke="#222" stroke-width="0.9"/>
<text transform="translate(689 2175.2) scale(0.97 1)" font-size="20">-10<tspan dx="1.3" dy="-7.0" font-size="11.6">3</tspan></text>
<text transform="translate(764.3 2175.2) scale(0.97 1)" font-size="20" text-anchor="middle">0</text>
<text transform="translate(813.3 2175.2) scale(0.97 1)" font-size="20">10<tspan dx="1.3" dy="-7.0" font-size="11.6">3</tspan></text>
<text transform="translate(898.3 2175.2) scale(0.97 1)" font-size="20">10<tspan dx="1.3" dy="-7.0" font-size="11.6">4</tspan></text>
<text transform="translate(976 2175.2) scale(0.97 1)" font-size="20">10<tspan dx="1.3" dy="-7.0" font-size="11.6">5</tspan></text>
<text transform="translate(677 2130.7) scale(0.97 1)" font-size="20" text-anchor="end">-10<tspan dx="1.3" dy="-7.0" font-size="11.6">3</tspan></text>
<text transform="translate(675.4 2076.7) scale(0.97 1)" font-size="20" text-anchor="end">0</text>
<text transform="translate(677 2024.3) scale(0.97 1)" font-size="20" text-anchor="end">10<tspan dx="1.3" dy="-7.0" font-size="11.6">3</tspan></text>
<text transform="translate(677 1934.7) scale(0.97 1)" font-size="20" text-anchor="end">10<tspan dx="1.3" dy="-7.0" font-size="11.6">4</tspan></text>
<text transform="translate(677 1858.6) scale(0.97 1)" font-size="20" text-anchor="end">10<tspan dx="1.3" dy="-7.0" font-size="11.6">5</tspan></text>
<text transform="translate(860.9 1807.7) scale(0.96 1)" font-size="32.55" text-anchor="middle">MD39-pSer<tspan dy="5" font-size="22">4</tspan></text>
<path d="M1145.1 2112.7h1.3M1146.7 2111.2h1.3M1139.9 2117h1.3M1143.4 2104.3h1.3M1137.4 2118h1.3M1139.8 2108.7h1.3M1141.6 2115.5h1.3M1138.9 2121h1.3M1143.5 2114.5h1.3M1143.9 2116.3h1.3M1146.3 2109.1h1.3M1140.5 2106.7h1.3M1148.4 2108h1.3M1144 2111.3h1.3M1138.9 2119.8h1.3M1145 2116.6h1.3M1144.1 2113h1.3M1142.4 2106.7h1.3M1146.3 2112.9h1.3M1151.6 2106.5h1.3M1133.7 2116.3h1.3M1147.6 2111h1.3M1137.3 2114.5h1.3M1148.3 2110.9h1.3M1146 2112.7h1.3M1145 2111.1h1.3M1146.6 2104.5h1.3M1140.6 2113.9h1.3M1147.6 2102h1.3M1141 2106.7h1.3M1153.5 2113.2h1.3M1147.6 2102.7h1.3M1142.4 2112.1h1.3M1147.6 2110.7h1.3M1143.7 2109.3h1.3M1145.7 2106.4h1.3M1142.6 2117.3h1.3M1144.7 2106.1h1.3M1144.5 2114.3h1.3M1143.7 2120.5h1.3M1138.5 2110.5h1.3M1141.5 2110.1h1.3M1147.2 2111.1h1.3M1141 2113.4h1.3M1147.9 2101.8h1.3M1146 2112.5h1.3M1140.1 2117h1.3M1139.8 2122.9h1.3M1144.9 2104h1.3M1146.1 2109.7h1.3M1147 2108.8h1.3M1145.1 2117.7h1.3M1145.7 2106.8h1.3M1140.8 2114.8h1.3M1149.7 2111.1h1.3M1140 2115.7h1.3M1140.2 2102.2h1.3M1151.1 2110.3h1.3M1145.9 2107.4h1.3M1145 2113h1.3M1146.6 2106.6h1.3M1133.9 2115.8h1.3M1141.5 2113.2h1.3M1146.6 2104h1.3M1149.2 2106h1.3M1146.6 2114.1h1.3M1146.5 2109h1.3M1145.7 2113.9h1.3M1145.3 2113.8h1.3M1140.1 2109.2h1.3M1142.9 2112.5h1.3M1144.8 2102.3h1.3M1144 2113.2h1.3M1148.9 2107.2h1.3M1138.7 2121.1h1.3M1143.1 2114.9h1.3M1141 2106.9h1.3M1139.2 2110.6h1.3M1147.4 2108.8h1.3M1140.8 2112.3h1.3M1145.6 2113.5h1.3M1148.8 2106.3h1.3M1142.9 2107.9h1.3M1135.7 2114.8h1.3M1147.9 2101h1.3M1142.6 2110.2h1.3M1136.8 2113.7h1.3M1140.6 2107.5h1.3M1139.3 2112.7h1.3M1139.1 2114.1h1.3M1150.4 2106.4h1.3M1140.3 2118.2h1.3M1152.9 2107.6h1.3M1139.6 2114.3h1.3M1141.2 2112.8h1.3M1145.6 2109h1.3M1142.7 2108.5h1.3M1143.1 2120.6h1.3M1143.9 2113.3h1.3M1144.6 2106.7h1.3M1145.4 2107.7h1.3M1141.9 2111h1.3M1149 2108.3h1.3M1143.8 2109.2h1.3M1138.6 2114.5h1.3M1146.1 2108.2h1.3M1146.6 2113h1.3M1143.9 2112.7h1.3M1144.9 2111h1.3M1144.9 2109h1.3M1145.7 2106.8h1.3M1136.2 2115.5h1.3M1148 2105.9h1.3M1139.9 2107.3h1.3M1137.7 2113.2h1.3M1139.4 2113.6h1.3M1144.8 2111.7h1.3M1146.2 2108h1.3M1144.1 2114.5h1.3M1148 2106.3h1.3M1145.8 2112.5h1.3M1150.4 2106.9h1.3M1145.6 2114.8h1.3M1138.9 2112.5h1.3M1150.1 2107.8h1.3M1147.4 2110.2h1.3M1142.2 2111.6h1.3M1147.7 2105.2h1.3M1142.2 2108.4h1.3M1143.6 2110.5h1.3M1137.6 2114.9h1.3M1142.5 2111.9h1.3M1144.7 2108h1.3M1150.1 2114.3h1.3M1139.7 2117.1h1.3M1140.4 2108.5h1.3M1141.8 2110.6h1.3M1152.9 2107.3h1.3M1149.4 2110.9h1.3M1142.6 2113.5h1.3M1139 2116.7h1.3M1147.2 2110.7h1.3M1140.2 2110.5h1.3M1143.8 2107.7h1.3M1149.3 2105.1h1.3M1137.5 2114h1.3M1140.2 2111.4h1.3M1148.3 2106.3h1.3M1136.8 2116.7h1.3M1137.8 2117.6h1.3M1142.5 2112.9h1.3M1152.5 2108.4h1.3M1143.8 2118h1.3M1147.8 2100.3h1.3M1143.3 2112.1h1.3M1149.7 2103.7h1.3M1143.4 2109.8h1.3M1136 2114.3h1.3M1139.8 2113.8h1.3M1147.7 2110.1h1.3M1145.1 2103.3h1.3M1140.8 2116.8h1.3M1141.2 2117.1h1.3M1145.5 2105h1.3M1149.4 2108.4h1.3M1135.2 2113.5h1.3M1140.5 2117.4h1.3M1140.6 2113.2h1.3M1139.8 2114.2h1.3M1148.6 2108.6h1.3M1145.3 2107.7h1.3M1141.1 2118.5h1.3M1137.6 2114.9h1.3M1139.6 2114.7h1.3M1141.2 2112.6h1.3M1140.3 2104.9h1.3M1138.6 2115.2h1.3M1144.9 2112.8h1.3M1138.1 2114.4h1.3M1145.3 2110h1.3M1144.9 2116.5h1.3M1143.4 2107.4h1.3M1147.6 2107.2h1.3M1145.6 2115.6h1.3M1141.8 2110.6h1.3M1145.2 2111.7h1.3M1142.8 2112.2h1.3M1143 2108.5h1.3M1144.2 2107.9h1.3M1147.9 2110.5h1.3M1146.7 2104.9h1.3M1133.2 2121.6h1.3M1148.9 2102.1h1.3M1144.8 2106.8h1.3M1136.4 2117.7h1.3M1148 2107.1h1.3M1140.9 2114.5h1.3M1133 2121.1h1.3M1149.8 2109.1h1.3M1145.2 2109.7h1.3M1143.2 2106.1h1.3M1135.6 2116.4h1.3M1141 2107.5h1.3M1144.9 2109h1.3M1140 2110.4h1.3M1144.6 2106.9h1.3M1146.1 2108.9h1.3M1142.5 2113.2h1.3M1147 2110.2h1.3M1148.4 2105.5h1.3M1147.1 2111.5h1.3M1130.5 2121.8h1.3M1140.6 2112.4h1.3M1147.4 2107.5h1.3M1142.9 2107h1.3M1153.6 2108.3h1.3M1144.4 2121h1.3M1147 2114.4h1.3M1143.5 2115.1h1.3M1138.8 2118.1h1.3M1149.2 2105.6h1.3M1137.4 2117.6h1.3M1145.4 2108.3h1.3M1152.8 2109h1.3M1143.7 2117.5h1.3M1138.1 2112.1h1.3M1139.9 2111.5h1.3M1149.2 2103.7h1.3M1144.7 2114.5h1.3M1140.4 2117.9h1.3M1137 2116.7h1.3M1143 2108.4h1.3M1146.5 2107h1.3M1143.8 2112.2h1.3M1142.2 2122.2h1.3M1147.2 2112.1h1.3M1142.1 2108.1h1.3M1141.1 2111.6h1.3M1145.3 2110.6h1.3M1137.3 2120.6h1.3M1149.7 2107.7h1.3M1145 2107h1.3M1146.1 2102.6h1.3M1142.4 2113.6h1.3M1138.6 2113.9h1.3M1138.6 2113.2h1.3M1140.4 2112.9h1.3M1151.1 2107.8h1.3M1144.3 2115.6h1.3M1138.5 2122h1.3M1148.6 2107.9h1.3M1141.4 2109.7h1.3M1145.8 2106.2h1.3M1142.7 2111.9h1.3M1140.8 2109.9h1.3M1141.3 2114.9h1.3M1143.2 2115.7h1.3M1143.9 2109.9h1.3M1143.2 2120.4h1.3M1153.1 2108.4h1.3M1146.7 2103.5h1.3M1140.7 2112.9h1.3M1141.7 2114h1.3M1144.9 2106.6h1.3M1149.9 2105.9h1.3M1139.9 2111.7h1.3M1137.3 2115.1h1.3M1144.9 2112.7h1.3M1148.2 2105.2h1.3M1146.4 2112.4h1.3M1137.9 2120.9h1.3M1149 2109.4h1.3M1134.4 2116.1h1.3M1145.3 2113.9h1.3M1146.2 2115.5h1.3M1134.8 2117.4h1.3M1148.9 2107.4h1.3M1136.3 2111.3h1.3M1145 2111h1.3M1145 2104.5h1.3M1143.2 2116.7h1.3M1137.7 2114.9h1.3M1139.2 2112.4h1.3M1146.1 2106.6h1.3M1135.3 2113h1.3M1140.4 2110.5h1.3M1134.6 2111.7h1.3M1142.5 2119.3h1.3M1147.2 2107.5h1.3M1146.1 2116.6h1.3M1147.8 2108.9h1.3M1140.7 2116.1h1.3M1147.2 2107.3h1.3M1141.7 2115.4h1.3M1140.2 2109.5h1.3M1138.7 2114.4h1.3M1140.4 2107.4h1.3M1145.3 2108.2h1.3M1143.9 2116.2h1.3M1142 2118.7h1.3M1133.8 2122.2h1.3M1149.9 2107.5h1.3M1141.3 2116.7h1.3M1141.3 2115.5h1.3M1142.1 2107.5h1.3M1149.7 2106h1.3M1137.7 2113.5h1.3M1139.5 2119.8h1.3M1142.7 2106.4h1.3M1136.9 2118.3h1.3M1141.1 2113.4h1.3M1138.6 2110.3h1.3M1143.3 2113.8h1.3M1140.7 2116.9h1.3M1143.3 2106.6h1.3M1145.7 2119.2h1.3M1139.1 2112.8h1.3M1143.7 2110.6h1.3M1146.4 2110.6h1.3M1141.2 2104.5h1.3M1136.2 2117.8h1.3M1143.1 2111.1h1.3M1142.6 2112.8h1.3M1145.7 2113h1.3M1133.6 2120.5h1.3M1142 2109.5h1.3M1130.9 2120.1h1.3M1144 2110.4h1.3M1145.4 2111.6h1.3M1137.9 2113.2h1.3M1143.9 2104.4h1.3M1142.5 2117.9h1.3M1140.9 2115.4h1.3M1135.7 2116.6h1.3M1137.4 2115.4h1.3M1135.7 2118.7h1.3M1138.2 2118.5h1.3M1140.2 2115.5h1.3M1149.6 2104.8h1.3M1141.2 2108.7h1.3M1139 2108.5h1.3M1141 2121.4h1.3M1139.5 2109.5h1.3M1148.9 2114.8h1.3M1134.8 2122.4h1.3M1133 2128h1.3M1132.9 2122.6h1.3M1128.4 2130.9h1.3M1134.1 2120.1h1.3M1128.5 2126.4h1.3M1117.5 2134.8h1.3M1138 2124h1.3M1124.5 2131.4h1.3M1128.3 2130.1h1.3M1132.8 2128.2h1.3M1135.1 2127.3h1.3M1126.2 2131.2h1.3M1128.5 2130h1.3M1123.2 2130.2h1.3M1121.5 2130.8h1.3M1131.5 2124.3h1.3M1128.9 2132h1.3M1126.9 2132.5h1.3M1128.2 2133.6h1.3M1131.3 2126.9h1.3M1130.8 2129.1h1.3M1127.4 2129.2h1.3M1124.9 2131.5h1.3M1132.6 2130.3h1.3M1130.6 2130.6h1.3M1129.1 2121.3h1.3M1129.9 2121h1.3M1128.1 2117.1h1.3M1129 2124.6h1.3M1126.8 2130.1h1.3M1119.5 2133.3h1.3M1133.5 2121.7h1.3M1131.2 2128.7h1.3M1124.1 2131.9h1.3M1127.3 2129.7h1.3M1126.9 2129h1.3M1135.4 2124.4h1.3M1130.5 2127.1h1.3M1128.9 2129.1h1.3M1130.7 2126.4h1.3M1120.5 2130.9h1.3M1131.4 2130.8h1.3M1122.7 2133.4h1.3M1127.2 2125.2h1.3M1127.1 2130.8h1.3M1129.7 2124.9h1.3M1124.3 2127.3h1.3M1129.2 2125h1.3M1123.4 2126.1h1.3M1129.6 2125.4h1.3M1135.1 2126h1.3M1127.6 2125.3h1.3M1135.5 2121.6h1.3M1118 2136.9h1.3M1133.8 2131.3h1.3M1131.5 2119.3h1.3M1134.3 2121.4h1.3M1129.1 2121.1h1.3M1125.8 2130.7h1.3M1129.1 2123.9h1.3M1124.8 2129.6h1.3M1129.8 2116.6h1.3M1128.6 2125.5h1.3M1124.7 2134.3h1.3M1118 2132.3h1.3M1127.1 2133.5h1.3M1125 2136.5h1.3M1121.1 2136.3h1.3M1126.5 2134.9h1.3M1128.9 2121h1.3M1132.9 2117.7h1.3M1126.9 2125.4h1.3M1126.1 2126.9h1.3M1121.2 2135.5h1.3M1131.4 2132.1h1.3M1117 2133.2h1.3M1129.9 2126.4h1.3M1120.9 2123.5h1.3M1121.8 2134.4h1.3M1122.9 2130.2h1.3M1125.3 2129.7h1.3M1125.3 2133.5h1.3M1130.5 2120.2h1.3M1127.9 2128.3h1.3M1122.3 2127.7h1.3M1126 2132.3h1.3M1135.4 2122h1.3M1128.7 2129h1.3M1121.3 2132.1h1.3M1126.3 2133.1h1.3M1119.8 2131.8h1.3M1130 2128.9h1.3M1121.9 2132.8h1.3M1123.7 2131.8h1.3M1125.3 2129.3h1.3M1130.2 2131h1.3M1128.1 2128.6h1.3M1122.9 2139.6h1.3M1129.6 2127.3h1.3M1127.2 2131h1.3M1132.9 2126.1h1.3M1124.9 2129.4h1.3M1131.7 2125.5h1.3M1122.8 2135.5h1.3M1130.6 2129.3h1.3M1125.1 2122.3h1.3M1123.4 2128.6h1.3M1133.9 2123.2h1.3M1137.8 2121.9h1.3M1128.9 2128.1h1.3M1133.6 2124.8h1.3M1131.7 2127.3h1.3M1128 2129.6h1.3M1130.3 2128.6h1.3M1123.8 2134.3h1.3M1130.4 2122h1.3M1140.3 2116h1.3M1133.8 2120.2h1.3M1133.4 2128.4h1.3M1133.5 2121.8h1.3M1120.2 2130.4h1.3M1123.2 2129.2h1.3M1126.4 2129.9h1.3M1123 2132.3h1.3M1151.7 2108.3h1.3M1141.7 2113.5h1.3M1186.3 2065.7h1.3M1143.4 2101.1h1.3M1159.2 2116.8h1.3M1170.8 2103.2h1.3M1152.5 2114h1.3M1158.3 2108.5h1.3M1185.9 2098.6h1.3M1149 2085.3h1.3M1172.5 2106.8h1.3M1144.7 2110h1.3M1150.3 2122.5h1.3M1148.7 2083.9h1.3M1185.4 2063.3h1.3M1157.3 2082.5h1.3M1159.6 2112.1h1.3M1194.9 2072.6h1.3M1149.9 2091.9h1.3M1168.4 2108.1h1.3M1201.6 2083.7h1.3M1152.4 2111.2h1.3M1198.8 2078.8h1.3M1160.6 2110.7h1.3M1143 2113h1.3M1159.7 2079.5h1.3M1196 2072.5h1.3M1145.1 2104.3h1.3M1149.1 2104.8h1.3M1156.4 2115.7h1.3M1198.4 2052.5h1.3M1191.8 2068.5h1.3M1147.6 2101.4h1.3M1159.8 2075.2h1.3M1166.6 2105.8h1.3M1141.4 2088.5h1.3M1197.8 2053.6h1.3M1183.7 2102.3h1.3M1147.3 2098.4h1.3M1142.1 2109.7h1.3M1142.8 2105.5h1.3M1196.1 2081.2h1.3M1165.7 2107.1h1.3M1167.2 2104.7h1.3M1193.3 2074.7h1.3M1157.6 2080h1.3M1174 2065.7h1.3M1145.9 2111h1.3M1151.5 2109.3h1.3M1193.3 2070.6h1.3M1155.6 2074h1.3M1135.9 2114.7h1.3M1167 2067.8h1.3M1137 2126.3h1.3M1180.7 2098.3h1.3M1151.8 2112.4h1.3M1141.7 2105.9h1.3M1151.9 2080.8h1.3M1140.4 2091.5h1.3M1143.4 2113.7h1.3M1138.2 2127.5h1.3M1155.5 2074.8h1.3M1157.1 2079.5h1.3M1146.9 2112.3h1.3M1142.8 2100.3h1.3M1184.8 2097.5h1.3M1190 2070.2h1.3M1151 2111.3h1.3M1158.5 2120.9h1.3M1146.2 2119.4h1.3M1193.1 2082.2h1.3M1156.8 2078.7h1.3M1152.8 2108.4h1.3M1141.1 2098.6h1.3M1179.4 2100.2h1.3M1150 2125h1.3M1156.3 2112.7h1.3M1149.1 2100.3h1.3M1142.6 2126.7h1.3M1195.8 2080.3h1.3M1175.7 2107.2h1.3M1193.3 2053.7h1.3M1151.6 2107h1.3M1144.7 2100.1h1.3M1175.4 2098.6h1.3M1155.5 2084.9h1.3M1139.7 2124.7h1.3M1150.5 2083h1.3M1158.5 2121.4h1.3M1152.8 2107.7h1.3M1146 2106.8h1.3M1153.1 2110.8h1.3M1147.8 2100.9h1.3M1192.5 2071h1.3M1157.4 2109h1.3M1142.6 2111.9h1.3M1148.1 2100.4h1.3M1190.4 2085.8h1.3M1166.1 2105.8h1.3M1160.4 2106.8h1.3M1176.5 2064.1h1.3M1167.3 2107.6h1.3M1150.1 2072.8h1.3M1201.8 2089.9h1.3M1184.5 2091.8h1.3M1129.5 2110.8h1.3M1146.3 2112.3h1.3M1145.3 2104.3h1.3M1191.4 2090.9h1.3M1163.8 2115.7h1.3M1125.7 2100h1.3M1151.2 2116.5h1.3M1146.1 2117.6h1.3M1195.4 2083.2h1.3M1181.8 2061.9h1.3M1149.2 2093.4h1.3M1161.5 2114.9h1.3M1150.9 2106h1.3M1143.7 2098.3h1.3M1169.7 2110.9h1.3M1181.2 2096.2h1.3M1160.9 2073.7h1.3M1148.1 2112h1.3M1168.7 2113.7h1.3M1195.3 2079h1.3M1183.4 2058.4h1.3M1132.4 2131.3h1.3M1191.3 2066.1h1.3M1150.8 2088.1h1.3M1167.3 2107.9h1.3M1185.4 2061.4h1.3M1177.1 2057.5h1.3M1149.6 2120.5h1.3M1172.8 2101.5h1.3M1142.8 2098.4h1.3M1192.8 2069.5h1.3M1195.5 2076.2h1.3M1191.5 2069.6h1.3M1189.8 2066.3h1.3M1194.2 2072.4h1.3M1191.4 2061.2h1.3M1189.5 2067.6h1.3M1195.3 2067.9h1.3M1199.3 2068.4h1.3M1195.1 2067.3h1.3M1196.4 2074h1.3M1193.5 2072.5h1.3M1197.3 2067.5h1.3M1188.9 2060h1.3M1197.4 2070.6h1.3M1191.7 2066.7h1.3M1195.9 2072h1.3M1189.6 2061.3h1.3M1192.3 2070.8h1.3M1194.3 2067.7h1.3M1196.5 2071.6h1.3M1193.9 2066.4h1.3M1191.7 2067.4h1.3M1191.2 2067.7h1.3M1202.7 2064.6h1.3M1192 2068.4h1.3M1194.7 2070.1h1.3M1198.9 2065.3h1.3M1191.8 2063.1h1.3M1191.7 2069.2h1.3M1190.8 2068.7h1.3M1201.5 2071h1.3M1194.2 2073.4h1.3M1194.9 2063.6h1.3M1192.9 2064.6h1.3M1194 2068.6h1.3M1200.5 2067.4h1.3M1200.4 2070.3h1.3M1197.5 2076.3h1.3M1196.6 2067.1h1.3M1192 2070.9h1.3M1200.8 2064.8h1.3M1191.8 2069.9h1.3M1199 2072.8h1.3M1194.3 2069.3h1.3M1192.5 2069.5h1.3M1192.2 2067.2h1.3M1195.3 2070.2h1.3M1201.4 2062.7h1.3M1194.8 2067.6h1.3M1191.5 2068h1.3M1199.6 2066h1.3M1193.7 2071h1.3M1193.4 2073h1.3M1189.1 2068.3h1.3M1195.8 2074.6h1.3M1189.4 2067.5h1.3M1198.5 2074.7h1.3M1195.9 2066.9h1.3M1193.4 2062.5h1.3M1193.4 2068.2h1.3M1197.9 2070.6h1.3M1194.7 2068.2h1.3M1193.3 2070.6h1.3M1242.7 2025.3h1.3M1241 2042.1h1.3M1240.9 2033.2h1.3M1310.3 1981h1.3M1238.1 1996.9h1.3M1237.2 2028.6h1.3M1211.7 2049.7h1.3M1225.5 2026.9h1.3M1219.2 2031.7h1.3M1251 2014h1.3M1278.1 1990.5h1.3M1209 2043.3h1.3M1211.3 2035.7h1.3M1229.9 2045.7h1.3M1210.2 2043.3h1.3M1217.1 2036.9h1.3M1280.9 1988.4h1.3M1211.1 2051.9h1.3M1246.3 2022.5h1.3M1203.5 2067.3h1.3M1213.2 2032.3h1.3M1266.5 2022.2h1.3M1219.4 2046h1.3M1284.6 1990h1.3M1228.1 2039.5h1.3M1237.4 2005.4h1.3M1261 2012.9h1.3M1257.7 2017.1h1.3M1248.1 2012.3h1.3M1243.2 2025.8h1.3M1208.6 2055.5h1.3M1194.7 2060.5h1.3M1210.2 2057.9h1.3M1194.2 2050.8h1.3M1194.8 2066.2h1.3M1199.5 2053.9h1.3M1238.3 2018.9h1.3M1218.9 2039.4h1.3M1261.7 2008.3h1.3M1303.4 1973.7h1.3M1215 2046.8h1.3M1199.7 2051.4h1.3M1240.3 2000.3h1.3M1231.4 2034.9h1.3M1263.1 2010.5h1.3M1243.1 2019.3h1.3M1190.6 2058.8h1.3M1288.4 2005h1.3M1255.3 2018.9h1.3M1249.7 2008.1h1.3M1256.7 2013.2h1.3M1254.7 2007.7h1.3M1276.2 2013h1.3M1216 2038.8h1.3M1188.7 2063.8h1.3M1242.8 2017.3h1.3M1291.3 1984.1h1.3M1195.4 2054.3h1.3M1279.4 1998.1h1.3M1256.4 2005.3h1.3M1267.3 2003.5h1.3M1213.2 2044.4h1.3M1200.7 2061.1h1.3M1202.1 2039.5h1.3M1237.7 2031.9h1.3M1224.2 2034.6h1.3M1204.9 2057.9h1.3M1196.3 2035.9h1.3M1269.2 2006.5h1.3M1198.5 2058.3h1.3M1234.3 2021.8h1.3M1216.5 2050.5h1.3M1287.1 1967.2h1.3M1281.8 1998.4h1.3M1237.9 2013h1.3M1234.7 2023.9h1.3M1209 2032.3h1.3M1248.9 2025.7h1.3M1275.8 1989.2h1.3M1202.4 2057.4h1.3M1188.5 2055.5h1.3M1248.4 2030.8h1.3M1214.5 2036h1.3M1293.7 2004.3h1.3M1212.7 2051.7h1.3M1278.2 2004.7h1.3M1227.9 2026.9h1.3M1260.5 2007.6h1.3M1227.2 2044.1h1.3M1223.8 1996h1.3M1283.3 1971.4h1.3M1198.8 2050.3h1.3M1197.9 2053.8h1.3M1224.1 2035.7h1.3M1222.1 2042.7h1.3M1274.6 1985.4h1.3M1287 1983.9h1.3M1218.6 2018.5h1.3M1206.9 2050.8h1.3M1217 2047.4h1.3M1232.9 2059.2h1.3M1248.1 2031.2h1.3M1210.3 2044.6h1.3M1190.2 2067h1.3M1238.8 2009.9h1.3M1221 2038.2h1.3M1236 2032.5h1.3M1223.2 2035.2h1.3M1270.6 1998h1.3M1196.2 2059.7h1.3M1265.8 2002.9h1.3M1191 2062h1.3M1270.6 1998h1.3M1278.7 1985.8h1.3M1218.6 2052.7h1.3M1285.1 1973.4h1.3M1266.8 2007.6h1.3M1236.6 2026.8h1.3M1212.7 2040.6h1.3M1237.8 2021.7h1.3M1227.7 2034.8h1.3M1235.4 2025.4h1.3M1234.9 2015.9h1.3M1282.1 2017h1.3M1245.2 2020.9h1.3M1210 2039.1h1.3M1204.5 2030.6h1.3M1235.4 2017.7h1.3M1274.2 1966.1h1.3M1199.6 2064.9h1.3M1190.4 2062h1.3M1231.4 2026.2h1.3M1191.5 2061.2h1.3M1268.2 1967.8h1.3M1230.5 2009.7h1.3M1273.6 1987.3h1.3M1273.8 2009.2h1.3M1177.1 2060.4h1.3M1293.4 1988.4h1.3M1239.7 2028.9h1.3M1192.7 2043.2h1.3M1264.7 1986.7h1.3M1280.7 1996.3h1.3M1266.7 1972.6h1.3M1273.3 1988.3h1.3M1284.6 1948.7h1.3M1194.8 2041.5h1.3M1202 2054.8h1.3M1184.3 2060.5h1.3M1256.8 2009.6h1.3M1218.6 2046.8h1.3M1254.2 2017.5h1.3M1268.5 2001.2h1.3M1202 2052.8h1.3M1294.7 1978.5h1.3M1262.8 2014.4h1.3M1267.6 1997.2h1.3M1205.4 2029.6h1.3M1267 1988.2h1.3M1219.9 2041.6h1.3M1247.2 2000.8h1.3M1214.4 2056.4h1.3M1183.4 2057.9h1.3M1257.1 2016.7h1.3M1197.5 2058.9h1.3M1318.1 1995.7h1.3M1245.4 2017.7h1.3M1216.5 2050.5h1.3M1240.4 2015.4h1.3M1265.7 1989h1.3M1212.3 2031.1h1.3M1251.2 2008.6h1.3M1207.7 2028.6h1.3M1196.4 2058.4h1.3M1207.2 2045.7h1.3M1279.9 1978.5h1.3M1238.5 2019.8h1.3M1214 2047.9h1.3M1217 2044.8h1.3M1216.4 2030.1h1.3M1215.3 2043.7h1.3M1277 2014h1.3M1242.5 2006.1h1.3M1228.5 2006.4h1.3M1253.8 1991h1.3M1200.4 2059.8h1.3M1278.3 2008h1.3M1212.4 2044.6h1.3M1189.8 2047.4h1.3M1235.3 2028.3h1.3M1221.2 2037.6h1.3M1235.8 1989.4h1.3M1257 1985.7h1.3M1276.9 1987.1h1.3M1201.6 2044.5h1.3M1242.2 1998.9h1.3M1213.8 2044.6h1.3M1258.9 2020.4h1.3M1264.5 2009.8h1.3M1279 1985h1.3M1228.3 2036.1h1.3M1231.3 2015.5h1.3M1244.7 2027.2h1.3M1234.7 2019.4h1.3M1247.6 2023.3h1.3M1216.9 2047.6h1.3M1255.9 2001.9h1.3M1191.2 2058h1.3M1251.9 2022h1.3M1267.2 1999.3h1.3M1245.8 2069.4h1.3M1226.8 2081.9h1.3M1246.8 2081.4h1.3M1220.3 2103.4h1.3" fill="none" stroke="#000" stroke-width="1.3"/>
<path d="M1178.1 2063.3 1179 2063.2 1180 2063.2 1181 2063.3 1181.5 2063.3 1182.5 2063.5 1183.3 2063.8 1184 2064 1184.6 2064.3 1185.5 2064.8 1186 2065 1186.5 2065.4 1187.1 2065.8 1187.8 2066.3 1188.4 2066.8 1188.9 2067.3 1189.5 2067.8 1189.9 2068.3 1190.4 2068.8 1190.8 2069.3 1191.2 2069.8 1191.6 2070.3 1192 2070.9 1192.5 2071.8 1192.8 2072.3 1193 2072.8 1193.5 2073.8 1193.7 2074.3 1194 2075.3 1194.1 2075.8 1194.3 2076.8 1194.3 2077.8 1194.3 2078.8 1194.2 2079.8 1194 2080.7 1193.8 2081.3 1193.5 2082.2 1193.3 2082.8 1193 2083.3 1192.5 2084.1 1192 2084.8 1191.7 2085.3 1191.3 2085.8 1190.9 2086.3 1190.4 2086.8 1189.9 2087.3 1189.5 2087.8 1189 2088.3 1188.5 2088.8 1188 2089.3 1187.5 2089.8 1187 2090.3 1186.5 2090.8 1186 2091.3 1185.5 2091.8 1185 2092.3 1184.5 2092.8 1184 2093.3 1183.4 2093.8 1182.9 2094.3 1182.4 2094.8 1181.8 2095.3 1181.3 2095.8 1180.7 2096.3 1180.2 2096.8 1179.6 2097.3 1179 2097.8 1178.5 2098.2 1178 2098.6 1177.5 2099 1177 2099.4 1176.5 2099.8 1175.8 2100.3 1175.2 2100.8 1174.5 2101.3 1174 2101.6 1173.5 2102 1173 2102.3 1172.3 2102.8 1171.5 2103.3 1171 2103.6 1170.5 2104 1169.9 2104.3 1169.1 2104.8 1168.5 2105.1 1168 2105.4 1167.3 2105.8 1166.5 2106.2 1166 2106.5 1165.4 2106.8 1164.5 2107.2 1164 2107.4 1163.1 2107.8 1162.5 2108.1 1161.9 2108.3 1161 2108.6 1160.5 2108.8 1159.5 2109.1 1158.9 2109.3 1158 2109.5 1157 2109.6 1156 2109.7 1155 2109.8 1154 2109.8 1153 2109.7 1152 2109.4 1151.5 2109.2 1150.7 2108.8 1150 2108.3 1149.5 2107.9 1149 2107.3 1148.6 2106.8 1148.3 2106.3 1148 2105.5 1147.8 2104.8 1147.6 2103.8 1147.5 2102.8 1147.6 2101.8 1147.7 2100.8 1147.9 2099.8 1148 2099.3 1148.3 2098.3 1148.5 2097.6 1148.8 2096.8 1149 2096.2 1149.4 2095.3 1149.6 2094.8 1150 2093.9 1150.3 2093.3 1150.5 2092.8 1151 2091.8 1151.2 2091.3 1151.5 2090.8 1152 2089.9 1152.3 2089.3 1152.6 2088.8 1153 2088.2 1153.5 2087.4 1153.9 2086.8 1154.2 2086.3 1154.6 2085.8 1155 2085.2 1155.5 2084.4 1155.9 2083.8 1156.3 2083.3 1156.7 2082.8 1157.1 2082.3 1157.5 2081.7 1158 2081.1 1158.5 2080.4 1159 2079.8 1159.4 2079.3 1159.8 2078.8 1160.2 2078.3 1160.6 2077.8 1161 2077.3 1161.5 2076.8 1162 2076.2 1162.5 2075.7 1163 2075.1 1163.5 2074.6 1164 2074.1 1164.5 2073.5 1165 2073 1165.5 2072.5 1166 2072 1166.5 2071.5 1167 2071 1167.5 2070.5 1168 2070 1168.5 2069.5 1169 2069.1 1169.5 2068.6 1170 2068.1 1170.5 2067.7 1171 2067.2 1171.5 2066.8 1172.1 2066.3 1172.7 2065.8 1173.4 2065.3 1174 2064.9 1174.5 2064.6 1175.1 2064.3 1176 2063.9 1176.5 2063.7 1177.5 2063.4 1178.1 2063.3 M1177.9 2065.8 1178.5 2065.6 1179.5 2065.5 1180.5 2065.5 1181.5 2065.5 1182.5 2065.7 1183 2065.9 1184 2066.2 1184.5 2066.4 1185.2 2066.8 1186 2067.3 1186.5 2067.6 1187 2068 1187.5 2068.4 1188 2068.9 1188.5 2069.4 1189 2070 1189.5 2070.6 1190 2071.3 1190.3 2071.8 1190.6 2072.3 1191 2073.1 1191.3 2073.8 1191.5 2074.4 1191.7 2075.3 1191.9 2076.3 1192 2077.3 1191.9 2078.3 1191.8 2079.3 1191.5 2080.3 1191.4 2080.8 1191 2081.7 1190.7 2082.3 1190.4 2082.8 1190 2083.4 1189.5 2084.1 1189 2084.7 1188.5 2085.3 1188 2085.8 1187.5 2086.3 1187 2086.8 1186.5 2087.3 1186 2087.8 1185.6 2088.3 1185.1 2088.8 1184.6 2089.3 1184.1 2089.8 1183.6 2090.3 1183.1 2090.8 1182.6 2091.3 1182 2091.8 1181.5 2092.3 1181 2092.7 1180.5 2093.2 1180 2093.6 1179.5 2094.1 1179 2094.5 1178.5 2094.9 1178 2095.3 1177.5 2095.8 1176.8 2096.3 1176.2 2096.8 1175.5 2097.3 1175 2097.7 1174.5 2098.1 1174 2098.4 1173.5 2098.8 1172.8 2099.3 1172 2099.8 1171.5 2100.1 1171 2100.4 1170.4 2100.8 1169.5 2101.3 1169 2101.6 1168.5 2101.8 1167.5 2102.3 1167 2102.6 1166.5 2102.8 1165.5 2103.2 1165 2103.4 1164 2103.7 1163.5 2103.9 1162.5 2104.2 1162 2104.3 1161 2104.5 1160 2104.7 1159.5 2104.8 1158.5 2104.9 1157.5 2105 1156.5 2104.9 1156 2104.8 1155 2104.4 1154.5 2104.1 1154 2103.7 1153.5 2103.2 1153 2102.5 1152.7 2101.8 1152.5 2101.2 1152.4 2100.3 1152.3 2099.3 1152.3 2098.3 1152.5 2097.3 1152.5 2096.8 1152.8 2095.8 1153 2095.2 1153.3 2094.3 1153.5 2093.8 1153.9 2092.8 1154.1 2092.3 1154.5 2091.5 1154.8 2090.8 1155 2090.3 1155.5 2089.4 1155.8 2088.8 1156.1 2088.3 1156.5 2087.6 1157 2086.8 1157.3 2086.3 1157.6 2085.8 1158 2085.2 1158.5 2084.5 1159 2083.8 1159.4 2083.3 1159.8 2082.8 1160.2 2082.3 1160.6 2081.8 1161 2081.2 1161.5 2080.6 1162 2079.9 1162.5 2079.3 1162.9 2078.8 1163.3 2078.3 1163.7 2077.8 1164.2 2077.3 1164.7 2076.8 1165.1 2076.3 1165.6 2075.8 1166.1 2075.3 1166.5 2074.8 1167 2074.3 1167.5 2073.8 1168 2073.3 1168.5 2072.8 1169 2072.3 1169.5 2071.8 1170 2071.3 1170.5 2070.8 1171 2070.3 1171.6 2069.8 1172.1 2069.3 1172.7 2068.8 1173.3 2068.3 1174 2067.8 1174.5 2067.4 1175 2067.1 1175.5 2066.8 1176.5 2066.3 1177 2066.1 1177.9 2065.8 M1178.3 2067.3 1179 2067.1 1180 2067 1181 2067 1182 2067.1 1182.8 2067.3 1183.5 2067.5 1184.2 2067.8 1185 2068.2 1185.5 2068.5 1186 2068.8 1186.6 2069.3 1187.1 2069.8 1187.6 2070.3 1188 2070.8 1188.5 2071.4 1189 2072.2 1189.4 2072.8 1189.6 2073.3 1190 2074.3 1190.1 2074.8 1190.4 2075.8 1190.4 2076.8 1190.4 2077.8 1190.3 2078.8 1190 2079.8 1189.8 2080.3 1189.5 2081.1 1189.1 2081.8 1188.8 2082.3 1188.5 2082.8 1188 2083.4 1187.5 2084 1187 2084.6 1186.5 2085.1 1186 2085.6 1185.5 2086.1 1185 2086.6 1184.5 2087.1 1184 2087.7 1183.5 2088.2 1183 2088.7 1182.5 2089.2 1182 2089.7 1181.5 2090.2 1181 2090.6 1180.5 2091 1180 2091.5 1179.5 2091.9 1179 2092.4 1178.5 2092.8 1177.9 2093.3 1177.3 2093.8 1176.7 2094.3 1176.1 2094.8 1175.5 2095.2 1175 2095.6 1174.5 2096 1174 2096.3 1173.4 2096.8 1172.6 2097.3 1172 2097.7 1171.5 2098 1171 2098.4 1170.3 2098.8 1169.5 2099.2 1169 2099.5 1168.3 2099.8 1167.5 2100.2 1167 2100.4 1166 2100.8 1165.5 2101 1164.5 2101.3 1164 2101.4 1163 2101.6 1162 2101.8 1161.5 2101.8 1160.5 2101.8 1159.8 2101.8 1159 2101.7 1158 2101.4 1157.5 2101.2 1156.9 2100.8 1156.4 2100.3 1156 2099.7 1155.6 2098.8 1155.5 2098.3 1155.4 2097.3 1155.4 2096.3 1155.5 2095.8 1155.7 2094.8 1156 2093.8 1156.2 2093.3 1156.5 2092.3 1156.6 2091.8 1157 2090.8 1157.2 2090.3 1157.5 2089.6 1157.9 2088.8 1158.1 2088.3 1158.5 2087.6 1159 2086.8 1159.3 2086.3 1159.6 2085.8 1160 2085.2 1160.5 2084.5 1161 2083.8 1161.4 2083.3 1161.8 2082.8 1162.1 2082.3 1162.5 2081.8 1163 2081.1 1163.5 2080.5 1164 2079.8 1164.4 2079.3 1164.9 2078.8 1165.3 2078.3 1165.7 2077.8 1166.2 2077.3 1166.7 2076.8 1167.1 2076.3 1167.6 2075.8 1168.1 2075.3 1168.5 2074.8 1169 2074.3 1169.5 2073.8 1170 2073.3 1170.6 2072.8 1171.1 2072.3 1171.6 2071.8 1172.1 2071.3 1172.7 2070.8 1173.3 2070.3 1173.9 2069.8 1174.5 2069.3 1175 2068.9 1175.5 2068.6 1176 2068.3 1177 2067.8 1177.5 2067.6 1178.3 2067.3 M1179.5 2068.3 1180.5 2068.2 1181.5 2068.2 1182 2068.3 1183 2068.5 1183.7 2068.8 1184.5 2069.2 1185 2069.4 1185.5 2069.8 1186.1 2070.3 1186.7 2070.8 1187.1 2071.3 1187.5 2071.8 1188 2072.6 1188.4 2073.3 1188.6 2073.8 1189 2074.8 1189.1 2075.3 1189.2 2076.3 1189.2 2077.3 1189.1 2078.3 1189 2078.8 1188.7 2079.8 1188.4 2080.3 1188 2081.2 1187.6 2081.8 1187.3 2082.3 1186.9 2082.8 1186.5 2083.3 1186 2083.9 1185.5 2084.4 1185 2084.9 1184.5 2085.4 1184 2085.9 1183.5 2086.4 1183 2086.9 1182.5 2087.5 1182 2088 1181.5 2088.5 1181 2088.9 1180.5 2089.4 1180 2089.8 1179.5 2090.3 1178.9 2090.8 1178.3 2091.3 1177.7 2091.8 1177.1 2092.3 1176.5 2092.8 1176 2093.2 1175.5 2093.6 1175 2094 1174.5 2094.3 1173.8 2094.8 1173.1 2095.3 1172.5 2095.7 1172 2096 1171.5 2096.3 1170.7 2096.8 1170 2097.2 1169.5 2097.5 1169 2097.8 1168 2098.2 1167.5 2098.4 1166.5 2098.8 1166 2099 1165 2099.3 1164.5 2099.4 1163.5 2099.6 1162.5 2099.7 1161.5 2099.6 1160.5 2099.4 1160 2099.2 1159.5 2098.8 1158.9 2098.3 1158.5 2097.6 1158.2 2096.8 1158 2095.8 1158 2094.8 1158.1 2093.8 1158.3 2092.8 1158.5 2091.8 1158.6 2091.3 1158.9 2090.3 1159.1 2089.8 1159.5 2088.9 1159.8 2088.3 1160 2087.8 1160.5 2087 1160.9 2086.3 1161.2 2085.8 1161.5 2085.3 1162 2084.6 1162.5 2083.9 1163 2083.3 1163.3 2082.8 1163.7 2082.3 1164 2081.8 1164.5 2081.1 1165 2080.5 1165.5 2079.9 1166 2079.3 1166.4 2078.8 1166.9 2078.3 1167.3 2077.8 1167.8 2077.3 1168.2 2076.8 1168.7 2076.3 1169.2 2075.8 1169.6 2075.3 1170.1 2074.8 1170.7 2074.3 1171.2 2073.8 1171.7 2073.3 1172.2 2072.8 1172.8 2072.3 1173.4 2071.8 1174 2071.3 1174.5 2070.9 1175 2070.5 1175.5 2070.1 1176 2069.8 1176.8 2069.3 1177.5 2068.9 1178 2068.7 1179 2068.4 1179.5 2068.3 M1180 2069.3 1180.5 2069.2 1181.5 2069.3 1182 2069.3 1183 2069.6 1183.6 2069.8 1184.5 2070.3 1185 2070.6 1185.5 2071 1186 2071.5 1186.5 2072.1 1187 2072.8 1187.3 2073.3 1187.5 2073.8 1187.9 2074.8 1188 2075.3 1188.2 2076.3 1188.1 2077.3 1188 2078.2 1187.8 2078.8 1187.5 2079.7 1187.2 2080.3 1186.9 2080.8 1186.5 2081.5 1186 2082.2 1185.5 2082.8 1185.1 2083.3 1184.6 2083.8 1184.1 2084.3 1183.6 2084.8 1183.1 2085.3 1182.6 2085.8 1182.1 2086.3 1181.6 2086.8 1181.1 2087.3 1180.6 2087.8 1180.1 2088.3 1179.5 2088.8 1179 2089.3 1178.5 2089.7 1178 2090.1 1177.5 2090.6 1177 2091 1176.5 2091.4 1176 2091.8 1175.3 2092.3 1174.6 2092.8 1174 2093.2 1173.5 2093.6 1173 2093.9 1172.3 2094.3 1171.5 2094.8 1171 2095.1 1170.5 2095.4 1169.8 2095.8 1169 2096.2 1168.5 2096.5 1167.7 2096.8 1167 2097.1 1166.2 2097.3 1165.5 2097.4 1164.5 2097.6 1163.5 2097.6 1162.5 2097.5 1162 2097.3 1161.2 2096.8 1160.8 2096.3 1160.5 2095.8 1160.1 2094.8 1160 2094.1 1159.9 2093.3 1160 2092.3 1160.1 2091.8 1160.3 2090.8 1160.5 2090.1 1160.8 2089.3 1161 2088.8 1161.5 2087.8 1161.8 2087.3 1162 2086.8 1162.5 2086 1162.9 2085.3 1163.3 2084.8 1163.6 2084.3 1164 2083.7 1164.5 2083 1165 2082.3 1165.3 2081.8 1165.7 2081.3 1166.1 2080.8 1166.5 2080.2 1167 2079.6 1167.5 2079.1 1168 2078.5 1168.5 2077.9 1169 2077.4 1169.5 2076.9 1170 2076.4 1170.5 2075.9 1171 2075.4 1171.5 2074.9 1172 2074.4 1172.5 2073.9 1173 2073.5 1173.5 2073 1174 2072.6 1174.5 2072.2 1175 2071.8 1175.7 2071.3 1176.4 2070.8 1177 2070.4 1177.5 2070.1 1178.2 2069.8 1179 2069.5 1180 2069.3 M1179.9 2070.3 1180.5 2070.2 1181.5 2070.2 1182 2070.3 1183 2070.6 1183.5 2070.8 1184.4 2071.3 1185 2071.8 1185.5 2072.3 1185.9 2072.8 1186.2 2073.3 1186.5 2073.9 1186.9 2074.8 1187 2075.3 1187.1 2076.3 1187.1 2077.3 1187 2077.8 1186.7 2078.8 1186.5 2079.4 1186 2080.3 1185.7 2080.8 1185.4 2081.3 1185 2081.9 1184.5 2082.5 1184 2083 1183.5 2083.5 1183 2084 1182.5 2084.5 1182 2085.1 1181.5 2085.6 1181 2086.1 1180.5 2086.6 1180 2087.1 1179.5 2087.5 1179 2088 1178.5 2088.4 1178 2088.9 1177.5 2089.3 1176.9 2089.8 1176.2 2090.3 1175.6 2090.8 1175 2091.2 1174.5 2091.5 1174 2091.9 1173.3 2092.3 1172.6 2092.8 1172 2093.1 1171.5 2093.4 1170.9 2093.8 1170 2094.3 1169.5 2094.6 1169 2094.8 1168 2095.2 1167.5 2095.4 1166.5 2095.7 1165.6 2095.8 1165 2095.8 1164.5 2095.8 1163.5 2095.5 1163 2095.2 1162.5 2094.8 1162 2094.1 1161.7 2093.3 1161.6 2092.3 1161.7 2091.3 1161.9 2090.3 1162 2089.8 1162.4 2088.8 1162.6 2088.3 1163 2087.5 1163.4 2086.8 1163.6 2086.3 1164 2085.7 1164.5 2084.9 1164.9 2084.3 1165.2 2083.8 1165.5 2083.3 1166 2082.5 1166.5 2081.8 1166.9 2081.3 1167.2 2080.8 1167.7 2080.3 1168.1 2079.8 1168.5 2079.3 1169 2078.8 1169.5 2078.2 1170 2077.7 1170.5 2077.2 1171 2076.7 1171.5 2076.2 1172 2075.7 1172.5 2075.2 1173 2074.8 1173.5 2074.3 1174.1 2073.8 1174.7 2073.3 1175.3 2072.8 1175.9 2072.3 1176.5 2071.9 1177 2071.5 1177.5 2071.2 1178.3 2070.8 1179 2070.5 1179.9 2070.3 M1179.6 2071.3 1180.5 2071.2 1181.5 2071.2 1182.2 2071.3 1183 2071.6 1183.5 2071.9 1184.1 2072.3 1184.6 2072.8 1185 2073.3 1185.5 2074.1 1185.8 2074.8 1186 2075.6 1186.1 2076.3 1186 2077.3 1185.9 2077.8 1185.6 2078.8 1185.4 2079.3 1185 2080.1 1184.6 2080.8 1184.2 2081.3 1183.8 2081.8 1183.4 2082.3 1182.9 2082.8 1182.4 2083.3 1181.9 2083.8 1181.5 2084.3 1181 2084.8 1180.5 2085.3 1180 2085.8 1179.5 2086.3 1178.9 2086.8 1178.4 2087.3 1177.8 2087.8 1177.2 2088.3 1176.6 2088.8 1176 2089.3 1175.5 2089.6 1175 2089.9 1174.5 2090.3 1173.6 2090.8 1173 2091.2 1172.5 2091.5 1172 2091.8 1171.1 2092.3 1170.5 2092.6 1170 2092.9 1169.1 2093.3 1168.5 2093.5 1167.7 2093.8 1167 2094 1166 2094 1165 2093.8 1164.5 2093.5 1164 2093.1 1163.6 2092.3 1163.4 2091.8 1163.4 2090.8 1163.5 2090 1163.7 2089.3 1164 2088.3 1164.2 2087.8 1164.5 2087.2 1164.9 2086.3 1165.2 2085.8 1165.5 2085.3 1166 2084.4 1166.3 2083.8 1166.6 2083.3 1167 2082.7 1167.5 2082 1168 2081.3 1168.4 2080.8 1168.8 2080.3 1169.3 2079.8 1169.7 2079.3 1170.2 2078.8 1170.6 2078.3 1171.1 2077.8 1171.6 2077.3 1172.2 2076.8 1172.7 2076.3 1173.2 2075.8 1173.8 2075.3 1174.3 2074.8 1174.9 2074.3 1175.5 2073.8 1176 2073.4 1176.5 2073 1177 2072.6 1177.5 2072.3 1178.3 2071.8 1179 2071.5 1179.6 2071.3 M1179.5 2072.3 1180.5 2072.1 1181.5 2072.2 1182 2072.3 1183 2072.8 1183.5 2073.2 1184 2073.7 1184.4 2074.3 1184.6 2074.8 1184.9 2075.8 1185 2076.4 1185 2076.8 1184.9 2077.8 1184.5 2078.8 1184.3 2079.3 1184 2079.8 1183.5 2080.6 1183 2081.2 1182.5 2081.8 1182.1 2082.3 1181.6 2082.8 1181.1 2083.3 1180.7 2083.8 1180.2 2084.3 1179.7 2084.8 1179.2 2085.3 1178.7 2085.8 1178.1 2086.3 1177.6 2086.8 1177 2087.3 1176.5 2087.7 1176 2088.1 1175.5 2088.4 1174.9 2088.8 1174 2089.3 1173.5 2089.6 1173 2089.8 1172.1 2090.3 1171.5 2090.6 1171 2090.9 1170.1 2091.3 1169.5 2091.6 1168.8 2091.8 1168 2091.9 1167 2091.9 1166.5 2091.7 1165.9 2091.3 1165.5 2090.7 1165.3 2089.8 1165.4 2088.8 1165.5 2088.3 1165.8 2087.3 1166 2086.8 1166.5 2085.8 1166.7 2085.3 1167 2084.7 1167.5 2083.8 1167.7 2083.3 1168.1 2082.8 1168.5 2082.2 1169 2081.5 1169.5 2080.9 1170 2080.4 1170.5 2079.8 1171 2079.3 1171.4 2078.8 1171.9 2078.3 1172.5 2077.8 1173 2077.3 1173.5 2076.8 1174 2076.3 1174.5 2075.9 1175 2075.4 1175.5 2075 1176 2074.6 1176.5 2074.1 1177 2073.7 1177.6 2073.3 1178.4 2072.8 1179 2072.5 1179.5 2072.3 M1179.9 2073.3 1180.5 2073.2 1181.2 2073.3 1182 2073.6 1182.5 2073.9 1183 2074.4 1183.5 2075.3 1183.7 2075.8 1183.8 2076.8 1183.7 2077.8 1183.5 2078.3 1183 2079.3 1182.7 2079.8 1182.4 2080.3 1182 2080.8 1181.5 2081.4 1181 2082 1180.5 2082.5 1180 2083.1 1179.5 2083.6 1179 2084.1 1178.5 2084.6 1178 2085.1 1177.5 2085.6 1177 2086 1176.5 2086.4 1176 2086.8 1175.2 2087.3 1174.5 2087.7 1174 2088 1173.2 2088.3 1172.5 2088.6 1171.9 2088.8 1171 2089.1 1170.5 2089.3 1169.5 2089.6 1168.5 2089.5 1168 2089.3 1167.5 2088.4 1167.5 2087.8 1167.5 2087.3 1167.8 2086.3 1168 2085.5 1168.3 2084.8 1168.5 2084.3 1169 2083.3 1169.3 2082.8 1169.7 2082.3 1170.1 2081.8 1170.5 2081.3 1171 2080.7 1171.5 2080.2 1172 2079.6 1172.5 2079.1 1173 2078.6 1173.5 2078.2 1174 2077.7 1174.5 2077.2 1175 2076.7 1175.5 2076.3 1176.1 2075.8 1176.6 2075.3 1177.2 2074.8 1177.8 2074.3 1178.5 2073.9 1179 2073.6 1179.9 2073.3 M1179.8 2074.8 1180.5 2074.8 1181 2074.9 1181.6 2075.3 1182 2075.9 1182.2 2076.8 1182.1 2077.8 1181.9 2078.3 1181.5 2079.2 1181.1 2079.8 1180.8 2080.3 1180.4 2080.8 1180 2081.3 1179.5 2081.9 1179 2082.5 1178.5 2083 1178 2083.5 1177.5 2084 1177 2084.5 1176.5 2084.9 1176 2085.3 1175.2 2085.8 1174.5 2086.2 1174 2086.4 1173 2086.7 1172.1 2086.8 1171.9 2086.8 1171 2086.7 1170.4 2086.3 1170 2085.3 1170.2 2084.3 1170.5 2083.6 1170.9 2082.8 1171.3 2082.3 1171.6 2081.8 1172 2081.3 1172.5 2080.8 1173 2080.2 1173.5 2079.7 1174 2079.2 1174.5 2078.7 1175 2078.2 1175.5 2077.8 1176 2077.3 1176.7 2076.8 1177.3 2076.3 1177.9 2075.8 1178.5 2075.4 1179 2075.1 1179.8 2074.8" fill="none" stroke="#000" stroke-width="1.1" stroke-linejoin="round"/>
<path d="M1260.6 1821.3 L1436.8 1822.1 L1436.8 2005.7 L1228.3 2095 L1152.5 2029.8 Z" fill="none" stroke="#000" stroke-width="1"/>
<rect x="1116.5" y="1819.4" width="323.6" height="323.4" fill="none" stroke="#333" stroke-width="1.35"/>
<line x1="1135.4" y1="2142.8" x2="1135.4" y2="2152.2" stroke="#000" stroke-width="1.15"/>
<line x1="1107.1" y1="2122.2" x2="1116.5" y2="2122.2" stroke="#000" stroke-width="1.15"/>
<line x1="1139.4" y1="2142.8" x2="1139.4" y2="2147" stroke="#444" stroke-width="1.15"/>
<line x1="1112.3" y1="2118.2" x2="1116.5" y2="2118.2" stroke="#444" stroke-width="1.15"/>
<line x1="1143.9" y1="2142.8" x2="1143.9" y2="2147" stroke="#444" stroke-width="1.15"/>
<line x1="1112.3" y1="2113.7" x2="1116.5" y2="2113.7" stroke="#444" stroke-width="1.15"/>
<line x1="1148.4" y1="2142.8" x2="1148.4" y2="2147" stroke="#444" stroke-width="1.15"/>
<line x1="1112.3" y1="2109.2" x2="1116.5" y2="2109.2" stroke="#444" stroke-width="1.15"/>
<line x1="1153.4" y1="2142.8" x2="1153.4" y2="2147" stroke="#444" stroke-width="1.15"/>
<line x1="1112.3" y1="2104.2" x2="1116.5" y2="2104.2" stroke="#444" stroke-width="1.15"/>
<line x1="1158.8" y1="2142.8" x2="1158.8" y2="2149.8" stroke="#444" stroke-width="1.15"/>
<line x1="1109.5" y1="2098.8" x2="1116.5" y2="2098.8" stroke="#444" stroke-width="1.15"/>
<line x1="1165.1" y1="2142.8" x2="1165.1" y2="2147" stroke="#444" stroke-width="1.15"/>
<line x1="1112.3" y1="2092.5" x2="1116.5" y2="2092.5" stroke="#444" stroke-width="1.15"/>
<line x1="1170.7" y1="2142.8" x2="1170.7" y2="2147" stroke="#444" stroke-width="1.15"/>
<line x1="1112.3" y1="2086.9" x2="1116.5" y2="2086.9" stroke="#444" stroke-width="1.15"/>
<line x1="1176.9" y1="2142.8" x2="1176.9" y2="2147" stroke="#444" stroke-width="1.15"/>
<line x1="1112.3" y1="2080.7" x2="1116.5" y2="2080.7" stroke="#444" stroke-width="1.15"/>
<line x1="1183.4" y1="2142.8" x2="1183.4" y2="2151" stroke="#000" stroke-width="1.15"/>
<line x1="1108.3" y1="2074.2" x2="1116.5" y2="2074.2" stroke="#000" stroke-width="1.15"/>
<line x1="1189.4" y1="2142.8" x2="1189.4" y2="2152.2" stroke="#000" stroke-width="1.15"/>
<line x1="1107.1" y1="2068.2" x2="1116.5" y2="2068.2" stroke="#000" stroke-width="1.15"/>
<line x1="1195.4" y1="2142.8" x2="1195.4" y2="2151" stroke="#000" stroke-width="1.15"/>
<line x1="1108.3" y1="2062.2" x2="1116.5" y2="2062.2" stroke="#000" stroke-width="1.15"/>
<line x1="1202" y1="2142.8" x2="1202" y2="2147" stroke="#444" stroke-width="1.15"/>
<line x1="1112.3" y1="2055.6" x2="1116.5" y2="2055.6" stroke="#444" stroke-width="1.15"/>
<line x1="1206.8" y1="2142.8" x2="1206.8" y2="2147" stroke="#444" stroke-width="1.15"/>
<line x1="1112.3" y1="2050.8" x2="1116.5" y2="2050.8" stroke="#444" stroke-width="1.15"/>
<line x1="1212.5" y1="2142.8" x2="1212.5" y2="2147" stroke="#444" stroke-width="1.15"/>
<line x1="1112.3" y1="2045.1" x2="1116.5" y2="2045.1" stroke="#444" stroke-width="1.15"/>
<line x1="1218.2" y1="2142.8" x2="1218.2" y2="2149.8" stroke="#444" stroke-width="1.15"/>
<line x1="1109.5" y1="2039.4" x2="1116.5" y2="2039.4" stroke="#444" stroke-width="1.15"/>
<line x1="1223.6" y1="2142.8" x2="1223.6" y2="2147" stroke="#444" stroke-width="1.15"/>
<line x1="1112.3" y1="2034" x2="1116.5" y2="2034" stroke="#444" stroke-width="1.15"/>
<line x1="1228.6" y1="2142.8" x2="1228.6" y2="2147" stroke="#444" stroke-width="1.15"/>
<line x1="1112.3" y1="2029" x2="1116.5" y2="2029" stroke="#444" stroke-width="1.15"/>
<line x1="1233.4" y1="2142.8" x2="1233.4" y2="2147" stroke="#444" stroke-width="1.15"/>
<line x1="1112.3" y1="2024.2" x2="1116.5" y2="2024.2" stroke="#444" stroke-width="1.15"/>
<line x1="1237.9" y1="2142.8" x2="1237.9" y2="2147" stroke="#444" stroke-width="1.15"/>
<line x1="1112.3" y1="2019.7" x2="1116.5" y2="2019.7" stroke="#444" stroke-width="1.15"/>
<line x1="1241.8" y1="2142.8" x2="1241.8" y2="2152.2" stroke="#000" stroke-width="1.15"/>
<line x1="1107.1" y1="2015.8" x2="1116.5" y2="2015.8" stroke="#000" stroke-width="1.15"/>
<line x1="1270.3" y1="2142.8" x2="1270.3" y2="2147" stroke="#444" stroke-width="1.15"/>
<line x1="1112.3" y1="1987.3" x2="1116.5" y2="1987.3" stroke="#444" stroke-width="1.15"/>
<line x1="1287" y1="2142.8" x2="1287" y2="2147" stroke="#444" stroke-width="1.15"/>
<line x1="1112.3" y1="1970.6" x2="1116.5" y2="1970.6" stroke="#444" stroke-width="1.15"/>
<line x1="1298.8" y1="2142.8" x2="1298.8" y2="2147" stroke="#444" stroke-width="1.15"/>
<line x1="1112.3" y1="1958.8" x2="1116.5" y2="1958.8" stroke="#444" stroke-width="1.15"/>
<line x1="1306.3" y1="2142.8" x2="1306.3" y2="2149.8" stroke="#444" stroke-width="1.15"/>
<line x1="1109.5" y1="1951.3" x2="1116.5" y2="1951.3" stroke="#444" stroke-width="1.15"/>
<line x1="1313" y1="2142.8" x2="1313" y2="2147" stroke="#444" stroke-width="1.15"/>
<line x1="1112.3" y1="1944.6" x2="1116.5" y2="1944.6" stroke="#444" stroke-width="1.15"/>
<line x1="1317.8" y1="2142.8" x2="1317.8" y2="2147" stroke="#444" stroke-width="1.15"/>
<line x1="1112.3" y1="1939.8" x2="1116.5" y2="1939.8" stroke="#444" stroke-width="1.15"/>
<line x1="1323.2" y1="2142.8" x2="1323.2" y2="2147" stroke="#444" stroke-width="1.15"/>
<line x1="1112.3" y1="1934.4" x2="1116.5" y2="1934.4" stroke="#444" stroke-width="1.15"/>
<line x1="1327.3" y1="2142.8" x2="1327.3" y2="2147" stroke="#444" stroke-width="1.15"/>
<line x1="1112.3" y1="1930.3" x2="1116.5" y2="1930.3" stroke="#444" stroke-width="1.15"/>
<line x1="1331.4" y1="2142.8" x2="1331.4" y2="2152.2" stroke="#000" stroke-width="1.15"/>
<line x1="1107.1" y1="1926.2" x2="1116.5" y2="1926.2" stroke="#000" stroke-width="1.15"/>
<line x1="1355.7" y1="2142.8" x2="1355.7" y2="2147" stroke="#444" stroke-width="1.15"/>
<line x1="1112.3" y1="1901.9" x2="1116.5" y2="1901.9" stroke="#444" stroke-width="1.15"/>
<line x1="1368" y1="2142.8" x2="1368" y2="2147" stroke="#444" stroke-width="1.15"/>
<line x1="1112.3" y1="1889.6" x2="1116.5" y2="1889.6" stroke="#444" stroke-width="1.15"/>
<line x1="1377.5" y1="2142.8" x2="1377.5" y2="2147" stroke="#444" stroke-width="1.15"/>
<line x1="1112.3" y1="1880.1" x2="1116.5" y2="1880.1" stroke="#444" stroke-width="1.15"/>
<line x1="1385.1" y1="2142.8" x2="1385.1" y2="2149.8" stroke="#444" stroke-width="1.15"/>
<line x1="1109.5" y1="1872.5" x2="1116.5" y2="1872.5" stroke="#444" stroke-width="1.15"/>
<line x1="1390.8" y1="2142.8" x2="1390.8" y2="2147" stroke="#444" stroke-width="1.15"/>
<line x1="1112.3" y1="1866.8" x2="1116.5" y2="1866.8" stroke="#444" stroke-width="1.15"/>
<line x1="1395.5" y1="2142.8" x2="1395.5" y2="2147" stroke="#444" stroke-width="1.15"/>
<line x1="1112.3" y1="1862.1" x2="1116.5" y2="1862.1" stroke="#444" stroke-width="1.15"/>
<line x1="1400.2" y1="2142.8" x2="1400.2" y2="2147" stroke="#444" stroke-width="1.15"/>
<line x1="1112.3" y1="1857.4" x2="1116.5" y2="1857.4" stroke="#444" stroke-width="1.15"/>
<line x1="1404.1" y1="2142.8" x2="1404.1" y2="2147" stroke="#444" stroke-width="1.15"/>
<line x1="1112.3" y1="1853.5" x2="1116.5" y2="1853.5" stroke="#444" stroke-width="1.15"/>
<line x1="1407.5" y1="2142.8" x2="1407.5" y2="2152.2" stroke="#000" stroke-width="1.15"/>
<line x1="1107.1" y1="1850.1" x2="1116.5" y2="1850.1" stroke="#000" stroke-width="1.15"/>
<line x1="1429.7" y1="2142.8" x2="1429.7" y2="2147" stroke="#444" stroke-width="1.15"/>
<line x1="1112.3" y1="1827.9" x2="1116.5" y2="1827.9" stroke="#444" stroke-width="1.15"/>
<line x1="1184.8" y1="2142.8" x2="1184.8" y2="2148.2" stroke="#222" stroke-width="0.9"/>
<line x1="1111.1" y1="2072.8" x2="1116.5" y2="2072.8" stroke="#222" stroke-width="0.9"/>
<line x1="1185.9" y1="2142.8" x2="1185.9" y2="2148.2" stroke="#222" stroke-width="0.9"/>
<line x1="1111.1" y1="2071.7" x2="1116.5" y2="2071.7" stroke="#222" stroke-width="0.9"/>
<line x1="1187" y1="2142.8" x2="1187" y2="2148.2" stroke="#222" stroke-width="0.9"/>
<line x1="1111.1" y1="2070.6" x2="1116.5" y2="2070.6" stroke="#222" stroke-width="0.9"/>
<line x1="1188.2" y1="2142.8" x2="1188.2" y2="2148.2" stroke="#222" stroke-width="0.9"/>
<line x1="1111.1" y1="2069.4" x2="1116.5" y2="2069.4" stroke="#222" stroke-width="0.9"/>
<line x1="1190.6" y1="2142.8" x2="1190.6" y2="2148.2" stroke="#222" stroke-width="0.9"/>
<line x1="1111.1" y1="2067" x2="1116.5" y2="2067" stroke="#222" stroke-width="0.9"/>
<line x1="1191.8" y1="2142.8" x2="1191.8" y2="2148.2" stroke="#222" stroke-width="0.9"/>
<line x1="1111.1" y1="2065.8" x2="1116.5" y2="2065.8" stroke="#222" stroke-width="0.9"/>
<line x1="1192.9" y1="2142.8" x2="1192.9" y2="2148.2" stroke="#222" stroke-width="0.9"/>
<line x1="1111.1" y1="2064.7" x2="1116.5" y2="2064.7" stroke="#222" stroke-width="0.9"/>
<line x1="1194" y1="2142.8" x2="1194" y2="2148.2" stroke="#222" stroke-width="0.9"/>
<line x1="1111.1" y1="2063.6" x2="1116.5" y2="2063.6" stroke="#222" stroke-width="0.9"/>
<text transform="translate(1114.1 2175.1) scale(0.97 1)" font-size="20">-10<tspan dx="1.3" dy="-7.0" font-size="11.6">3</tspan></text>
<text transform="translate(1189.4 2175.1) scale(0.97 1)" font-size="20" text-anchor="middle">0</text>
<text transform="translate(1238.4 2175.1) scale(0.97 1)" font-size="20">10<tspan dx="1.3" dy="-7.0" font-size="11.6">3</tspan></text>
<text transform="translate(1323.4 2175.1) scale(0.97 1)" font-size="20">10<tspan dx="1.3" dy="-7.0" font-size="11.6">4</tspan></text>
<text transform="translate(1401.1 2175.1) scale(0.97 1)" font-size="20">10<tspan dx="1.3" dy="-7.0" font-size="11.6">5</tspan></text>
<text transform="translate(1102.1 2130.6) scale(0.97 1)" font-size="20" text-anchor="end">-10<tspan dx="1.3" dy="-7.0" font-size="11.6">3</tspan></text>
<text transform="translate(1100.5 2076.6) scale(0.97 1)" font-size="20" text-anchor="end">0</text>
<text transform="translate(1102.1 2024.2) scale(0.97 1)" font-size="20" text-anchor="end">10<tspan dx="1.3" dy="-7.0" font-size="11.6">3</tspan></text>
<text transform="translate(1102.1 1934.6) scale(0.97 1)" font-size="20" text-anchor="end">10<tspan dx="1.3" dy="-7.0" font-size="11.6">4</tspan></text>
<text transform="translate(1102.1 1858.5) scale(0.97 1)" font-size="20" text-anchor="end">10<tspan dx="1.3" dy="-7.0" font-size="11.6">5</tspan></text>
<text transform="translate(1276 1807.6) scale(0.96 1)" font-size="32.55" text-anchor="middle">MD39-pSer<tspan dy="5" font-size="22">8</tspan></text>
</svg>
</body></html>
